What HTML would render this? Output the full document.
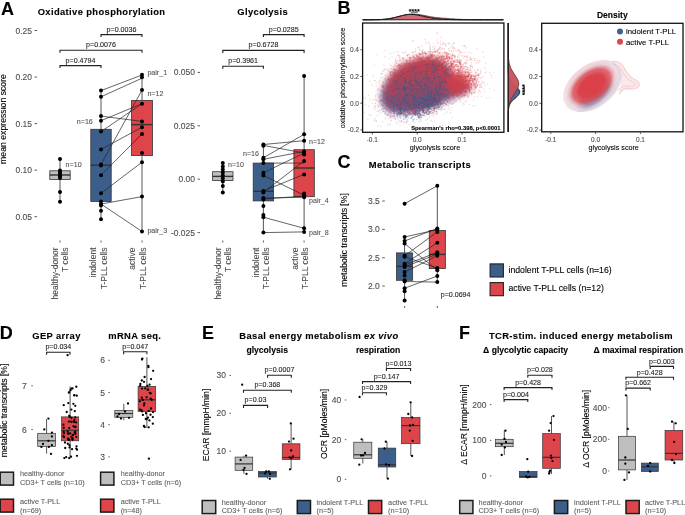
<!DOCTYPE html><html><head><meta charset="utf-8"><style>html,body{margin:0;padding:0;background:#fff;}svg{display:block;will-change:transform;} text{stroke:currentColor;stroke-width:0.1px;}</style></head><body>
<svg width="685" height="515" viewBox="0 0 685 515" font-family='"Liberation Sans", sans-serif'>
<rect width="685" height="515" fill="#fff"/>
<text x="1" y="14.7" font-size="18" font-weight="bold">A</text>
<text x="101.5" y="14.7" font-size="9.4" font-weight="bold" text-anchor="middle" letter-spacing="0.38">Oxidative phosphorylation</text>
<text x="5.9" y="119" font-size="8.7" text-anchor="middle" transform="rotate(-90 5.9 119)">mean expression score</text>
<line x1="34.5" y1="30.5" x2="37" y2="30.5" stroke="#333" stroke-width="0.8"/>
<text x="32" y="33.56" font-size="8.5" text-anchor="end" fill="#4D4D4D" color="#4D4D4D">0.25</text>
<line x1="34.5" y1="77.05" x2="37" y2="77.05" stroke="#333" stroke-width="0.8"/>
<text x="32" y="80.11" font-size="8.5" text-anchor="end" fill="#4D4D4D" color="#4D4D4D">0.20</text>
<line x1="34.5" y1="123.6" x2="37" y2="123.6" stroke="#333" stroke-width="0.8"/>
<text x="32" y="126.66" font-size="8.5" text-anchor="end" fill="#4D4D4D" color="#4D4D4D">0.15</text>
<line x1="34.5" y1="170.15" x2="37" y2="170.15" stroke="#333" stroke-width="0.8"/>
<text x="32" y="173.21" font-size="8.5" text-anchor="end" fill="#4D4D4D" color="#4D4D4D">0.10</text>
<line x1="34.5" y1="216.7" x2="37" y2="216.7" stroke="#333" stroke-width="0.8"/>
<text x="32" y="219.76" font-size="8.5" text-anchor="end" fill="#4D4D4D" color="#4D4D4D">0.05</text>
<line x1="60" y1="159" x2="60" y2="170.8" stroke="#555" stroke-width="1.0"/>
<line x1="60" y1="179.4" x2="60" y2="201.8" stroke="#555" stroke-width="1.0"/>
<rect x="49.8" y="170.8" width="20.4" height="8.6" fill="#BEBEBE" stroke="#333" stroke-width="0.8"/>
<line x1="49.8" y1="175" x2="70.2" y2="175" stroke="#333" stroke-width="1.4"/>
<line x1="101" y1="90.7" x2="101" y2="129.3" stroke="#555" stroke-width="1.0"/>
<line x1="101" y1="201.5" x2="101" y2="219.3" stroke="#555" stroke-width="1.0"/>
<rect x="90.8" y="129.3" width="20.4" height="72.2" fill="#3C5E8B" stroke="#333" stroke-width="0.8"/>
<line x1="90.8" y1="165.2" x2="111.2" y2="165.2" stroke="#333" stroke-width="1.4"/>
<line x1="142" y1="74.8" x2="142" y2="100.4" stroke="#555" stroke-width="1.0"/>
<line x1="142" y1="155.6" x2="142" y2="231.5" stroke="#555" stroke-width="1.0"/>
<rect x="131.6" y="100.4" width="20.8" height="55.2" fill="#DD454B" stroke="#333" stroke-width="0.8"/>
<line x1="131.6" y1="124.6" x2="152.4" y2="124.6" stroke="#333" stroke-width="1.4"/>
<line x1="101" y1="90.6" x2="142" y2="75" stroke="#222" stroke-width="0.7"/>
<line x1="101" y1="96.8" x2="142" y2="78.2" stroke="#222" stroke-width="0.7"/>
<line x1="101" y1="116.1" x2="142" y2="121.4" stroke="#222" stroke-width="0.7"/>
<line x1="101" y1="120.7" x2="142" y2="103.7" stroke="#222" stroke-width="0.7"/>
<line x1="101" y1="131.6" x2="142" y2="103.7" stroke="#222" stroke-width="0.7"/>
<line x1="101" y1="149.4" x2="142" y2="127.2" stroke="#222" stroke-width="0.7"/>
<line x1="101" y1="164.4" x2="142" y2="90.1" stroke="#222" stroke-width="0.7"/>
<line x1="101" y1="175.3" x2="142" y2="133.9" stroke="#222" stroke-width="0.7"/>
<line x1="101" y1="193.3" x2="142" y2="162.2" stroke="#222" stroke-width="0.7"/>
<line x1="101" y1="204" x2="142" y2="196.6" stroke="#222" stroke-width="0.7"/>
<line x1="101" y1="204" x2="142" y2="231.5" stroke="#222" stroke-width="0.7"/>
<circle cx="60" cy="159" r="2.0" fill="#000"/>
<circle cx="60" cy="170.5" r="2.0" fill="#000"/>
<circle cx="60" cy="172" r="2.0" fill="#000"/>
<circle cx="60" cy="173.5" r="2.0" fill="#000"/>
<circle cx="60" cy="175" r="2.0" fill="#000"/>
<circle cx="60" cy="176.5" r="2.0" fill="#000"/>
<circle cx="60" cy="178" r="2.0" fill="#000"/>
<circle cx="60" cy="192" r="2.0" fill="#000"/>
<circle cx="60" cy="201.8" r="2.0" fill="#000"/>
<circle cx="101" cy="90.6" r="2.0" fill="#000"/>
<circle cx="101" cy="96.8" r="2.0" fill="#000"/>
<circle cx="101" cy="116.1" r="2.0" fill="#000"/>
<circle cx="101" cy="120.7" r="2.0" fill="#000"/>
<circle cx="101" cy="131.6" r="2.0" fill="#000"/>
<circle cx="101" cy="149.4" r="2.0" fill="#000"/>
<circle cx="101" cy="164.4" r="2.0" fill="#000"/>
<circle cx="101" cy="165.5" r="2.0" fill="#000"/>
<circle cx="101" cy="175.3" r="2.0" fill="#000"/>
<circle cx="101" cy="193.3" r="2.0" fill="#000"/>
<circle cx="101" cy="201.5" r="2.0" fill="#000"/>
<circle cx="101" cy="204.1" r="2.0" fill="#000"/>
<circle cx="101" cy="205.5" r="2.0" fill="#000"/>
<circle cx="101" cy="210.7" r="2.0" fill="#000"/>
<circle cx="101" cy="219.3" r="2.0" fill="#000"/>
<circle cx="142" cy="74.8" r="2.0" fill="#000"/>
<circle cx="142" cy="77.3" r="2.0" fill="#000"/>
<circle cx="142" cy="90.1" r="2.0" fill="#000"/>
<circle cx="142" cy="103.7" r="2.0" fill="#000"/>
<circle cx="142" cy="121.4" r="2.0" fill="#000"/>
<circle cx="142" cy="127.2" r="2.0" fill="#000"/>
<circle cx="142" cy="133.9" r="2.0" fill="#000"/>
<circle cx="142" cy="153.1" r="2.0" fill="#000"/>
<circle cx="142" cy="162.2" r="2.0" fill="#000"/>
<circle cx="142" cy="196.6" r="2.0" fill="#000"/>
<circle cx="142" cy="231.5" r="2.0" fill="#000"/>
<path d="M60 68.1V65.6H101V68.1" fill="none" stroke="#222" stroke-width="1.1"/>
<text x="80.5" y="62.7" font-size="7.1" text-anchor="middle" fill="#222" color="#222">p=0.4794</text>
<path d="M60 52.7V50.2H142V52.7" fill="none" stroke="#222" stroke-width="1.1"/>
<text x="101" y="46.8" font-size="7.1" text-anchor="middle" fill="#222" color="#222">p=0.0076</text>
<path d="M101 37.1V34.6H142V37.1" fill="none" stroke="#222" stroke-width="1.1"/>
<text x="121.5" y="31.6" font-size="7.1" text-anchor="middle" fill="#222" color="#222">p=0.0036</text>
<text x="65.6" y="166.5" font-size="7.1" fill="#555" color="#555">n=10</text>
<text x="76.8" y="123.7" font-size="7.1" fill="#555" color="#555">n=16</text>
<text x="147.4" y="95.5" font-size="7.1" fill="#555" color="#555">n=12</text>
<text x="147.4" y="75.2" font-size="7.1" fill="#555" color="#555">pair_1</text>
<text x="147.4" y="232.8" font-size="7.1" fill="#555" color="#555">pair_3</text>
<line x1="60" y1="240.5" x2="60" y2="242.5" stroke="#333" stroke-width="0.8"/>
<line x1="101" y1="240.5" x2="101" y2="242.5" stroke="#333" stroke-width="0.8"/>
<line x1="142" y1="240.5" x2="142" y2="242.5" stroke="#333" stroke-width="0.8"/>
<text x="57.9" y="247.5" font-size="8.5" text-anchor="end" fill="#4D4D4D" color="#4D4D4D" transform="rotate(-90 57.9 247.5)">healthy-donor</text>
<text x="68.3" y="247.5" font-size="8.5" text-anchor="end" fill="#4D4D4D" color="#4D4D4D" transform="rotate(-90 68.3 247.5)">T cells</text>
<text x="96.3" y="247.5" font-size="8.5" text-anchor="end" fill="#4D4D4D" color="#4D4D4D" transform="rotate(-90 96.3 247.5)">indolent</text>
<text x="106.7" y="247.5" font-size="8.5" text-anchor="end" fill="#4D4D4D" color="#4D4D4D" transform="rotate(-90 106.7 247.5)">T-PLL cells</text>
<text x="135.4" y="247.5" font-size="8.5" text-anchor="end" fill="#4D4D4D" color="#4D4D4D" transform="rotate(-90 135.4 247.5)">active</text>
<text x="145.8" y="247.5" font-size="8.5" text-anchor="end" fill="#4D4D4D" color="#4D4D4D" transform="rotate(-90 145.8 247.5)">T-PLL cells</text>
<text x="262.7" y="14.7" font-size="9.4" font-weight="bold" text-anchor="middle" letter-spacing="0.38">Glycolysis</text>
<line x1="197.5" y1="72.4" x2="200" y2="72.4" stroke="#333" stroke-width="0.8"/>
<text x="195" y="75.46" font-size="8.5" text-anchor="end" fill="#4D4D4D" color="#4D4D4D">0.050</text>
<line x1="197.5" y1="125.8" x2="200" y2="125.8" stroke="#333" stroke-width="0.8"/>
<text x="195" y="128.86" font-size="8.5" text-anchor="end" fill="#4D4D4D" color="#4D4D4D">0.025</text>
<line x1="197.5" y1="179.2" x2="200" y2="179.2" stroke="#333" stroke-width="0.8"/>
<text x="195" y="182.26" font-size="8.5" text-anchor="end" fill="#4D4D4D" color="#4D4D4D">0.00</text>
<line x1="197.5" y1="232.6" x2="200" y2="232.6" stroke="#333" stroke-width="0.8"/>
<text x="195" y="235.66" font-size="8.5" text-anchor="end" fill="#4D4D4D" color="#4D4D4D">-0.025</text>
<line x1="222.8" y1="163.1" x2="222.8" y2="171.7" stroke="#555" stroke-width="1.0"/>
<line x1="222.8" y1="180.6" x2="222.8" y2="192.6" stroke="#555" stroke-width="1.0"/>
<rect x="212.6" y="171.7" width="20.4" height="8.9" fill="#BEBEBE" stroke="#333" stroke-width="0.8"/>
<line x1="212.6" y1="176.4" x2="233" y2="176.4" stroke="#333" stroke-width="1.4"/>
<line x1="263.4" y1="144.5" x2="263.4" y2="163.1" stroke="#555" stroke-width="1.0"/>
<line x1="263.4" y1="200.9" x2="263.4" y2="232.6" stroke="#555" stroke-width="1.0"/>
<rect x="253.2" y="163.1" width="20.4" height="37.8" fill="#3C5E8B" stroke="#333" stroke-width="0.8"/>
<line x1="253.2" y1="191.3" x2="273.6" y2="191.3" stroke="#333" stroke-width="1.4"/>
<line x1="304.1" y1="76" x2="304.1" y2="149.7" stroke="#555" stroke-width="1.0"/>
<line x1="304.1" y1="196.7" x2="304.1" y2="231.9" stroke="#555" stroke-width="1.0"/>
<rect x="293.9" y="149.7" width="20.4" height="47" fill="#DD454B" stroke="#333" stroke-width="0.8"/>
<line x1="293.9" y1="168" x2="314.3" y2="168" stroke="#333" stroke-width="1.4"/>
<line x1="263.4" y1="144.5" x2="304.1" y2="140.7" stroke="#222" stroke-width="0.7"/>
<line x1="263.4" y1="145.4" x2="304.1" y2="153" stroke="#222" stroke-width="0.7"/>
<line x1="263.4" y1="157.8" x2="304.1" y2="134.3" stroke="#222" stroke-width="0.7"/>
<line x1="263.4" y1="159.3" x2="304.1" y2="151.4" stroke="#222" stroke-width="0.7"/>
<line x1="263.4" y1="163.1" x2="304.1" y2="163.1" stroke="#222" stroke-width="0.7"/>
<line x1="263.4" y1="172.7" x2="304.1" y2="153.1" stroke="#222" stroke-width="0.7"/>
<line x1="263.4" y1="175.5" x2="304.1" y2="195.2" stroke="#222" stroke-width="0.7"/>
<line x1="263.4" y1="190.9" x2="304.1" y2="174.4" stroke="#222" stroke-width="0.7"/>
<line x1="263.4" y1="192.4" x2="304.1" y2="161" stroke="#222" stroke-width="0.7"/>
<line x1="263.4" y1="198" x2="304.1" y2="197.3" stroke="#222" stroke-width="0.7"/>
<line x1="263.4" y1="199" x2="304.1" y2="196" stroke="#222" stroke-width="0.7"/>
<line x1="263.4" y1="217.2" x2="304.1" y2="228.3" stroke="#222" stroke-width="0.7"/>
<line x1="263.4" y1="232.6" x2="304.1" y2="231.9" stroke="#222" stroke-width="0.7"/>
<circle cx="222.8" cy="163.1" r="2.0" fill="#000"/>
<circle cx="222.8" cy="166.4" r="2.0" fill="#000"/>
<circle cx="222.8" cy="169.5" r="2.0" fill="#000"/>
<circle cx="222.8" cy="172.5" r="2.0" fill="#000"/>
<circle cx="222.8" cy="175.5" r="2.0" fill="#000"/>
<circle cx="222.8" cy="178.5" r="2.0" fill="#000"/>
<circle cx="222.8" cy="181.5" r="2.0" fill="#000"/>
<circle cx="222.8" cy="186" r="2.0" fill="#000"/>
<circle cx="222.8" cy="192.6" r="2.0" fill="#000"/>
<circle cx="263.4" cy="144.5" r="2.0" fill="#000"/>
<circle cx="263.4" cy="145.8" r="2.0" fill="#000"/>
<circle cx="263.4" cy="157.8" r="2.0" fill="#000"/>
<circle cx="263.4" cy="159.3" r="2.0" fill="#000"/>
<circle cx="263.4" cy="163.1" r="2.0" fill="#000"/>
<circle cx="263.4" cy="172.7" r="2.0" fill="#000"/>
<circle cx="263.4" cy="175.5" r="2.0" fill="#000"/>
<circle cx="263.4" cy="190.9" r="2.0" fill="#000"/>
<circle cx="263.4" cy="192.4" r="2.0" fill="#000"/>
<circle cx="263.4" cy="198" r="2.0" fill="#000"/>
<circle cx="263.4" cy="199.5" r="2.0" fill="#000"/>
<circle cx="263.4" cy="205.9" r="2.0" fill="#000"/>
<circle cx="263.4" cy="215" r="2.0" fill="#000"/>
<circle cx="263.4" cy="217.2" r="2.0" fill="#000"/>
<circle cx="263.4" cy="232.6" r="2.0" fill="#000"/>
<circle cx="304.1" cy="76" r="2.0" fill="#000"/>
<circle cx="304.1" cy="134.3" r="2.0" fill="#000"/>
<circle cx="304.1" cy="140.7" r="2.0" fill="#000"/>
<circle cx="304.1" cy="151.4" r="2.0" fill="#000"/>
<circle cx="304.1" cy="153.1" r="2.0" fill="#000"/>
<circle cx="304.1" cy="154.6" r="2.0" fill="#000"/>
<circle cx="304.1" cy="161" r="2.0" fill="#000"/>
<circle cx="304.1" cy="174.4" r="2.0" fill="#000"/>
<circle cx="304.1" cy="193.5" r="2.0" fill="#000"/>
<circle cx="304.1" cy="195.2" r="2.0" fill="#000"/>
<circle cx="304.1" cy="197.3" r="2.0" fill="#000"/>
<circle cx="304.1" cy="228.3" r="2.0" fill="#000"/>
<circle cx="304.1" cy="231.9" r="2.0" fill="#000"/>
<path d="M222.8 68.8V66.3H263.4V68.8" fill="none" stroke="#222" stroke-width="1.1"/>
<text x="243.1" y="62.9" font-size="7.1" text-anchor="middle" fill="#222" color="#222">p=0.3961</text>
<path d="M222.8 52.9V50.4H304.1V52.9" fill="none" stroke="#222" stroke-width="1.1"/>
<text x="263.45" y="46.9" font-size="7.1" text-anchor="middle" fill="#222" color="#222">p=0.6728</text>
<path d="M263.4 37.1V34.6H304.1V37.1" fill="none" stroke="#222" stroke-width="1.1"/>
<text x="283.75" y="31.8" font-size="7.1" text-anchor="middle" fill="#222" color="#222">p=0.0285</text>
<text x="228" y="166.8" font-size="7.1" fill="#555" color="#555">n=10</text>
<text x="243" y="156.2" font-size="7.1" fill="#555" color="#555">n=16</text>
<text x="309" y="143.7" font-size="7.1" fill="#555" color="#555">n=12</text>
<text x="309" y="202.6" font-size="7.1" fill="#555" color="#555">pair_4</text>
<text x="309" y="234.7" font-size="7.1" fill="#555" color="#555">pair_8</text>
<line x1="222.8" y1="240.5" x2="222.8" y2="242.5" stroke="#333" stroke-width="0.8"/>
<line x1="263.4" y1="240.5" x2="263.4" y2="242.5" stroke="#333" stroke-width="0.8"/>
<line x1="304.1" y1="240.5" x2="304.1" y2="242.5" stroke="#333" stroke-width="0.8"/>
<text x="220.7" y="247.5" font-size="8.5" text-anchor="end" fill="#4D4D4D" color="#4D4D4D" transform="rotate(-90 220.7 247.5)">healthy-donor</text>
<text x="231.1" y="247.5" font-size="8.5" text-anchor="end" fill="#4D4D4D" color="#4D4D4D" transform="rotate(-90 231.1 247.5)">T cells</text>
<text x="258.7" y="247.5" font-size="8.5" text-anchor="end" fill="#4D4D4D" color="#4D4D4D" transform="rotate(-90 258.7 247.5)">indolent</text>
<text x="269.1" y="247.5" font-size="8.5" text-anchor="end" fill="#4D4D4D" color="#4D4D4D" transform="rotate(-90 269.1 247.5)">T-PLL cells</text>
<text x="297.5" y="247.5" font-size="8.5" text-anchor="end" fill="#4D4D4D" color="#4D4D4D" transform="rotate(-90 297.5 247.5)">active</text>
<text x="307.9" y="247.5" font-size="8.5" text-anchor="end" fill="#4D4D4D" color="#4D4D4D" transform="rotate(-90 307.9 247.5)">T-PLL cells</text>
<text x="337.5" y="14.3" font-size="18" font-weight="bold">B</text>
<defs><filter id="cb" x="-30%" y="-30%" width="160%" height="160%"><feGaussianBlur stdDeviation="3.2"/></filter><filter id="cb2" x="-50%" y="-50%" width="200%" height="200%"><feGaussianBlur stdDeviation="4"/></filter></defs>
<defs><linearGradient id="cgr" x1="0" y1="0" x2="0" y2="1"><stop offset="0" stop-color="#B8404F"/><stop offset="0.4" stop-color="#9E4460"/><stop offset="0.75" stop-color="#62558A"/><stop offset="1" stop-color="#6E5A8A"/></linearGradient></defs>
<g filter="url(#cb)" transform="translate(422 86) scale(0.93) translate(-422 -86)">
<path d="M378 96 C380 84 387 74 394 68 C401 62 409 58 417 57 C425 55 433 54 440 57 C446 60 450 66 455 72 C460 77 466 80 471 84 C474 88 470 94 463 96 C456 99 450 101 444 104 C436 108 428 110 418 112 C408 114 398 116 389 114 C381 111 377 104 378 96Z" fill="url(#cgr)"/>
</g>
<g filter="url(#cb2)">
<ellipse cx="458" cy="84" rx="11" ry="7" fill="#D8464F" fill-opacity="0.55"/>
<ellipse cx="424" cy="98" rx="11" ry="6" transform="rotate(-20 424 98)" fill="#4D6A9E" fill-opacity="0.55"/>
</g>
<path d="M428 109.3h0m-6.3-26.7h0m-13.6 13.4h0m35.4-5.2h0m-38.4 8.1h0m38.1 10.8h0m-27.3-10.2h0m35.5-14.7h0m-22.7 18.3h0m-29.2 2.7h0m22.4-9.5h0m-3.6 15.3h0m-28.1 11.5h0m54-23.7h0m6.3-26.8h0m-46.1 32.4h0m12.7-21.6h0m-12.7 18.9h0m9.1-18.3h0m12.7 12h0m-33.4 12h0m21.5-12.7h0m-22.1-11.5h0m29.8 8.2h0m14.9 18.2h0m-35.6-10.4h0m7.4-2.8h0m25.4-3.4h0m-20.6 21.2h0m12.7-25.8h0m-29.5 3.4h0m-5.5 6.8h0m28.4-0.5h0m-8.2-2.8h0m-7.9 7.9h0m22.3-25.9h0m-43.1 3.7h0m55.5-2.1h0m-32.8 2.7h0m29.6-15.7h0m-28.8 36.1h0m6.8-18.1h0m-12.2 29.2h0m12.3 5.6h0m-2.1-10.7h0m0.9-4.2h0m34.2-9.3h0m-8.2 0.9h0m-11.1 3.9h0m-4.1-25.2h0m-20.9 22.1h0m35.8-2.9h0m-21.2 6.3h0m2.7-14.1h0m0.2 7h0m-6.1 8h0m5.4-0.5h0m-7.6-16.8h0m-10.3 27.2h0m31.7 1.3h0m-11.7-41h0m32.8 8.2h0m-63.1 10.2h0m32.6 0.2h0m3.7-2.7h0m-5.9-1.5h0m19.5 8.8h0m-9.2-9.3h0m-13.2-7.9h0m-18 23.1h0m-13.7-8.5h0m26.6 6h0m-2.1-21.1h0m-16.7 24.2h0m39.9-22.3h0m-9.1 12.8h0m-17.6 2.1h0m9.2 10.6h0m-15.7 9.7h0m7.1-26.8h0m2.4-4.5h0m-13 5.5h0m-4 16.7h0m8.6-3.1h0m28.6 9.7h0m-12.4-9.1h0m-12.7-4.8h0m1.3-0.2h0m-22-4.2h0m12.9 30.2h0m40.5-43.5h0m6.4 6.8h0m-43.9-1.2h0m26.9 14.4h0m6.8 4.1h0m-44.8 6h0m31.3-1.6h0m-17.4-5.7h0m4.2-11.5h0m-3.8 14.5h0m-7.7 16.2h0m-2.9-47h0m-15 50.9h0m32.5-7.8h0m29.7-39.4h0m-0.5 10.1h0m-33.2 13.9h0m31.8-5.5h0m-28.8-10.6h0m-5.8-8.1h0m-0.2-0.4h0m-12 8h0m30.7 18.6h0m-28.8-9.9h0m21.1-2.9h0m-25.9 22.7h0m18.7-7.3h0m45.9-23.6h0m-77.3-0.4h0m-1.3 23.9h0m38.5-12.7h0m41.6 5.3h0m-55.1-6.9h0m15.4-4.1h0m-6.5 17.7h0m12.3-9.2h0m6.8-17.2h0m-35.9 8.9h0m19.8 25.7h0m0.1-25.9h0m0.7 31.6h0m13.5-27.1h0m18.9-6h0m-37.2 3.2h0m-2.1 13.7h0m-24.1-13h0m27 8.8h0m-10.7 18.1h0m11.4-36.8h0m20.4 0.8h0m-5 14.8h0m-48.5 24.6h0m41.8-20h0m-34.4-4.4h0m31.1-31.1h0m-4 36.7h0m27.6-24h0m-27.8 10.6h0m11.6-19.2h0m1.7 21h0m-53 24.5h0m62.5-26.5h0m-21 28.4h0m-13.4-27.4h0m15.4 0.7h0m-18.8 10.6h0m18-7.7h0m13.8-3.2h0m-6.3-2.1h0m-32.8 16.3h0m3.2-7.8h0m10.3-1.6h0m10.7-3.7h0m12.2-5.7h0m-21.2-5.3h0m10.7 29.8h0m2.3-7.1h0m9.1 3.7h0m-11.6-6.5h0m-7.7-7.5h0m19.4 9.7h0m-2.6 13.2h0m1.3-27h0m-19.6 2.3h0m12.7-1h0m-22.3 9.4h0m39-2.9h0m-6.3-5.9h0m1.2 7.7h0m-40.4 10.7h0m36.7-31.1h0m13.4 0.4h0m-9.2 21.1h0m-34.3 13.7h0m34.3-19.2h0m-4.3 4.3h0m-31.1 12.4h0m-4.6-7.7h0m31.4-29.1h0m-3.7 12.9h0m6.3 12.5h0m-27.7-3.1h0m44.9 13.4h0m-21-23.6h0m-13.3 24.8h0m13.7-20.3h0m-23.7-7.4h0m26.9 29.8h0m5.2-10.2h0m-27.8 0.9h0m-2.5 8.3h0m9.2-2h0m3 2.2h0m26.4-34h0m-35.9 31h0m22.2-8.5h0m7.4-7.1h0m-40.7 5.6h0m9.3-6.7h0m58.4-19.7h0m-63.3 26.6h0m47.2-19.6h0m-59.9 15h0m4.2 19.5h0m-17.1-8.1h0m30.1-11.3h0m30.3-1.8h0m-6.5 9.2h0m-4.1-5.9h0m13.5 5.6h0m-32.1 0h0m19-6.1h0m27.9-7.7h0m-14.9-5.8h0m-17.5 25.5h0m-1.1-21.9h0m3.4 4.9h0m-52.7 7.6h0m68.7 1.6h0m-0.1 3.8h0m-30.2-16.1h0m4.2 35h0m36.4-54h0" stroke="#4A6394" stroke-opacity="0.2" stroke-width="1.3" stroke-linecap="square" fill="none"/>
<path d="M406.7 106.7h0m48.6-48.8h0m-20.2 34.7h0m-8.7-22.7h0m7.7 11.8h0m16.7-7.6h0m-67.8 25.6h0m51.3-32.9h0m-8.1 19.2h0m-11.4 7.4h0m-37.6 22.2h0m39.8-29.5h0m17.3-8.5h0m-1.9-17.8h0m-3.3 21.2h0m-13 24.7h0m-28.5-5.2h0m54.2-29.3h0m-35.1 2.9h0m45.3 15.2h0m-33.8 26.6h0m65.6-58.7h0m-48.5 29.4h0m22.4-29.4h0m-10.2 12.9h0m15 9.7h0m-32.3-16.3h0m-15.6 27.8h0m-7.7 10.8h0m5-13.7h0m36.3-3.3h0m-27-7.9h0m5.8-4.9h0m-42.3 40.9h0m57.3-38h0m6.8-12.5h0m-45.9 23.2h0m40.3-23.5h0m-64.6 39h0m57.4 3.9h0m23.1-28.3h0m-26.2-14.4h0m9.5-18.7h0m-5.4 50.9h0m-8.5-6.3h0m-13.6-33.7h0m5.3 44.4h0m-0.1-24.3h0m21.6-10.8h0m-5.5 38.6h0m48.9-34.8h0m-80 15.3h0m53.4 2.6h0m-33.3-46.1h0m0.6 49.3h0m8.6-0.8h0m-53.7-10.8h0m43.3 16.3h0m-3.7-4.4h0m-10.4-10.2h0m21.8 8.4h0m-8.3-12.7h0m9.6 1.6h0m10.8 10.7h0m28.9-5.1h0m-56 1.2h0m8.6 16.6h0m-52-0.3h0m50.9-32.9h0m-7.5 43.7h0m24.2-25.1h0m-40.3 17.5h0m1.6-20.5h0m35.9-9h0m-52.9-16.7h0m39.2 42.9h0m-11.8-11.2h0m5.8-14.5h0m-15.2 6.1h0m50.2 8.5h0m-40.8-1h0m10.1 27.6h0m37.9-36.4h0m-36.3-12.2h0m16.3 30.2h0m9.4-31h0m-67 30.5h0m46.7-8.5h0m2.6 16.1h0m-30-51.3h0m-1.4 45.4h0m50-6.5h0m-37.6 0.6h0m11.2-17.4h0m24 0.3h0m-30.4-1.9h0m9 16.7h0m23.4-22.5h0m-60.2-13.3h0m36.1 24h0m-15.7-6.2h0m31.3 2.3h0m-36.5 17.1h0m35.8-17.3h0m9.8-7.3h0m-32-0.9h0m-28.6 26.1h0m0.9-16.5h0m-6.6 3.5h0m66.1 4.9h0m-33.3 5.8h0m26.5-13h0m21.3 5.3h0m-18-17.8h0m-30.6 22.5h0m-17.1 20.6h0m37.1-19.8h0m1.6-35.1h0m-45 0.7h0m19.3 44.8h0m-44-2h0m69.3-52.4h0m-26.7 28.4h0m-0.6 19.9h0m-18.5-34.5h0m5.9 23.5h0m68.1-19.9h0m-11.1 16h0m-62.7-4.3h0m44.9 13h0m-24.6 7.6h0m-22.9 19.6h0m42.7-29h0m12.9 12.5h0m-7.3-34.6h0m48.2 10.7h0m-84 33.3h0m-31.5-3.9h0m56-6.6h0m-19.9 8.2h0m37.9-22.7h0m-32-15.5h0m-5 25.1h0m31.5-9h0m-36.5-21.8h0m27.2 4.7h0m-17.6 11.1h0m49.9 16.6h0m-2.1-29.4h0m-14.4-2.6h0m-56.9 28.7h0m36.9-20.1h0m-18.2 11.9h0m20.4 13.5h0m27.4-3.7h0m-45.3-10.6h0m37.3 3.7h0m-14.6 32.3h0m15.5-36.2h0m-13.3 28.4h0m-13.5-52h0m-28.7 27.1h0m26.5 16.4h0m22.2-22.7h0m-13.7-10.7h0m9.7-33.1h0m-24.5 54h0m65-17.1h0m-60.2 12.8h0m38.4 3h0m-23.4 12.6h0m-3.8-34.5h0m-32.5 21.8h0m35.8-14.4h0m14.4-3.7h0m-64.1 4.6h0m30.6-16.1h0m24.9 40.3h0m-54.9 0.2h0m53-26.9h0m-34.1-1.5h0m16.8 37.7h0m-15.4 6.4h0m-5.4-6.4h0m44.5-41.9h0m-48 41.7h0m70.9-27.9h0m-18.2 20.9h0m15.4 5.5h0m-45.6-8.6h0m1.7 19.3h0m40.1-34.2h0m-34.2 17.1h0m-15.6 10.8h0m-0.2-40.4h0m9.9 1.8h0m14.8 41.2h0m-6.6-41.4h0m-33.1 9.5h0m-13.4 47.5h0m39.1-63.6h0m-8.3 23h0m2.7 1.4h0m22.5-29.6h0m-14.4 21.5h0m11.6-11.1h0m6.1 16h0m-33.7 17.9h0m33.3-30.4h0m-20.1-12.2h0m33.2 41.4h0m2.5-43.1h0m-9.5 10.9h0m-13 31.8h0m-7.7-14.4h0m-4 16.4h0m-37.5-19.9h0m27.6 27.8h0m-9.5-14.1h0m42.5-27.9h0m-42.4 7.9h0m22.3 10.4h0m2.4 19.2h0m-28.8-23.2h0m48.1-20h0m-24 16.7h0m-39.7-5.1h0m58.2 8.5h0m6.6-25.5h0m-10.5 27.3h0m-7.7 2.6h0m2.5-21.5h0m-19 28.1h0m-5.6-11.2h0m16.1 9.5h0m-29.8 0.9h0m56.5 3.2h0m-29.4-19.9h0m-18.9 30.7h0m21.5-38.4h0m-1.8 8.3h0m-25.1 5.8h0m30.5 37.8h0m5.4-41.1h0m-9 2.9h0m11.4 34.3h0m-12.8-29.2h0m-27.2 12.9h0m-6.2-12.3h0m1.8-28.9h0m19.8 5.6h0m15.7 21.4h0m38.2-33.4h0m-53.6 25.2h0m22.4 16.9h0m-19.9 11.1h0m12.9-35.4h0m-29.7 30.9h0m33.4 3h0m-14.3-9.5h0m16-18.9h0m10.7-38h0m-29.2 49.1h0m43.2-13.7h0m-21.4 4.8h0m9.3-13.1h0m-42 8.1h0m11.4 23.8h0m6.9-6.7h0m-9.9-10.6h0m31.6 7.9h0m-44.7-7.8h0m38.2 30.4h0m11.1-50.1h0m-15.1-8h0m-29.7 48.8h0m75-23.6h0m-58.1 13.7h0m-50.3-15h0m63.3 16.4h0m-11.3-44h0m1.9 44.6h0m29-38.7h0m-20.2-4.5h0m-50.1 54.9h0m38.7-6.8h0m2.3-29.2h0m-2.4 4.2h0m8.5 16.2h0m-41-12.9h0m11.6 20.4h0m13.9 5.4h0m9.3-8.8h0m-48.5-7.6h0m40.1 4.8h0m18.1-27.3h0m-8.3 32.3h0m-49.9 8.8h0m28.6 6.3h0m2.7-10.5h0m47.2-36.5h0m-45.5 21.4h0m16.5-14.1h0m-0.8-7.1h0m2.1 18.4h0m1.3-19.8h0m-22.5-0.7h0m-4.6 20.9h0m55-11.6h0m-26.2 17.7h0m6.5-41h0m-20.4 36.9h0m1.1 9.7h0m-14.8-41.4h0m15.8 33h0m53.1-29.3h0m-30.7 14.8h0m-18.5 32.6h0m-13.4-7.2h0m-7.9-0.5h0m18.9 19.5h0m54-23.7h0m-31.1-25h0m-2.9 13.4h0m31.7-11h0m-48.4 37.2h0m-11.7-12.3h0m26.2 32.3h0m-24.5-65.2h0m20.8-14.8h0m-16.6 41.1h0m-4 10.2h0m7.1 11.2h0m-33.5 13.4h0m48.9-34h0m-54 17.6h0m57.5-17.7h0m9.6 9.6h0m-45.7-41.7h0m22.9 41.4h0m0.8-31.1h0m-3.1-8.8h0m-2.1 39.4h0m30-4h0m-27-8.2h0m2-0.4h0m-22.7 38h0m-5.2-44.1h0m23.6 8.2h0m33.4-21.2h0m-17.8 46h0m-11.2-40.8h0m-27.3 24.1h0m26.1-42.9h0m35.5 15.9h0m-61.2 40.4h0m83.8-16.9h0m-46.2 15.9h0m-23.3-12.5h0m15.9 0.4h0m-3.8-2.1h0m-44.3 2.1h0m52.9-2.7h0m-18.9 3.9h0m36.2-23.5h0m36.5 19.6h0m-10.6-3.1h0m-12.6-26.7h0m-6.3 30h0m7.1-6.6h0m-3.8-5.1h0m1.9 6.1h0m-18.5 9.2h0m31-10.5h0m-37.6 10.6h0m20.1 2h0m-19.3 0.5h0m22.6-7.8h0m11.7-7.4h0m-5.2 19.2h0m-23.2-21.9h0m35-3.3h0m-8.9 7.7h0m0.7-0.6h0m0.5 20.2h0m-9.3-26h0m-16.3 17.6h0m15.3-7.1h0m18.5 7.5h0m-21-7.2h0m-2.1-4.1h0m12.2-8.5h0m-19.4-5.5h0m3 39.2h0m25.1-4.3h0m-12.3-22.3h0m3.6-5.2h0m7.3-0.3h0m-13.3-3.6h0m-14.8 26.1h0m-2-23.1h0m13.8 14.1h0m3.8-16.5h0m-15.9 17.2h0m12.5-19.8h0m-18.6 21.4h0m21.6-21.3h0m-13 9.5h0m6.3 1.9h0m12.6 2.6h0m-9.8-11.2h0m-14.8 8.5h0m51.3-11.5h0m-40.9 11.9h0m-4.8 7.3h0m8.9-5.9h0m23.3-11.7h0m-5.7-15.6h0m-27.6 38.2h0m21.6-25.1h0m-11 13.1h0m-9.4 4.9h0m10.8 8h0m2.1-11.9h0m15.8-4.9h0m-36.8 16.3h0m10.3-16.9h0m1.1-7.3h0m11.2 18.4h0m-10.1-4h0m6.3-4.1h0m-18.4-10.8h0m29.6 18.6h0m-3-1.9h0m4.8 3.6h0m-13.1 6.7h0m10.1-16.8h0m-7.9-1.7h0m7.9-6.2h0m-2.1-4.9h0m-4.9-4.2h0m-11.2 22h0m28.2-12.7h0m8.1 22.8h0m-43.9-0.3h0m13.4-6.4h0m35.3-13.4h0m-27.4 12.4h0m15.9-5.6h0" stroke="#D9434E" stroke-opacity="0.2" stroke-width="1.3" stroke-linecap="square" fill="none"/>
<path d="M400.4 89.9h0m0.4 9.5h0m16.8-11.1h0m14-6h0m-1.1 8.1h0m-38.3 15.2h0m30.6-16.6h0m-7.9-11.6h0m4.7 11.7h0m-22.5 14.7h0m-4-2.3h0m-2.7-5.3h0m9.8 16.2h0m16.7-26.9h0m20.5 3.2h0m-15.8 2h0m-4.5 2.5h0m11.7 5.2h0m-15.4 27.6h0m17.5-49.7h0m-7.9 10.9h0m-26.7-12.8h0m5.7 20.5h0m18.6 3.6h0m-11.8-5.4h0m11 9.1h0m-14.7-26h0m37.1 22.7h0m-30.2 1.6h0m-20.7 0.8h0m18.1-33.2h0m35 31h0m-0.8 1.3h0m-41.6-10.8h0m30.3 7.4h0m-31 4.8h0m30.4-1.6h0m-38.9-12.8h0m22.4 34.9h0m0.8-25.8h0m-8.9 0.4h0m41.9 11.1h0m-40.8-17.9h0m21.3 18h0m3.3-19.5h0m-29.5 16.6h0m36.5-20.5h0m-29.9 5h0m-32.5 21.5h0m31-13.7h0m16.8-23.6h0m22.6 28.2h0m-24-21.4h0m-11.9 27.3h0m21.7-9.3h0m0.9-2.7h0m-0.2-9.1h0m9.4 14.3h0m-37.4-7.8h0m21.4-22.5h0m-52.2 28.6h0m39.2-4.3h0m-7.1-2.3h0m29.3-0.7h0m-7 7.4h0m-13-1.2h0m-0.8 3.5h0m7.5-0.9h0m-17.6-9.5h0m-11.4 6.4h0m16.9-18.9h0m-9.7 7.5h0m6.2 12.1h0m-13.5 12.6h0m9.8-6.1h0m31.5-32.1h0m-14.9 14.8h0m-35.3 15.2h0m20.4 1.1h0m34.5 4.1h0m-46.4-2.6h0m8.9 1.5h0m16.3 8.8h0m-25.7-22.7h0m12.9 14.3h0m-17.3-21.2h0m-0.4 26.6h0m26.3-0.7h0m-27.4-12.1h0m6.6 16.5h0m9.7-21.1h0m5.8-11.5h0m-20.6 31.2h0m32.8-38.3h0m-20.2 25.5h0m-2-11.9h0m8.8 17.2h0m17.7-11.6h0m-23.8-7h0m-16.7 1.5h0m33.9 0h0m4.1-1.5h0m-0.8 16.1h0m-31.6-16h0m43.6 1.8h0m-45.1 18h0m32-13.5h0m8.6 7h0m-39.1 10.6h0m36.4-20h0m-2.9 9.6h0m-16.5 15.1h0m6.5-18.5h0m19.5-24.4h0m-6.5 15h0m4.4-11.5h0m-51.8 34.8h0m6.7-6.6h0m55.8-32.6h0m-17.7 33.3h0m-14.9-3.7h0m22.5-13.1h0m-46.8 19h0m63.9-9.1h0m-49.4 10.7h0m17.4-6.8h0m-34.5 2.1h0m1.1-7.6h0m51.2-8.2h0m-21.8-5.6h0m-15.7 2.5h0m-11.3 10.7h0m28.6 10.6h0m-8.4-21.8h0m29.9-1.3h0m-7.2 12.1h0m-35.4-22.8h0m24 40.5h0m34.4-11.8h0m-30 1.6h0m0.4 3.8h0m-24.1 5.1h0m10.2-11.4h0m-2.9-3.6h0m-6-0.8h0m-7.6 12.8h0m-0.9-1.1h0m7.9-8.7h0m17.1-16h0m-23.6 31.1h0m32.8-17h0m-0.1-34.6h0m2.4 40.3h0m6.6-15.3h0m-15.1-5h0m-3.9 20.8h0m-21.9-13.7h0m39.6 9.4h0m-37.4 0.2h0m39.7-6.8h0m-33.3 20.9h0m7.2-20.6h0m-5-0.3h0m-22.5 5.6h0m36-14.5h0m-28-0.8h0m-2.2 19.4h0m11.9-3.6h0m-2.5-13.8h0m49.2-4.7h0m-72 36.3h0m53.3-4.2h0m-39.4-15.4h0m26.6-1.1h0m-10.6-10.3h0m3 5.4h0m53.3-16.2h0m-33.6 18.4h0m-15.8-8.3h0m-30.5 18.6h0m8.2-2.7h0m28.4-29.2h0m-33.8 20.2h0m37-13.1h0m16 24.4h0m-36.8-29.9h0m16.7 22.1h0m15.4 8.9h0m4.9-14.7h0m-41.2-2.3h0m6.7 18.9h0m2.5 6h0m-4.2-24.2h0m7.8-5.7h0m7.9-11.2h0m-20.9 23.6h0m7 12.7h0m38.7 0.6h0m-36.7-13.6h0m-0.9 9.2h0m-5.7-4.1h0m17.8-17h0m6.5 25.7h0m4.6-16.4h0m26.3-18.2h0m-52.6 8.3h0m32.7 12.5h0m-11.2-3.7h0m-23.8 19.9h0m18.4-14.2h0m16.3-7.3h0m10.4 22.7h0m-34-15.7h0m-11.6 5.7h0m-9.9-12.2h0m62.1-0.6h0m-38.2 16.6h0m13.5-18.5h0m-9.2-18.1h0m10 30h0m-11.1-0.1h0m-5.4-15.4h0m-11.6 21.5h0m-4.5-11.7h0m21.7 6.2h0m11.2-10.1h0m-31.6 5.8h0m57.4 10.5h0m-37.6-11h0m4.1 3.5h0m0.3 21.3h0m-20.8-29.3h0m-19-2.2h0" stroke="#4A6394" stroke-opacity="0.2" stroke-width="1.3" stroke-linecap="square" fill="none"/>
<path d="M399.7 114.7h0m30.6-18.3h0m-3-22.5h0m-10 29h0m8.9-23.7h0m-37.4-8.1h0m34.4 26.7h0m-5.4-6.7h0m22.7-6.2h0m-35-32.2h0m30.7 31h0m-22.6-0.8h0m-33.6 15h0m54.2 2.8h0m16.3-16.4h0m-8.4-18h0m-33.2 22.3h0m20.9-14.7h0m56.2-10.3h0m-56.4 22.7h0m49.9-25.8h0m-48.3 30.4h0m-27.6-11.1h0m-2.7 25h0m-23.6-14.4h0m54.2 17.7h0m8.7-5.7h0m-54.4 7.5h0m47.8-66.3h0m-52.7 41.5h0m17.3-29.9h0m-4.5 24.2h0m14-6.4h0m29.4-12.7h0m-26.7 19.6h0m46.5 15.3h0m-61.8 2h0m42.2 15.4h0m-24.1-31.2h0m31.4-20h0m5.2-17.7h0m-12.3 40.1h0m-9.1-20.4h0m15.5 20.1h0m-64 18.1h0m52.2-39.8h0m-31 14.6h0m8.4-19.1h0m10.6 16.5h0m15.7-10.1h0m-21.9 40h0m-34.6-6.2h0m40.9-1.9h0m30.5-27.3h0m-54.3 40.9h0m5-33h0m48-9h0m-30.2-1.3h0m37.6 13.1h0m-45.1-3.6h0m22.3 4.7h0m-16.8-6h0m38.6 2.8h0m-39.2-14.6h0m6 27.5h0m-32.1-5.4h0m33.3-15.4h0m-9.8 4.4h0m29.3-17.3h0m-26.4 30.7h0m41.4-18.6h0m-37.4 49.2h0m9-68.1h0m13.1 40.8h0m-10.8-40.6h0m-11 56.1h0m13.7-19.4h0m26.1-4.3h0m5.5 6h0m-6.7-25h0m-79.7 33.1h0m54.6-11.4h0m-56 27h0m51.2-52.8h0m-31.3 27.8h0m50.5 3.6h0m-17.3-12.5h0m-13.8 7.6h0m15.3 20.2h0m-2.3-24.3h0m25.2 1.9h0m-38-0.2h0m19.8 4.4h0m2.8-35h0m-47.5 14h0m36.1 35.1h0m13.1-52.9h0m-23.2 34.4h0m-9.9-7.4h0m53.9-7.7h0m-39.2-6.2h0m-12.1 38.1h0m-28.1 3.3h0m46.7-47.4h0m3.9 22h0m-19.8 21.6h0m26.1-18.4h0m-65.2 28.4h0m44.6-11.6h0m45.7-40.8h0m-28.7 4h0m-48.5 18.2h0m55.7 2.9h0m-53.7-0.1h0m26.3 15.8h0m19.5-29.5h0m-3 6.2h0m-4.2-1h0m18 14h0m-41.3 12.7h0m7.4-4h0m30.9-19.1h0m15.4-19.4h0m-46.3 54.5h0m18.4-25.6h0m-24.3-21.2h0m-20.9 33.8h0m42.8-54.9h0m-29.2 61.8h0m13.2-15.4h0m-31.4 19.6h0m20.1-23h0m-19 10h0m21.8-1h0m-5-21.2h0m16.5 10.1h0m45.7-3.7h0m-40.2 3h0m31.3 5.6h0m-61.3-3.4h0m68.3-9.7h0m-21.9 1.2h0m-10-11.1h0m27.7-2.2h0m25.3 4.8h0m-62.4 13.9h0m13.9-3.7h0m-28-4.5h0m-7 16.9h0m4.8-15.2h0m27.8-7.7h0m29.4-0.4h0m-9.8 11.2h0m-2.8-4.4h0m-62.9 28.4h0m36.3-31.3h0m6.5-0.8h0m3 2.2h0m14.5 6.7h0m-28 8.7h0m7.8 10.3h0m-13.3 2h0m23-19.8h0m-43.4 35.9h0m34.3-32.8h0m21.2-23.7h0m-0.2 18.5h0m-42.5 38h0m16.6-39.5h0m-18.3 8.7h0m-7.3 26.3h0m22.4-20.6h0m8.6-29.3h0m3.9 13.6h0m-15.5 18.8h0m37.3 0.1h0m-11.3-26.4h0m7.7 4.4h0m-3 16.4h0m16.4-13.7h0m-48.2-0.4h0m-33 4.5h0m51.7-3.7h0m11.2-33h0m-37.7 7.7h0m30.5 29.7h0m-29.5-5.3h0m4.2-11.8h0m7.6 37.3h0m50.1-4.5h0m-20.9-37.4h0m24.5 2.4h0m-29.8 15h0m-18.1 18.3h0m1.2-1.1h0m5.2-12.7h0m0.3-3.7h0m-27.8 11.6h0m66-37.7h0m-50.5 33.1h0m1.3 15.4h0m36.9-17h0m-52.1 2.2h0m10.7 21.7h0m-39.4-26.7h0m36.8 15.4h0m0.3 4.2h0m20.2-36.8h0m20.8-20h0m-10.8 82h0m-34.5-34.5h0m51-30.3h0m-0.6 7.7h0m-40.6 8.9h0m10.4 22.9h0m35-41.9h0m-33.4 39h0m-28.7 9.8h0m47.2-12h0m1.6-2.8h0m-9.9-21.6h0m0.4 26.2h0m-3.1-54.7h0m-10.8 47.9h0m49.2-18.1h0m-41.5 2.9h0m17.7 43.4h0m-10.7-27.7h0m-19.9 1.5h0m23.8-14.5h0m-69.1 8.9h0m28.3-1h0m16 2.6h0m-25.6 5.2h0m32.3 4.6h0m4.4-24.3h0m-9.1 36.6h0m-4.6-9.1h0m-22.9-12.2h0m39.3-2.4h0m-1.4 22.2h0m-9.8-5.3h0m20.1-35.7h0m-20.9 29.2h0m-11.8 1.3h0m-10.7-16.7h0m46.8 23.2h0m11-25.8h0m-28.6-14.2h0m26 15.1h0m-17.3-18.8h0m-17.2 12.9h0m-34.9 22.2h0m74.9-12.4h0m-61.9 26.8h0m50.2-37.8h0m1.4 28.5h0m-10.2-25.8h0m-21.6 43h0m-1.9-43.2h0m-1 13.4h0m28.2-19.7h0m-18.6 24.2h0m-8.8-37.4h0m0.3 41.4h0m41.9-23h0m-25.5-12.6h0m9.7 16.8h0m-6.7 35.6h0m18.9-54.6h0m-16.6-10.1h0m-21.5 77.9h0m-0.3-41.7h0m49.7 6.5h0m-12.6-28.3h0m-43.3 0.1h0m13.9 34.1h0m-6.3-32.2h0m-8.4 9.7h0m14.2-9h0m-5.5 5.5h0m-30.2 19.9h0m5.4 9.3h0m-10.5-0.9h0m81 4.5h0m-55.8-12.9h0m23-8.1h0m-4-2.9h0m-0.8-10.1h0m-13.2 10.1h0m24.5 7.9h0m19.8-31.9h0m-13.6 13.2h0m-44.3 28.8h0m5.2 3h0m-7.1-12.7h0m21.4-5h0m-18.3 6h0m28.8-15.3h0m18-0.5h0m-0.9 1.9h0m-56.6 9.5h0m22.1 25.2h0m-8.3-27.7h0m73-3.2h0m-21.9 22.7h0m-42.1-35.5h0m13.4-23.7h0m56.7 8.6h0m-48.9 22.8h0m6.2-2.2h0m-34.2 3.3h0m70.9 4.5h0m-92.3-29.5h0m34.5 38.8h0m-7.9-5.9h0m50.3-5.8h0m-21.1 27.3h0m-37.2-16.8h0m10.8-0.3h0m30.7-28.6h0m-24.9 10.8h0m7 6.7h0m-5.1 20.5h0m17.7-3.1h0m28.8-24.3h0m-52.1-1.8h0m74.8 6.7h0m-66.5 14h0m0.3-0.4h0m0.5-9.1h0m2.5-4.6h0m-34.5 0.7h0m53.7 22.3h0m-62.1-19.3h0m4.7 12.2h0m51-16.4h0m-6.6 7.9h0m-6.1 42.1h0m1.2-24.3h0m23.9-11.1h0m4.9 0.9h0m-54.2 9.5h0m-1.7-27.8h0m-2.9 13.6h0m1-8.8h0m27.3 23.9h0m4.8-34.2h0m-42.1 38h0m7-13.1h0m54.6 11.5h0m-47.8-30.9h0m16.5 26h0m-7.9-25.2h0m14.3 6.2h0m53.3-1h0m-29.5-7.1h0m-62 23.7h0m46.5-39.3h0m44.8 6.6h0m-43.6 10.3h0m-25.4 19.4h0m15.4-0.4h0m-14.8 4.5h0m21.2-40.2h0m6.6 29.5h0m15.3-14.2h0m6.4 15.2h0m5.5 4.2h0m-18.3 1.1h0m4.5-2h0m-15.8-8.9h0m21.1-3.1h0m7.6 7.9h0m-22.9-0.5h0m30.3 6.7h0m-6.8-13.3h0m18.8 7.4h0m-23.6 7.5h0m5.8 0.2h0m13.6-0.2h0m-0.2-19.8h0m-0.9 17.9h0m-11.6-4h0m-2.8-7.2h0m-5.1 9.9h0m6.2-8.2h0m-18.9-6.4h0m2.3 3h0m-1.4 0.5h0m-5.2 5h0m9.9 11.3h0m17.8-7.2h0m-14.9 2.9h0m16.6-13.9h0m-4.8 7.6h0m-13.4-10.8h0m24.8 17.7h0m-30.2-7.6h0m21.4-12.3h0m-9.2 3.5h0m-7.3 18h0m15.6-13.7h0m9.3-2.9h0m-20.1 7.8h0m-16.2 10.8h0m18.1-6.7h0m4.8-8.5h0m-5.2 8.4h0m5.9-8.1h0m-9.5 5.5h0m16.6 7.7h0m-5.8-3.7h0m0.5-2h0m15.7 2h0m-16.7 1.6h0m-9 6.7h0m6.7-22.9h0m17 22.3h0m-19.4-2.6h0m-10.7 3.5h0m-3.2 4.4h0m23.5-26h0m-3.1 13.3h0m6.9-12.8h0m-14.6 9.2h0m10.4-15.4h0m-6.4 14.6h0m-3 10.9h0m-4.2-11h0m12.3 2.8h0m-1.8-2.1h0m21.4 12.2h0m-35-15h0m0.4 6.8h0m-14.4-8h0m10.6 19.9h0m-14.1-14.4h0m41.6 5.7h0m-24.7-4.2h0m-6.4-14.6h0m8.7 21.9h0m3.3-13.9h0m13.2 8h0m-15.4-4.4h0m11.6 3.9h0m10.5-4.2h0m-16.2-5.4h0" stroke="#D9434E" stroke-opacity="0.2" stroke-width="1.3" stroke-linecap="square" fill="none"/>
<path d="M420.8 115.5h0m10.5-21.7h0m-16.7 6.4h0m15.1-4.2h0m3 14.7h0m-30.1-0.4h0m13.7-21.5h0m-27.7 4.3h0m58.7-13.9h0m-15.5 13.9h0m-46.2 3.7h0m33 5.6h0m-7.5 0.2h0m-8.1-19.1h0m26.5 1.5h0m14 14.8h0m-30.2 6.8h0m42.2-37.3h0m-70.2 30.5h0m46.6-16.9h0m-32 15h0m38-3.4h0m-61.6 26.2h0m57-25.6h0m-34.8 2.6h0m-4.9 15.9h0m25.2-37.6h0m8 34.5h0m-24.7-4.8h0m19.7-11.9h0m-18.1 21.8h0m27-23.5h0m-15.5-7.8h0m-19 15h0m18.3 15.5h0m-16.1-6h0m-13-5.2h0m11.1-22.8h0m-1.2 30.3h0m12.7-3.8h0m-8 18.5h0m10.5-35.6h0m18.6 0.7h0m-7.6 19.3h0m-30.5-2.5h0m40.3 12.8h0m3.8-26.1h0m1.4-1.2h0m-29.1 9.6h0m13.6 3.5h0m26.3-26.7h0m-33.9-1.8h0m-14.2 13.3h0m7.3 22.8h0m2.4-22.6h0m-5.9-7.2h0m-12.1 27.1h0m24.3-11.2h0m-6.5-14.9h0m-0.1 5.7h0m23 0.6h0m-32.4 21.2h0m35-25.6h0m-15.5-9.5h0m5.1 30.4h0m-30.8 0.3h0m40.7-21.2h0m-42.6 22.1h0m7-4.2h0m48.6-9.7h0m-15.2-2.2h0m-13.3 10.9h0m-27.3 13.3h0m0.6-25.9h0m28.9-15.5h0m7.3 23h0m-19.9-9.3h0m11.7 23.5h0m-1.6-13.7h0m-6-3.8h0m19-4.5h0m-16.1-10.4h0m24.8 13.3h0m-7.7 6.4h0m-16.7 0h0m0.4 1.9h0m6.5 10.2h0m1.9-13h0m5.3-4.9h0m5.4 1.2h0m-14.1-2.1h0m1.9 10.7h0m5.5-7h0m-4.9 5.8h0m-34.4 15.3h0m9.2-22h0m31.6 20.8h0m-4.4-30h0m-13-3.8h0m-5.5 2.9h0m-5.9-4.4h0m29.3 11.7h0m-26.1-1.1h0m19.2-19.8h0m-15.6 12.5h0m3.9 18.1h0m-26.7 5.1h0m23.7 1.6h0m18-8.4h0m-23.4-9.4h0m26.5-2.5h0m0.9 4.3h0m-12.8-4.4h0m-11.5 4.2h0m7.7 11.2h0m-1.5-16.1h0m9.2 6.5h0m-5-6.1h0m22.1 12h0m-1 5.2h0m-40.3-18.3h0m1.4 7h0m21.2 9.5h0m4.1 0.2h0m6.6-1.8h0m-24.7 3.5h0m2-17.5h0m-21.6-6h0m34.3 9.7h0m-19.9 5h0m24.5 3.3h0m-34-0.5h0m-1.1 9.6h0m38.8-15.3h0m-1.8-10.9h0m-24.7 22.7h0m12.7-2.6h0m10.2 4.3h0m0.6-24.5h0m-3.3-0.2h0m-20.7 5.9h0m18.2 19.4h0m-25.3 3.2h0m16.6-26.2h0m-10.7 24.1h0m25.6-33.3h0m17.9 21h0m-24.9-13.5h0m-29.1 40.6h0m24.4-37.4h0m-20.7-7.9h0m13.9 25.9h0m17.1-14h0m-49.8 14.7h0m84.2-24h0m-42.3 20.9h0m-5.1-20.4h0m26.3 1.2h0m-34 24.2h0m42.7 4h0m-42.7-37.5h0m9.2 12.7h0m14.3 9h0m0.1-3.3h0m-44.9 13.4h0m32.1 7.3h0m-28.9-32.6h0m36.6 11h0m-2 29.1h0m-20.8-0.3h0m8.7-12.1h0m-6.9 2.8h0m-4-16.8h0m-2.2-3.3h0m-15 8.8h0m48.6-16.2h0m-27.7 19.4h0m-13.9 1.9h0m39.3 5.2h0m-61.6-6.2h0m43.7-3.2h0m-44.8 11.2h0m18.4-11.7h0m57.6-6.7h0m-12 16.1h0m8.3-10.7h0m11 2.4h0m-23.7-11.2h0m-19.8 0.1h0m41.7-1.4h0m-34.5-0.4h0m-43.1 30.2h0m68.9-18.9h0m7.2 3h0m-19.6-17h0m8.7-6.7h0m-5.8 21.2h0m-29.2-7.9h0m32.6-0.8h0m-12.6 0.7h0m-10.6 6h0m-16.2 11.3h0m-2.8-12h0m44.1-8.3h0m-13.5-2.9h0m-3.8 10.3h0m25.6 6.6h0m-20.1 11.6h0m34.3-36h0m-34.7 8.8h0m1.6 13.1h0m-28.2 13.1h0m-12.8-18.6h0m24.7 9.3h0m15.6 0.4h0m10.8 0.1h0m-66.8-7.1h0m34.3-14.4h0m7.4 2.3h0m28 9.5h0m-11.9 0.4h0m-22.3-1.7h0m22.2-2.6h0m-15.7 3.7h0m2.2-9.4h0m-14.4 13.6h0m9.5-6.8h0m28.5-2.4h0m-18.6-13.6h0m-15.6 21.7h0m47.4-7.4h0m-24.9 26.2h0m13.6-35.1h0" stroke="#4A6394" stroke-opacity="0.2" stroke-width="1.3" stroke-linecap="square" fill="none"/>
<path d="M378.5 82h0m64.1 4.7h0m28.5-33.5h0m-87.3 12.2h0m52.3 8h0m-1.1-8.8h0m23.2-15h0m-30.4 27.9h0m-8.1 33h0m8.7-23.2h0m-29.2-21.8h0m32.1 18.5h0m0 13.6h0m37-25.6h0m17 0.7h0m-60 0.1h0m13-5.5h0m-41.1-15.9h0m34.3 19h0m-61.7 10.7h0m65.4 3.9h0m-13.7-9h0m10.1-3h0m-13 3.4h0m24.2 4.2h0m-8.3 16.1h0m-3.3-33.3h0m-43.5 61.5h0m50.4-60h0m-6.5 30.3h0m0.3 3.6h0m8-17.4h0m-53.6 32.5h0m55.1-25.6h0m-21.5-30.4h0m-46.9 17.6h0m40.2-13.1h0m7.4 11.6h0m29.3-17.6h0m2.4 13.4h0m-26.4-28.2h0m50.2 41.6h0m-57.1-0.6h0m-9.1 2.4h0m-21.3 14.7h0m49.4-16.9h0m-17.5 11.1h0m-29.6-9.2h0m49.2-24.5h0m-30.5 51h0m4.9-19.4h0m14 0.7h0m-51.2-37.8h0m54.4 55.2h0m-24.2-36.3h0m-21.6 10.5h0m19.9 18.6h0m41.9-22.6h0m-8.1-31.5h0m-13 49h0m33.6-27.5h0m-62.6 17.9h0m-7.9-1.2h0m33.1-1.5h0m-3.1 10.1h0m-27.2-10.5h0m38.7-13.4h0m-20.2 24.9h0m27.3-35.1h0m-29 28.4h0m-14.3 9h0m36.1-35.2h0m3.1 13.5h0m-17.4 0.8h0m19 15.6h0m-61.7-28h0m39.5 21.1h0m-28.8 12h0m31.2-25.8h0m18.7 15.7h0m-13.7 26.9h0m33.3-32.7h0m-64.4 29.6h0m13-34.4h0m35.7 0.8h0m-3.9 20.6h0m29.7-53.6h0m-20.1 47.3h0m-27.1-13.2h0m-1.2-8.8h0m40.3 29.5h0m-11.1-9h0m-16.1-18.1h0m12.5-5.8h0m-13.3 18.8h0m4.7 6.7h0m-11.9-27.7h0m-7.4 29.5h0m15.1-19h0m22.6-0.8h0m-69.1 25.7h0m22.7-17.6h0m23.7-40.6h0m-24.2 30.8h0m11.4 18.7h0m-12.3-3h0m-14.6-2h0m38.2-24.9h0m-31.7 27.4h0m-7.6-5h0m10.7-10.9h0m5-20.8h0m-5.5 60.7h0m48.7-32.9h0m-12.1 8h0m-2.1-33.9h0m-30.9 17.1h0m13.7-22.9h0m28.6 26.7h0m-38.5 11.1h0m51.2-24.5h0m6.6 12.1h0m-69.2 5.3h0m0.8 10.7h0m31.1-19.7h0m-28.4 32.2h0m12.7 21.1h0m-14.1-39.9h0m27.5 6h0m7.4-34.2h0m11.8 0.4h0m10.1 5.3h0m-56.3 35.7h0m35 6.4h0m-17-44.2h0m2.6-3.5h0m-13.4 4h0m38.1 27.1h0m24.2-39h0m-45.6 17.7h0m34.1 6h0m-50.2 9h0m14.1 37.1h0m9.3-26.9h0m-3.8-15.1h0m28.8 2.5h0m10.4-32.3h0m-67.2 51.6h0m41.5 1.6h0m33-30h0m-60.2 6.7h0m-17 10.1h0m23.2 17.3h0m7.3-29.7h0m27.9 5.8h0m-17 7.5h0m-15.4 12.3h0m-23.5-41.4h0m47.1 34.2h0m-44.1-9.6h0m13.5-41.1h0m0.1 62.6h0m26.3-36h0m-48.8 31.5h0m54.4-38h0m3.7 30.6h0m-58.2 23.9h0m17.4-18h0m-17.1-22.3h0m38-8.2h0m2.3 30.8h0m-24.1 5.7h0m16.6 5.9h0m9.6-13.2h0m-38.7-2.4h0m62-23.9h0m-75.9 32.2h0m21-7h0m-31.6 19.2h0m74.4-34.7h0m-58.2 31.2h0m52.6-60h0m-18.3 13.8h0m20.4-23.8h0m-24.1 40.1h0m27.9-24.6h0m-26.6 21.7h0m-8.1 12.3h0m12.7-7.4h0m11 10.4h0m-31.1-22.9h0m32.7 5.1h0m10 23.7h0m-42.5-21.4h0m30.3 6.2h0m12.3-25.1h0m-6.2 43.9h0m-48.4 9.3h0m30.7-32.8h0m-11.5-12.6h0m31.4 25.3h0m-43.6-25.9h0m40.7 6.7h0m3.6 11.4h0m22.6-17.4h0m-30.9 16.5h0m-54.5 13.2h0m34.6-56.2h0m12 51.6h0m-39.6-0.7h0m6.8 9.8h0m21.1-8.5h0m18.4-33.8h0m-37.8 52.7h0m24.1-7h0m7.1-40.6h0m15.8 29.3h0m-45.6-14.7h0m19.8 18.8h0m-10.5-0.3h0m37-48.9h0m0.1 16.3h0m-32.7 17.8h0m28.5-12.5h0m1.3 8.3h0m-44.7-7.8h0m22.8 7.2h0m21.1 12.1h0m3.1-2.7h0m-13.5-10.1h0m9.7-10.2h0m-30.3 41.4h0m-21.9 10.3h0m57-22.7h0m-19.9-17.8h0m5.6-11.2h0m23.4 2.3h0m-22.9 20.8h0m-44.4-0.8h0m24.3 11.4h0m26.6-30.8h0m42 15.4h0m-43.3 8h0m-59.6 15.4h0m56.5-15.4h0m-16 15.2h0m-4.8-46.5h0m31.3-3.1h0m8.8 34.3h0m-20-14.2h0m-23.8-19.2h0m26.3 27.1h0m-11.4 5.3h0m38.1-16.4h0m-41.3 3.3h0m22.8-29.1h0m-11.9 51.8h0m32.4-14h0m-67-21.2h0m95.6 22.1h0m-35.8-3.5h0m4.7-4.7h0m-15.4-7.8h0m-12.1 41.7h0m-40.8-41.7h0m29.2-6.9h0m-4.7 31.7h0m-17.2 3.6h0m19-14.7h0m27.9-5.4h0m-0.2-15h0m6.1 46.8h0m-19.1-52.9h0m50.4 21.5h0m-76.3 18.5h0m-21.9-5.4h0m36.9-30.4h0m-5.9 37.4h0m23.4-11.6h0m-20 3.9h0m-5.4-5.7h0m-28.5-0.1h0m10.6-14.3h0m-15 29.4h0m44.3-27.7h0m14 22.9h0m51.6-25.6h0m-60.5 8.1h0m-23.7 16.6h0m52-11.8h0m19.5-36.8h0m-70.1 62.2h0m64.6-46.6h0m-45.7 20.3h0m-25 27.3h0m22.1-33.1h0m5.8-25.8h0m15.1 36.1h0m-49-1.8h0m3.4 13.6h0m35.9-51.3h0m20.2 42.6h0m22.2-19.7h0m-45.6-2.7h0m3 11.3h0m10.6 9.3h0m-7.7-1.3h0m-2.5 32.1h0m5.8-47.1h0m-20.5 9.9h0m17.6 21.1h0m-22.5-46.6h0m42.5 17.6h0m0.4-5.4h0m-55.5 11.3h0m-19.8 5.3h0m39.5 1.3h0m-10.7-21.6h0m9.2 4h0m9.9-2.4h0m-1.4 8.9h0m34.9-8.8h0m-89.3 51.8h0m67.7-56.4h0m-12.7 27.7h0m-20.5 8.2h0m-0.3-5.6h0m3.9-30.4h0m42.6 7.9h0m-4.3-12.9h0m-14-18.7h0m-11.5 76.1h0m2.8-19.6h0m8.9-62.7h0m-37 33.7h0m57.4 13.7h0m8.1-29.1h0m-42.6 29.2h0m-2-1.1h0m27.1 14.9h0m-34.3 2h0m39.1-32.8h0m-78.2 16.1h0m23.7-25.1h0m65.5 33.2h0m-48.3 20.8h0m-15.4-22.6h0m29-21.4h0m6.5-4h0m-24.6 12.2h0m-11.2-16.8h0m5.8 6.4h0m43 18.7h0m16.8 3.3h0m-22-25.4h0m23.1 18.6h0m-40.5-13.5h0m-56.2 33.8h0m47.6-15.1h0m13.1 14.2h0m-4.5-34.6h0m-28.1 56.7h0m22.8-46h0m23.9 1.8h0m-3.3 4h0m19.1 21.7h0m-5.7-11.5h0m12.2 4.4h0m-15-15.7h0m7.9 19.6h0m-25.5-24.5h0m29.8 10.9h0m8.4-6.1h0m-16.4 14.3h0m31.7-8.8h0m-13.2 13.1h0m-14.5 2.2h0m-1.8-21.3h0m4.8 7.3h0m0.5-4.4h0m-8-3.6h0m5.2 11.8h0m6 6.9h0m-18.5-10h0m5.7-7.7h0m-3 2.2h0m24.6 8.8h0m-23.9 9.1h0m7-25.6h0m7.7 4h0m-5.3 12.7h0m11.4-21.8h0m-7.4 7.8h0m9.9 10.6h0m-21.6-0.4h0m8.8 4.6h0m-0.4-7.8h0m-5.3-5.3h0m10.9-9.9h0m-9.3 7.8h0m18.9 9.2h0m-36.5-0.3h0m9.4-9.7h0m6.9 11.9h0m11.1-1.8h0m1.8 0.2h0m2.8-9.8h0m-12.8 17.2h0m2.4-9.2h0m-11.4 10.2h0m44.1-2.4h0m-31.4-18h0m-7.5 13.5h0m15.6-1.3h0m-4.4-15.2h0m-0.5 31.4h0m-1.1-33.6h0m-3.8 20.9h0m2.2-9h0m-11.8 1.4h0m-0.1-15.1h0m10.7 5.6h0m9.6 15.2h0m-22.8-26.2h0m13.4 36h0m12.8-5.4h0m-15.7-13.9h0m-14.6 12.1h0m20-6.9h0m-2.8-12.1h0m8.1 15.8h0m-26.7 5.5h0m4.5-3.6h0m14.9-2h0m-4.7 1.1h0m14.1 19h0m-8-10.8h0m-23-20.7h0m37.3 0.7h0m-7.9 18h0m-14-4.6h0m-2.8-4.5h0m-18.9-11.9h0m38.3 27.5h0m-17.9-16.6h0m9-7.1h0m-2.6 1.8h0m-14.3 0.3h0" stroke="#D9434E" stroke-opacity="0.2" stroke-width="1.3" stroke-linecap="square" fill="none"/>
<path d="M406.3 101.4h0m-2.4 9.1h0m20.2-13.2h0m-32.9 13.7h0m6.5-22.4h0m40.5 16.5h0m-41.6-1.7h0m26.3-2.6h0m0.8 5.9h0m-1.4-12.8h0m-21.7 11.1h0m11.2-2.2h0m10.5 6.9h0m-15.3-4.4h0m25.8-25.3h0m-13 13.4h0m-17.7 1.1h0m-6 8.4h0m44.4-8.6h0m-22.5 16.8h0m24.4-15.8h0m-27.3-21.7h0m-23.7 21.7h0m35.2 0.7h0m13-1.4h0m-45.2-1.3h0m50.9 2.7h0m-41.7-10.8h0m22.3 1.8h0m-16.1 14.2h0m-0.3 4.7h0m15.7-12h0m-6.4 23.4h0m29.8-39.7h0m-30.5 9.5h0m-19.1 0.7h0m-8.1 18.4h0m53.9-10.9h0m-12.5-10h0m4 26.3h0m-41.5-12.4h0m4-2.4h0m33.8-25.5h0m-29.1 44.5h0m31.2-35.3h0m-26 17h0m4.8-9h0m5.2 16h0m19.8 4.9h0m-39.9-16.4h0m37.6-13h0m-8.2 24h0m-15.1 9h0m29.4-20h0m-37.8 17.5h0m28.3-26h0m-9.9 9.2h0m1.8-11.7h0m-26.8 9.7h0m49.8-10.3h0m-6.2 15h0m-3.6 7.2h0m-20.3 12.2h0m10.5-17.6h0m10.7-25.5h0m-51.3 38.1h0m42-12.3h0m-16.7 4.1h0m20.1-19.9h0m-24.3 15.8h0m13.2-15.8h0m-17.2 21.9h0m35.8-12.4h0m-37.1 12.5h0m39.8-2.3h0m-18.1-3.9h0m10.5-14.9h0m-27.6 16.2h0m-8.7-4.7h0m35.3 9.6h0m-15.6-7.1h0m-5.6 0.5h0m9.4 2.7h0m-3.8 3.3h0m-1.6-0.9h0m-15.7 17.4h0m0.7-20h0m51.6-8.7h0m-46.5 7.9h0m4.7-9.9h0m3.6-8.6h0m-10.7 18.9h0m2.2-15.8h0m13.2-8.7h0m30.6 11.6h0m-35.1 6.9h0m1.8 2.8h0m-4-4h0m15-6.9h0m-5-8.6h0m-14.4 22.8h0m40.1 3h0m-33.6-12.9h0m-11.1 15.5h0m-6.7-17.7h0m40.2 2.7h0m15.6 4.5h0m-47.3 15h0m23.5-8.2h0m-23.1 10.7h0m-2.7-37.2h0m19.2 18.3h0m-9.5-3.2h0m-0.5-2h0m-14.1 9.7h0m7.1 2.9h0m12.8-8.4h0m-19.2 11.8h0m19.5 6.2h0m-0.6-24.1h0m9.7 16.5h0m-27.9-4h0m5.7 6.4h0m9-5.7h0m5.2-11.9h0m-29.6-2.5h0m36.4 18.6h0m-22.2-16.2h0m38.6 4.6h0m-37.8 16.6h0m15.6-13.8h0m18.4-3.8h0m-2.4-1.2h0m-13.3 8h0m-7.6-10.3h0m-17.9 12.2h0m-3.2 18.8h0m16-16.5h0m12.1-4.7h0m15.6 2.6h0m-29.4-13.4h0m7.3 19.8h0m13-28.2h0m-19.5 27.9h0m12.8 3.4h0m25.3-12h0m-29.9-10.8h0m14.4-9.4h0m9.6 14.6h0m-15.6-9.8h0m8.6 5.3h0m-14 19.3h0m3.6-31.9h0m4 37.9h0m7.9-12.1h0m-35-18h0m26.2 4.4h0m-5.6 25h0m-11.7-19.3h0m-21.5 13.6h0m36.1-23h0m-7.6 15.3h0m-9.1-10.7h0m13.7 0.8h0m-21 3.5h0m16.4 1.1h0m33.1-9.7h0m-31.4 5.7h0m-18.2-5.9h0m-3.8 22.1h0m-0.1 1.5h0m-7.8 8h0m18.7-24.3h0m7.3 0.7h0m-12.4 8.4h0m14.9-2.9h0m27.8 2h0m-31.7 7.3h0m-7.8-7.5h0m14.3 5.6h0m16.4-19h0m7.5-4.5h0m-33.6-8h0m14.6 39.3h0m-21.9-2.8h0m-11.1-18.2h0m26.5 13.8h0m-7.6-5.9h0m10.3-24.1h0m-10.1 12.8h0m-0.7 13.2h0m-10.4-12.8h0m8.3 6.7h0m42.7-14.4h0m-13.5 18.1h0m-15-11.3h0m-27.7 20.2h0m38-2.3h0m-30.3-6.7h0m5.8-2.4h0m25-18.1h0m0.2 10.1h0m-35.3 15.1h0m30.5-4.2h0m-32.7 5.8h0m17.4-11.6h0m-1.3-1.4h0m-20.5-0.7h0m8.4-1.5h0m0.2 17.1h0m-4.4-1.8h0m5.4-19.3h0m16.2 8h0m16.1 8.3h0m-28.3-5.7h0m34.8 0.3h0m-9.6-14.1h0m5.1 11.4h0m-12 7h0m-15.4-10.6h0m19.6 4h0m-22.5 27.4h0m-10.8-28.1h0m31.8-1.3h0m-6.4-4.8h0m-33.9 15.1h0m25.7-17.9h0m3.9 34.5h0m-15.8-11.5h0m7.2-13.8h0m8.4-2.9h0m-0.9-1h0m26.4 0.8h0m-59.6 12h0m34.4 10.2h0m-20.4-7.7h0m0.3-5h0m0.7-17.5h0m12.8 7.8h0m-9.9-2.8h0m9.3 21.8h0m21.8-32.9h0m-23.2 29.9h0m-9.4-0.4h0m21.2-31.4h0m4 29.1h0m-7.8-8.8h0m17.8 2.9h0m-43.4-1.1h0m14.4 7.4h0m14.4 0h0m-19.6-7.8h0m-2.4 18.9h0m23.1-0.8h0m30.1-26.1h0m-21.7-11.4h0m-16.6 12.6h0m21.3-5.8h0m9.7 8.3h0m5.9 3.8h0m-14.2-14.2h0m-10.5 17.8h0m-22.7 21.6h0m25.2-46.5h0m-8.7 25.1h0m-37.7-0.7h0m47-13h0m-12.6 18.3h0m-0.7-24.7h0m5.2 25.8h0m-8.8-4.1h0m23.8-23.8h0m-34.7 28h0m26.9-24.3h0m-11.1 3h0m-19.5 22.7h0m31.5-13.2h0m8.3 1.2h0m-27.1-11.5h0m36.9 9.1h0m-37.1 12.5h0m18-12.9h0m-5.4-10.9h0m-10.7 7.1h0m-9.5 8.9h0m31.8-6.8h0m0.9 11.9h0m-28.1-5.6h0m22.3-2.4h0m13.6 4.7h0m11.3-6.7h0m-57.6-4.1h0m18.7 5.3h0m16-3.3h0m-7 4.4h0m21-16h0m-12.8 13.2h0m-32.8 7.9h0m4.7-4.4h0m9.8-8.9h0m16.6-11.5h0m-10.3 20h0m-23.1 10.6h0m22-20.3h0m12.4 27h0m-1.9-7.4h0m-19.8-6.2h0m14.9-13.7h0m-32.3 34.9h0m22.5-15.8h0m-18.7 4.6h0m-14.5-9.1h0m23.4-13.5h0m8.4 3h0m-13.4 3.9h0m4.4 4.9h0m-7 0.1h0m12.3-23h0m10.6 25h0m15.3-6.9h0m-18.3-2.4h0m2 19.6h0m15.5-10.7h0m-18.8-7.5h0m-10 26.2h0m38.4-40.9h0m0.2 17.9h0m-11.9-9.2h0m-15 13.7h0m-20.5 3.2h0m-0.6-0.1h0m35.7 3.1h0m-23.5-15.5h0m15.1 24.1h0" stroke="#4A6394" stroke-opacity="0.3" stroke-width="1.3" stroke-linecap="square" fill="none"/>
<path d="M419.3 67h0m46.1 2.7h0m-34.2 18.6h0m-2.1-5.9h0m30.4-12.7h0m-1.9-0.2h0m-75.9 31.3h0m57.9-47.2h0m7.7 4.2h0m-7.2 10.8h0m-31.6 37.9h0m16.7-5.2h0m-13.2-48.7h0m36.1 28.3h0m-33.8 7.5h0m-0.6 8.8h0m-5.2 2.3h0m-11.1 16.6h0m47-29.1h0m-25.3-14.7h0m9.2-2.2h0m-11.4 17.2h0m31.3-12.1h0m-28 13.3h0m40.1-11.6h0m-26.8 20.1h0m-7.6-14.9h0m-40.2 30.7h0m68.5-11.8h0m-31.8-39.4h0m-1.5 6.6h0m14.3 34.3h0m-37.4-4.2h0m22.5-20.7h0m25.8-11.9h0m-18.5 7.2h0m-11.4 2.1h0m-25.4 5.5h0m11.3 27h0m35.9-23.9h0m-7.5-9.8h0m-9.5 20.9h0m26.9-13.1h0m-29.3 2.5h0m6.6-12h0m7.7 25.6h0m4.8 9h0m-7.5-9h0m-15.9-19.3h0m21.5-2.2h0m-49.5 30.1h0m13.2-11.4h0m24.6-9.7h0m-2.2-16.1h0m14.2 1.4h0m-14 12.1h0m-7.7 7h0m25.4 1.4h0m-42.3 1h0m35.8-31.2h0m-36.8 53.2h0m48.3-60.4h0m-19.4 33h0m-7 1.5h0m41.8-35.4h0m-43.6 41.4h0m-32.1-8.9h0m14.5 10.4h0m33.1-15.6h0m16.2 25.4h0m-10.7-35.4h0m16.4 0.4h0m-39.4 28.5h0m-17.8-11.8h0m67.2-7.3h0m-74.8 22.9h0m51.2-21.6h0m0.5 19.9h0m-10.1 0.2h0m-8-41.8h0m-3.2 8.8h0m17.9 18.7h0m-20.2 15.9h0m-8.6-0.8h0m45.6-34.6h0m1.6-5.1h0m-38.7 17.4h0m5.9-27.1h0m8.5 50.2h0m10.7-17.9h0m3.6-13.2h0m-20.4 0.4h0m-38.9 37.4h0m32.9 4.2h0m8.3-38.2h0m-14.5 7.7h0m33.7 11.5h0m-46.8-3.5h0m20.1 3.2h0m-16.5-11.6h0m4.6 0.9h0m29.1 1.8h0m16.2 9.7h0m-30.3 8.9h0m7.4-52.6h0m-13.9 15.4h0m-14.9 42.6h0m-1.8-25.8h0m50.4-8.6h0m-2.7-13.4h0m-13.2 49.2h0m-17.3-21.6h0m12.1-15.9h0m31 9.4h0m-27.9-8.7h0m10.9-0.4h0m-2.7 16.6h0m12.1-7.9h0m-41 0.2h0m12.6 10.2h0m6.7-10.9h0m-43.5 9.1h0m17 2.8h0m39-15.5h0m-51.5 29.7h0m44.4-18.9h0m-6.1 5.8h0m25.4-28.2h0m-24.8 20.4h0m22.9-39.5h0m-32.6 31.9h0m29.3-18.1h0m-30.2 12.4h0m19-5.6h0m-39.5 49.3h0m7.6-13h0m5.9 15.1h0m3.1-18.6h0m-23.6-8.6h0m17.2-22.8h0m30.2-15h0m-24.4 24.1h0m27.3 16.6h0m11.1-19.6h0m-11.5-6.8h0m6.9 11.8h0m4.8-25.1h0m-14.1-1h0m-38.5 39h0m65-33.1h0m-65.1 35.7h0m48.7-24.7h0m-19.7-4.2h0m-49.3 37.1h0m57.5-39.2h0m-5.2-13.5h0m32.4 36.7h0m-57.5-34.1h0m49.4 37.3h0m2.4-22.5h0m-40.1 1.5h0m-4.7 20.6h0m10 5.6h0m17.2-30.5h0m4.3 1.7h0m-49 18.8h0m24.3-26h0m39 8.9h0m-61.8 5.5h0m34 23.4h0m3-5.3h0m-30.8-3.2h0m24.9 3.6h0m-3.1-25h0m-0.4 33.5h0m-9.5-10.1h0m36-24.4h0m-3.2 1.4h0m-31 13.2h0m13.2 10.9h0m19.8-38.1h0m-46.9 60h0m-9.1-14.5h0m14.9-7.4h0m6.2-21.7h0m3.4 3.4h0m8.6-1.1h0m-16.9 22h0m3.4-6h0m-2.4-17.1h0m-21.1 19.4h0m60.1-21.9h0m-48.3 26h0m-19.1-14.7h0m33.5 12.9h0m-12.3-0.9h0m-21.5-24.5h0m67.8 34h0m2.3-20.2h0m-18.2-21.2h0m-8.3 17.9h0m40.3 3.2h0m-27.3-8.6h0m-40.7 38.8h0m25.2-26.4h0m32.9-14.9h0m-75.1 22.2h0m58.9-17.9h0m-40.6 17.2h0m20.6-39.9h0m-2.9 17.8h0m1.3 2.5h0m19.2 1h0m-47.5 17.6h0m47.2-0.7h0m-1.1-14.1h0m3.8 0.4h0m-1.8 6h0m-31.8-1.1h0m-18.7-17.2h0m44.7-1.7h0m-40.7 22.9h0m14.2 11h0m15.3-16h0m-15.6-8.7h0m0.1 23.3h0m-18.1-16.1h0m45.2-6.9h0m7.8-5.2h0m-11 14.8h0m-0.9-6.1h0m-5.6 2h0m4.9 26.8h0m-27.1-25.7h0m17.4-7.6h0m-34.8 33.5h0m24.4-31.4h0m9.5-6.1h0m19.1 38.1h0m-38.4-26.1h0m39.5 0.9h0m11.7-16.1h0m-43.5 28.2h0m36.7-25h0m-20.7 5.9h0m-36.6 40.4h0m-1.9-19.8h0m40.9-12.4h0m-1.1 12.4h0m-9.7-17.1h0m-9.6 11.4h0m36.9-18.4h0m10.7 5.3h0m-61.5-4.1h0m-4.2 31.3h0m13.6 5.3h0m25.7-42.7h0m14.2 9.5h0m-43.7-1.6h0m29.3 18.4h0m-8.5 10.3h0m-4.9-20.5h0m16.1-10h0m24.1-2.8h0m-11.5 12.2h0m-33-0.8h0m31.4-1.8h0m-24.9 23.4h0m29.5-29.4h0m-7.4 5.1h0m-48.8 7h0m58.8-24.4h0m-60.5 31h0m65.9-0.7h0m-1.4-18.2h0m-17.2 5.4h0m-10.7 3.2h0m-2.1 15.9h0m24.3-23.7h0m-0.1-4.8h0m-21.9-10.3h0m32.4 4.2h0m-49 48.3h0m50.1-60.1h0m-35.2 37.8h0m47.1-29.4h0m-58.1 26.2h0m-1.1-27.2h0m8.8 26.3h0m1.4 13.2h0m-1.4-6h0m7.3-11.5h0m-6.1 6.8h0m5.7 5h0m-15-9.8h0m8 22.3h0m-20.1-46.1h0m38 18.3h0m-49.5 10.4h0m41.2-33h0m-7.9 31.2h0m-23.8 12h0m13.5-30h0m5 13.9h0m-0.4 2.5h0m2.1-14.7h0m34.8-23.4h0m-34.8 54.5h0m24.3-20.5h0m5.1 5.4h0m6.3-3.2h0m-36.7 2.4h0m-22.4 3.6h0m38.4-11.3h0m26.1 9.1h0m-54.9 26.3h0m22.6-22.4h0m31.8-1.9h0m-14.5-34.5h0m-19.2 28.5h0m9.9-6.4h0m6.2-14.6h0m-56.9 48.1h0m-3.8-7.4h0m51-13.9h0m-5.9-6.7h0m11.7 7.5h0m7.2-25.7h0m-6.4 39.4h0m-23.3-25.7h0m13.3-8.7h0m-5.1 27h0m-11.8-24.1h0m19.2 23.4h0m-9.1-21.2h0m17.4 30.5h0m-43.3-43.1h0m60.4 15.1h0m-1.7-13.8h0m-35.1 4.7h0m-5.7 7.4h0m25.4 5.3h0m-3.5 1.8h0m-24.5-2.2h0m-2.7 14.4h0m-1.6-7.9h0m42.7-20.9h0m-50.9 48.9h0m9.2-57.8h0m17.8 36h0m9-19.2h0m3.7 16.2h0m29.5-8.4h0m-75.4 18.6h0m41.4-17.1h0m13.8 13.8h0m-55.5 8.6h0m45.1-5.4h0m-28.4-19.7h0m27.2-26.7h0m23.9 18.7h0m-39.7-10.4h0m15.2 4h0m-13.6 15.4h0m19.9-6.8h0m1.1 36.1h0m-19.3-30.3h0m48.9-19.9h0m-19.5 34.3h0m-34.9-36.4h0m2.7 13.1h0m42.4 16.7h0m-10.2-12.1h0m-36.5 2.3h0m20-8.8h0m-27.8-3.6h0m20.7 15.5h0m-5 0.8h0m17.5 23.7h0m-30.2-36h0m35.7 18.7h0m-33.5 13.8h0m12.9-5.7h0m-12.9-18.1h0m-16.2 29.4h0m28.8-44h0m18.3 15.6h0m-19.3 5.3h0m-12.6-5.8h0m35.8 18.7h0m-15.7-13.1h0m37.6-12h0m-76 23.1h0m42-20.7h0m-19.2 29h0m16.4-7.2h0m-6.6-38.4h0m17.8-7.5h0m-35.6 31.1h0m27.1 13.1h0m-9.1-17.1h0m42.7-5.8h0m-69 26.7h0m47.7-43.3h0m-15.3 43.1h0m-11.2-28h0m-4.7 27.8h0m-9.5-18.7h0m5.5-21.6h0m9.3 15h0m43.7 2.3h0m-6.4-22.4h0m-65.4 51.8h0m10.1-9.2h0m-7.2 1.9h0m13.2 17.3h0m60.2-39.9h0m-23.6-20h0m-12.5 52.1h0m11.4-1.4h0m-9.6-16.6h0m27 1h0m2.2-25.6h0m-51.3 38.8h0m-17.4-17.1h0m9-11.3h0m26.1 15.9h0m-15.8 21.4h0m28.8-34.6h0m10.2-9.5h0m-20 25.8h0m-19.1-21.7h0m-8.6 30.5h0m30.2-21.4h0m-31 14.4h0m14.8-27.8h0m35.5 27.2h0m13-33.2h0m-26.2 37h0m8.7-31.3h0m-33.3 0h0m-30.1 14h0m20-4.1h0m32.7 31.7h0m-14.6-48.8h0m-19.1 25.8h0m4.7-12.5h0m-7.1 6.1h0m-10.2 4.8h0m22.6 5.1h0m31.9-22.2h0m-56.4 11.4h0m-10.7 24.3h0m49.6-3.3h0m30.1-28.6h0m-30.9 14.9h0m-21.5-9.5h0m21.2-18.2h0m-15.7 45.8h0m-6.5-21.2h0m23.9 3.2h0m14.9-10.9h0m-48.3 1.7h0m37.2-6.9h0m-40 27.4h0m39.4-29.3h0m-14.5 51.4h0m-11.4-53.2h0m-1.8 28h0m45.7-25.8h0m-49.7 12.8h0m-7 29.7h0m10.5-53.5h0m42.3-0.8h0m-6.5 8.2h0m-10.6 40.1h0m-22.9 4.2h0m41.5-47.3h0m-3.6 1.7h0m27.1-2.5h0m-44 31.1h0m-5 5.3h0m25.5-38.1h0m-17.7 2.2h0m-8.9 45.5h0m1.8-30.6h0m-11.7 21.1h0m39.1-24.2h0m-24.1 17.9h0m-20-2.7h0m0.4 10.8h0m36-35.4h0m-49.4 29.5h0m62.3-31.9h0m-8.8 31.5h0m-15.1-10.6h0m2.8-19h0m-44.8 16.3h0m51.5 12.7h0m-27.2 10.5h0m-4.6-13.3h0m-29.9 14.3h0m68.2-23.3h0m-60.4 9.7h0m27.5-27.1h0m-14.3 42.6h0m17.4-11.5h0m5.9-32.1h0m9.3-0.3h0m-16.4 9.8h0m25.3-7.5h0m-48.6 29.3h0m-10.3-3h0m68.1-2.3h0m-27.2 0.2h0m-7.1 0.3h0m-5.4-9.7h0m-2.2-0.6h0m12.6-14.4h0m-20.2 55.1h0m29.9-14.1h0m-7.6-5h0m40.5-21.3h0m-35.9-2.4h0m16.6 26.2h0m-31.4-42.1h0m34.5 15.9h0m2.6 1.7h0m-29.7 19.1h0m-0.3-21.4h0m-5.6-3.4h0m4.2 21.5h0m-15.5-11.2h0m40.1 14h0m-41-8.1h0m13.9-22h0m10.7 27.3h0m-22.5 7.4h0m26.8-11.5h0m18.3-44.7h0m-70.1 27.2h0m26.8 35.5h0m49.9-42.1h0m15.8 11.8h0m-71.7-9.7h0m14.9 18.3h0m33.1-13.2h0m-28.7-11.3h0m19.9 20.4h0m-27.5 29.9h0m24.2-37.4h0m-2.2-11.2h0m-16.7 26h0m2.8-14.3h0m0.5-6.3h0m-12.9 12.3h0m-5 17.2h0m-10 3.1h0m17.7 1.3h0m-3-0.3h0m43.8-25h0m-4-10.9h0m-37.4 49.6h0m20.6-34.6h0m-16.5 8.7h0m-21.3 21.9h0m41.9-41.9h0m-27.3 16.5h0m19.3-3h0m-3.5-7.1h0m-16.3 28.8h0m30.4-10.1h0m-29 10.2h0m-22.5-17.4h0m25.9-10.3h0m0.1 12.1h0m37.7-0.8h0m-37.8 22.3h0m16-40.8h0m-16.5 14.9h0m39.3 10.7h0m-13.2-12.9h0m-24.2-3.1h0m-3.7 2.5h0m13.6-12.2h0m2 5.7h0m-2.1-5.5h0m22.4 9.9h0m-6.7 2.6h0m0.7 6.4h0m-9.8-11.1h0m-5.8 0.4h0m29.8 6.9h0m-38.5-21.2h0m-17.6 25.6h0m41.2-1.6h0m-3.6 10h0m-45-23.8h0m38.2 11.3h0m-27.4 1.3h0m67.2-4.5h0m8.2-9.2h0m-17.5 4.8h0m-16.6 13.9h0m19-5.7h0m-20.6-1.4h0m-3.2 9.8h0m4.8-3h0m12.5-1h0m16.1 2.7h0m4-10.1h0m-17 3.9h0m-0.9-1.6h0m16-2.9h0m-2.7 11.3h0m-30.3-10.2h0m-2.3 3.3h0m13.3-2.6h0m3.1 11.8h0m17.6-20.4h0m-14.4 16.1h0m-4 5.2h0m6.2-20.5h0m6.5-9.5h0m0.8 15.3h0m-18.1-5.2h0m4.3 11.4h0m14.7-1.2h0m-4.8 5.4h0m6.7-15.5h0m9.4 0.9h0m-9.5 6.2h0m-6.3 2h0m-19.5 9.8h0m12.9 1.1h0m-0.5-19.4h0m-16.2 9.1h0m31.3-5h0m-9.8-2.1h0m-2.9 13.2h0m2.9-20.7h0m-5.4 24.7h0m4.8-4.5h0m0.3 2.1h0m2.3-23.8h0m2.6 8.9h0m-27.9 4.9h0m18.4-6h0m-14 7.3h0m10.4 1.7h0m8.3 4.5h0m6.2 3.9h0m-17.2-5.1h0m4.2-14.5h0m23.1 11.7h0m-36.1 5.7h0m32.1-22h0m-19.5 20.1h0m-21.1-3h0m41.5-13.5h0m-12.4 6.4h0m-2.8-2.2h0m16.4 9.1h0m-15.7-1.4h0m-2.1-16.9h0m3.8 17.3h0m-6.6 8.9h0m0.9-13.5h0m-9.5 0h0m17.2 2h0m-5.7-14.1h0m3.5 8.4h0m-2.2 2.1h0m-9.9 18.5h0m1-21.1h0m8.1 7.7h0m-11.2-1.1h0m-1.3 6.6h0m19.9-5.5h0m8.3-10.4h0m-20.7 11.7h0m23.5-8.5h0m-25.3 8.3h0m16.9-7.4h0m-22.9-10h0m20.4 12.7h0m7.4-2.5h0m-27.6 2.8h0m-2.9-4.6h0m19.1 6.9h0m11.4-9.7h0m-28.9 4h0m16.3 3h0m-1.5 4.9h0m-2.2-19.5h0m-2.7 10.8h0m-10.9 12.8h0m27.4-6h0m-10.8-15.8h0m-5.7 15.1h0" stroke="#D9434E" stroke-opacity="0.3" stroke-width="1.3" stroke-linecap="square" fill="none"/>
<path d="M406.7 115.6h0m11.1-31.2h0m-32.5 21.9h0m23.7-22.2h0m2.5 34.1h0m-15.2-21.1h0m28.3-16.6h0m-11.1 15.5h0m17.1 4.4h0m-18.1 1h0m-15.5-1.8h0m3.2 8.1h0m1.2-1.1h0m2.2 12.8h0m6.1-31.2h0m-9.6 6.9h0m29.3-10.3h0m-24.2 16.2h0m1.9-1.5h0m19.6-4.4h0m-2.1-5.2h0m0.4-5.2h0m-10.7 21.6h0m-22.6-3.4h0m16.4 3.4h0m4.8-0.3h0m13.6-9.5h0m-12.4-16.9h0m5.3 25.8h0m-5.5-20.2h0m10.3 15.6h0m-27.9 4.5h0m20.9-16.4h0m-2.4 4.4h0m-2 2h0m18.7-1.3h0m-16.6-11.7h0m-3.9 15.8h0m41.1-8.6h0m-63.2 0.5h0m37.5 16.9h0m-16.3-0.1h0m26.5-5.1h0m-19.1 11.8h0m-19.1-7.6h0m29.3 1.7h0m-6.8-23.3h0m-17.4 3.1h0m19.8 13.4h0m-15.1-4.5h0m29.2 3.9h0m-29.2-8.8h0m4.8 6.2h0m3.9 7.4h0m-5 3.3h0m-23-8.9h0m28.8 3h0m-19.6-16.7h0m19.7 10.1h0m19.8 3.8h0m-19.8-5.1h0m-2.7 8.8h0m13-15.6h0m4.7 12.7h0m15-5.7h0m-28.5 7.9h0m17.7-5.9h0m-9 8.5h0m-8.8 0.4h0m11.3-3h0m-21.8-10.8h0m10.9 3.4h0m0 16.8h0m25-26.1h0m-26.7 0.8h0m7.1 8.2h0m-10.7 10.2h0m22-5.1h0m-1.3-29.2h0m-25.8 15.3h0m22.6 19h0m-30.3 6.3h0m-7.4-4h0m2.4-1.7h0m15.5-17.2h0m-9.1 20.7h0m6-2.7h0m-9.5-14.7h0m32.1-10.3h0m-13.3 8.6h0m1.5-7.9h0m-3.9 20.6h0m8.2-9.8h0m-5.1-21.3h0m10.4 21.9h0m-10.8-0.7h0m-0.9 0.5h0m22.7 6.8h0m-6.2-0.2h0m-15.2-16.6h0m-5 12.5h0m7.5 3.4h0m-1.5-7.9h0m-13.2-5.7h0m-1.9 26.3h0m19.3-34.3h0m9.8 12.4h0m-16.6 5.9h0m20.9-22.5h0m-20.1 12h0m12.8 20.3h0m9.3-23.7h0m-28 27.8h0m-17.7 1.5h0m45.8-27.3h0m-21.1 34.3h0m-6.3-30.7h0m18.4 21.1h0m-15.3-15.4h0m9.7 6.5h0m-13.9-13.3h0m5 28.3h0m0.4-37.1h0m-14.7 24.4h0m6.5 1.1h0m3.4 0.9h0m14.3 9.8h0m-6.7-2.9h0m-4-7.6h0m-10.6-7.2h0m-4.4 5.2h0m13.2-21.4h0m-11.9 7.5h0m-15 14.4h0m53.4 2.8h0m-33.4-6.7h0m29.1-1.3h0m-32.9 8.5h0m16.4-5.3h0m6.6 1.8h0m-8.5 2.6h0m-11.5-2.4h0m19.3-4.5h0m0.4 2.8h0m7.5-9.5h0m-35.1 10.3h0m29.1-16.3h0m-18.9 15.1h0m16.6-5h0m-5.8 8h0m-26.7-9.2h0m9.4 4.1h0m19 1.7h0m-22.7 7.4h0m-11.8 8.7h0m63.6-28.2h0m-36.1 13.7h0m1.3-16.8h0m-9 0.3h0m12.5 26.2h0m5.7-16.9h0m-11.6-7.3h0m-2.2-1.1h0m-22.7 20.7h0m18.2-14h0m-8.9 21.5h0m17-19.6h0m-24.4 3.6h0m16.4 0.4h0m-21.1-1.2h0m37.3-5.6h0m-10.7-0.4h0m2.7 5.3h0m-6.5-9.4h0m11.8 32.7h0m-30.3-9.3h0m19.2 0.9h0m33.9-20h0m-14.7-5.5h0m-35.3 18.8h0m24.2-28.4h0m2.6 16.8h0m-6.8 10.6h0m-10.4-18.8h0m14.5 10.6h0m-8.7 9.6h0m-25.2-5h0m30.3-13.2h0m4.2 27.4h0m-12.5-26h0m13.4 1h0m-39 21.1h0m29.2-3.1h0m-8.3-13.9h0m9.3-4.7h0m0.2 19.9h0m3.1-0.6h0m20.9-13.2h0m-23.5 19.9h0m30.8-31.4h0m-34.2 13.6h0m21.9 18.1h0m11-30h0m-16.5 18.3h0m-12.3-2.6h0m18.2-10.3h0m-1.7 28.8h0m-44.3-7.5h0m27.9-9.2h0m6.6 5.9h0m-2.4-9.3h0m-16.8-9.7h0m28.6 4.4h0m-33.3 7.3h0m5.2-1.3h0m41.6-4.2h0m-19.7-6h0m-24.2 17.3h0m53.4-27h0m-16.4 21.7h0m-31.6-6.8h0m31.5-12.1h0m-7.2-0.6h0m-5.4 21.7h0m9.9-9.7h0m18.8-7.4h0m-35.6 6.5h0m17.5-3.8h0m1.9 24.3h0m-19.2-19.8h0m6.1-1.6h0m-4.5 5.1h0m19.2-11.5h0m2-10.8h0m-11.7 27.3h0m-23.7-9.8h0m-5.3 9.2h0m1.3-3.5h0m18.9 6.1h0m34.7-19.3h0m-3.3 12.9h0m-28.7-6h0m10.5-8.3h0m-18.8 15.1h0m-5.1-18.3h0m29.5 19.7h0m-41.3 13.4h0m38-13.7h0m15.4-12h0m-11.9 17.3h0m10.5-20.6h0m-25.2-1.5h0m-10.4 26.3h0m20.9-25.1h0m-28.3 29.3h0m16.2-4.8h0m-9.8-22.2h0m-4.9 9h0m10.3-5h0m9.9 5.5h0m25.1-8.4h0m-31.6 0.9h0m15.4 21.2h0m11-15.7h0m-17.6-2.3h0m-13.7-1.6h0m25.2 18.9h0m-47.8-23.9h0m25.5-10h0m-10.7 21h0m17.9-6.3h0m-3.2 14.5h0m23.5-16.6h0m-12.9 5.1h0m-37.8 12h0m34.5-4h0m-31.1-18.5h0m10.6 12h0m20.3 8.1h0m-40.8-14.3h0m53.2 16.4h0m-8.7-15.2h0m1.4-3h0m7.4 0h0m-19.1 17h0m16.4-7.5h0m-9.7 0.1h0m-4.9-5.5h0m1.5-9.2h0m16.4 12.3h0m-25.5 18.9h0m-7.9-20.1h0m26.9 4.9h0m-3.7 2.4h0m-27.7-2.5h0m37-21.3h0m-8.6 12.2h0m-12.1 12.3h0m-5.6-4.6h0m11.2-6h0m10.1-8.7h0m-8.2-9.7h0m3.9 36.1h0m-14.7-11.2h0m4.8-6.9h0m-16.9 7.3h0m-6.9-6.8h0m38.1-1.1h0m13 1.9h0m-45.4-2.6h0m23.6-4.6h0m-16 3.4h0m-9.3-1h0m25.2 6.9h0m3.7 10.5h0m-18.7 0.6h0m-16.1-7.1h0m27.9 11.3h0m14.3-0.5h0m-4.1-16.6h0m-7.5 7.8h0m19.2-21.1h0m-39.8 8h0m0.5 13h0m7.4-5.4h0m-6.9 11.3h0m3.6 2.5h0m29.2-21.6h0m-45.4 12.4h0m12.6-11.2h0m22.6 2h0m7.9 5h0m-27.8 8.5h0" stroke="#4A6394" stroke-opacity="0.3" stroke-width="1.3" stroke-linecap="square" fill="none"/>
<path d="M396.8 101h0m3.5-9.3h0m-15.9 11.1h0m-1.2-7.6h0m28.4-3.7h0m11.8-30.3h0m-17.6 18.8h0m26.3-27.4h0m14.4 28.2h0m-38 3.9h0m-9.2-12.6h0m16.7 1.3h0m28 6.2h0m24.6-5.8h0m-42.8 29.4h0m14.8-58.9h0m-25.8 54.3h0m43.2-12.6h0m-51 16.8h0m67.7-25.1h0m-14.2-11.2h0m-73.9 33.4h0m59.6-41.6h0m-55.7 14.9h0m19.2 5.7h0m12.4 9.8h0m-21.7-15.9h0m44.8 21h0m-16.8-21.4h0m39.3 3.7h0m-33 7.7h0m-13.7-6h0m9.1 13.1h0m11.1 12.1h0m-17.3-5.7h0m-9.5 0.9h0m0.9-46.7h0m49.5 26h0m-63.3 18h0m43.9-36.5h0m-6.2 39.2h0m26.6-31.7h0m-61.9 33h0m-12.3-27.8h0m10.5 20.3h0m29.4-7.3h0m14.1-39.2h0m-42.5 55h0m24.7-12.8h0m-31 3.1h0m43 0.6h0m-43.1-25.1h0m34 9.3h0m-3.6 17.9h0m-3.7 17.1h0m1-19.4h0m26.1-25.2h0m-49 8.5h0m-11.9 13.2h0m58.6-2.5h0m-49.1-18.4h0m-1.2 19.4h0m44.3 6h0m-32.3 0.6h0m32.8-38.4h0m9.2 4h0m-49.4 40.4h0m8-31.7h0m22.2 20.1h0m-15.3-11.2h0m-0.3-4.9h0m37.1 20.7h0m-22.9 1.2h0m-46.3-5.4h0m18.5-22.5h0m13.3 23h0m1.4-2.6h0m33.7-6h0m-22.5-16.9h0m-3.4 24.5h0m-15.4-15.9h0m15.2 7.8h0m-0.8 1.1h0m3.4 31.5h0m30.5-56.8h0m-24.4 29.5h0m-1.3-0.5h0m-37.9 5.7h0m69.2-26.4h0m4.7 18.8h0m-30.6 11.4h0m7.9-12.6h0m-42.3 16.5h0m42.8-40.8h0m7.3 27.7h0m-10.6 7.5h0m-21.4 18.6h0m-5.8-10.4h0m8.6-21.3h0m27.4-20.6h0m-50.2 23.9h0m2.7-6.2h0m19.8 6.9h0m1.8-28.5h0m19.4 22.1h0m14.4 7.8h0m-68.8-15.4h0m39.7 18.4h0m42.8-26.3h0m-24.5 19.9h0m6.4-29.6h0m-2.6 4.6h0m-42.6 24h0m-22.1 22h0m34.3 3.2h0m42-30.7h0m-60.7 6.1h0m23.8-1.5h0m-13.5-2.1h0m6.6-7.3h0m35.4-8.9h0m-55.5 47.7h0m15.8-27.2h0m-26.1 7.8h0m19-28.5h0m57.4 23.6h0m-45.1 2.4h0m15.1-36.1h0m-24.5 26.7h0m-2.9 22.6h0m32.5-32.4h0m-22.8 35.4h0m51.9-42.7h0m-27.7 10.4h0m-22.5-11.6h0m13.6 28.5h0m5.8 8.6h0m7.4-11.7h0m-23.8-12.3h0m15.7-23.7h0m-6.6 22.5h0m-32.5 20.3h0m53.9-41.7h0m-20 32h0m7-0.4h0m-36.1 4.3h0m9.8-26.6h0m8.5 49.6h0m26-49.8h0m-49.2 10.7h0m37.6 14.9h0m7.7-27.6h0m-4.5 15h0m-27.1 36.8h0m7.1-17.3h0m17.9-8.7h0m7.2-9.7h0m4.6 3.5h0m-61.1 14.4h0m47-36.8h0m-43.3 59.5h0m41.2-42.4h0m7.4 17.2h0m-1.9 9.1h0m-37.4-37.4h0m17.5 19.7h0m32.2-30.7h0m-13.5 29.8h0m-63.8 18h0m47.3-2.9h0m4-9.7h0m11.2 6.8h0m-5-25.4h0m-24.8 20.8h0m25.5-6.5h0m5.2-29.6h0m3.3 43.8h0m-51.8 23.7h0m46.7-29.5h0m-40.1-1.2h0m19.6 6.2h0m-5.6-2.4h0m-18.6 26.6h0m39.4-46.6h0m-1.3 0.2h0m-11.9 14.1h0m6.3 4.6h0m13.2-28.1h0m-19 29.6h0m12.2 11.4h0m1.3-3.4h0m-35.3 9.5h0m-5.5-25.4h0m-3.9-2.4h0m55-23.5h0m-35.7 31.5h0m37.8-44.2h0m-2.4 17.8h0m5.1 26.6h0m-28.2 6.9h0m-9.9-8.6h0m21.5-21.6h0m-27.8 15.6h0m55 0.1h0m-45 23h0m22.6-35.5h0m-16.1 2.3h0m3.1-1.1h0m29.8-15.5h0m16.9 36h0m-45.6-4h0m-21.2-14.6h0m45.2 4.1h0m-25.2 7.9h0m-25.3-5.7h0m58.6-0.7h0m-69.9 31.1h0m21.3-32.2h0m-4.6-0.1h0m17.7 16.9h0m-28.4-6.3h0m24.6-17.2h0m42.1 25.5h0m-42 0.6h0m9.6-14.6h0m0.3-9.5h0m20.4 4.2h0m20.6 9h0m-68.1 1.5h0m28.5-27.2h0m-33.3 25.6h0m31.5-8h0m15.2 30.6h0m-31.6-25.2h0m24.1-25.8h0m-30.8 2h0m53.5 3.1h0m-58.3 41.7h0m20.9-18.3h0m22.3-0.8h0m4.5-14.6h0m-29.1 33.9h0m-3.8 7.1h0m26.2-51.2h0m-37.3 31.4h0m31.3-14.2h0m-15.2 14.7h0m28-11.6h0m23.7-21.9h0m-35.1 3.7h0m-28.8 48.9h0m56-32.3h0m-22.2-11.8h0m-21.3 42.1h0m-8.5-12.9h0m18.6-39.2h0m-16.1 45.6h0m10.2-31.6h0m15.1 19.4h0m1-5.4h0m-6.6 17.4h0m-19.2-26.6h0m49.1-18.7h0m-33.2 56.5h0m5.2-20h0m32.7-25h0m-68.8 22.5h0m27.9-7.9h0m11.2 4.4h0m-23.8 8.3h0m26.3-8.9h0m-27.7-9h0m13.3-3.1h0m-18.9-9h0m7.8 19.4h0m17.5-0.7h0m33.2-36.9h0m-37.4 19.2h0m-0.2-2.4h0m-18.7 9.6h0m30.5 20h0m6.4-28.5h0m-19 6.3h0m-1 25h0m-17.4-9h0m-7.6-6.5h0m22.2 15.3h0m28.9-6.1h0m-46.9 7h0m-19.1-9.2h0m24.3-13.8h0m-1.3 2.9h0m56.9-13.3h0m-20.9-4.9h0m-41.7 28.7h0m17-15.6h0m14.8-22.5h0m14.9 21.9h0m-24.1 0.7h0m-24.8 7.4h0m7 27.5h0m12.2-32.9h0m16.5 17.9h0m-28.7 16.2h0m7.9-37.5h0m20.7-4.9h0m-20.4-3h0m7-9.1h0m-20.7 40.7h0m11.5-24.3h0m13.9 5.9h0m-14.1 14.3h0m44.2-30.1h0m-34.7 14.1h0m24 2.4h0m-24-25.7h0m12.3 1.2h0m-8 40.7h0m-19.7-24.7h0m9.5 10.6h0m-10.5-9.3h0m-17.5 19.1h0m60.9 3.3h0m6.1 10.4h0m-40.7 9.9h0m30.1-27.5h0m6 3.5h0m-13.1 5.8h0m10.4-10.6h0m-13.6-7.2h0m21.1-1.3h0m-29.7 38.1h0m-14.1-21.1h0m8.3 1.7h0m-2.2-16.1h0m22.2-1.1h0m-9.8 16.1h0m-32.1-8.9h0m44.8-15h0m-14.7 32.5h0m24.1-8h0m-46 4.7h0m11.5-21.3h0m-4.1 15.7h0m16.4-37.3h0m1.7 29.3h0m-1.2-12.2h0m4.3 9.8h0m-2.6 29.5h0m-4.9-11.8h0m-20.7-10.1h0m-12.2 7.1h0m52-26.5h0m13.9-8.9h0m-12.1 6.9h0m-49.5 39.1h0m52.2-31.8h0m0.6-15.8h0m-44.7 31.6h0m15.4-15.1h0m-25.5 19.6h0m1.7-34.2h0m26.5 42.5h0m1.7-30.1h0m3.5 20.3h0m-8.3-30h0m-44.3 43.5h0m42.3-21.8h0m23.3-27.3h0m16 14.5h0m-43.5 6.9h0m-2.9-21.4h0m5.7 44.8h0m29.9-22.9h0m5.4-17.2h0m-63.9 37.8h0m29.8-31.8h0m-2.5 2.4h0m-10.2-2.2h0m36.5 9.3h0m-1.1-21h0m-11.1 18.4h0m-5.7 18.6h0m-7.5-33.6h0m-11.8 59.2h0m53.1-40.2h0m-23.1-1.9h0m-5.6 31h0m-36 8.8h0m56.7-38.3h0m-1.1-31.9h0m-4.6 43.3h0m-10.1-17.3h0m-15.8 10h0m-4.7 4.7h0m16.8-17.6h0m31.7 14.3h0m-9.4 4.2h0m-11.7-8.2h0m8.4 24h0m-21.1-23.1h0m-28.1 1h0m19.9-30.7h0m19.7 23.8h0m-21.1 16h0m-31-8h0m14.5-4.9h0m-2 1.7h0m35.5-14.6h0m-13 14.9h0m-28.4 27.7h0m69.7-15.9h0m-27.1-20.2h0m-36.7 18.2h0m40.2-20.8h0m-4.5-3.1h0m2.5 11.6h0m-36.2 2.1h0m28.2 23.1h0m-2.7-16.5h0m-41 4.2h0m16.2-12.1h0m23.4 22.1h0m2-23.9h0m-14.3 7.9h0m20.4-25.3h0m-48.4 41h0m23.1 6.2h0m34.1-54.8h0m-17.3 18.7h0m30.7 10.4h0m-22.1-6.5h0m11.9 11.9h0m-22 1.2h0m20-14.8h0m-17.7 5.4h0m-28 40.1h0m23.9-49.7h0m-10.7 43.8h0m6-49.1h0m-20.5 8.6h0m22.7 29.4h0m14-4.7h0m18.3-17.5h0m-8.1 8.7h0m2.2-39.2h0m-7.9 41.3h0m-45.7-13.8h0m24.2 11.4h0m14.2-3.8h0m4.1 17h0m31.3-32.5h0m-9.8 7.7h0m-75.7 7.7h0m38.1-4.6h0m15.8-12.7h0m-26.8 4.5h0m36.6 12h0m-7.6 12.9h0m-18.1-19.3h0m8.5 4h0m-14.7-8.9h0m12.1-0.9h0m16.4 23h0m1.5-7.3h0m-35.4 7.3h0m46.5-4.3h0m20-26.5h0m-43.9 33.6h0m-14.5-28.2h0m-17.6-8h0m35.8 26.5h0m-6.9-1.2h0m-20.2 27.5h0m27.2-41.7h0m-13.1 19.4h0m37-13.6h0m-29.1 5.4h0m16.7-28h0m-19.6 29.4h0m-32.4-9.9h0m39.2-3h0m-18.7-7.8h0m30.7 14.1h0m-22.4 8.7h0m14-11h0m-35.9 3.9h0m4.8-3.9h0m-3.8 20.3h0m39.3-31h0m-15.8 7.8h0m23.5 14.6h0m-3.3-14.4h0m11.8 0.8h0m-56 26.7h0m14.8-5.6h0m17.2-30h0m4.1 2.2h0m1.3 0.1h0m-44.4-3.2h0m23.5 16.4h0m-3.5-25.3h0m-14.8 20.3h0m52.9 0.6h0m0.6-5.6h0m-15.1-0.1h0m-29.7 41.3h0m15.8-24.3h0m26.3-23.3h0m-16.2 13.6h0m-22.2 27h0m8.2-44.1h0m20.9 35.4h0m-16.5-17h0m-3.7 0.2h0m9.5 0.5h0m-7 13.5h0m-7.4 8.7h0m-3.4-12.1h0m16.9 4.1h0m-8.4-3.4h0m-28.3-10.8h0m53.8-24h0m-22.7 48.3h0m1.7-8.2h0m6.1-16.9h0m-4.9 25h0m-33.1-7.1h0m9.5-13.6h0m22.4 15.7h0m-10.8-24.6h0m13.9 24.7h0m-17-10h0m19.9 6.3h0m15-51h0m-45.9 38h0m49.2 10h0m-27.2-39.8h0m7.7 21.1h0m-8.5 16.3h0m-19.9-14h0m30.9-28.2h0m-5.7 50.3h0m45.8-14.9h0m-86.4 13.6h0m3.9-21.8h0m52.2-21.9h0m-13.9 47.8h0m-23.5-6.9h0m49.2-1.6h0m-55.9-18.8h0m7-4h0m-32 34.8h0m15.1-21.1h0m31.6 20.7h0m16.4-12.1h0m-7.9 7h0m-12.9-20.8h0m14.8 20.4h0m-17.5 11.2h0m4.3-37.4h0m21-15.7h0m-33.1 26.5h0m15.5-4.3h0m-2.9 10.2h0m-3.8-8h0m0.9 31.3h0m50.9-53.2h0m-19.5 15.1h0m-26.2 18.8h0m-37.6 6.8h0m54.7 1.3h0m-6.4-21.4h0m-7.7 10.3h0m9.9-4.4h0m-40 1.7h0m0 11.6h0m-18.5 2.3h0m63.4-21.1h0m8.5 18.9h0m-39.9-7.4h0m28.9-6.3h0m-10.5 8.9h0m-31.3 13.5h0m27.4-39.3h0m-34.8 25.1h0m38.6-34.8h0m-7.5 32.9h0m-5.8-32.6h0m25.6 31.3h0m-45.1-6.6h0m36.8-11.5h0m-15.6 9.6h0m-7.2 19.1h0m27.3-32h0m26.2-8.2h0m-67.5 29.3h0m55-13.8h0m-15 14.2h0m14.6 7.2h0m21.6-16.3h0m-15.2 0.8h0m19.3-1.7h0m-2.6 5.2h0m-12.8 0.3h0m-1 2.6h0m-5.1-8.7h0m0.8 7.2h0m11.2-0.4h0m8.4-6.6h0m-19.3 18.8h0m20.7-19.4h0m-14 0.7h0m-14.7-1.9h0m11.7-5h0m13.7 12.9h0m3.2-14.9h0m-15 2.3h0m22.4 10.2h0m-31.4 2.7h0m-4 0h0m22.8-10.9h0m-5.3 2.1h0m-13.5-6h0m-4.9 24.8h0m10.2-10h0m2.7-1h0m4.1-14.2h0m3.5 16.5h0m7.9-10.1h0m-10.7 11.9h0m-23.2-3.6h0m7.3-7h0m11.8 12.6h0m5.8 2.4h0m-8.1-14.4h0m-4.8-10.2h0m17.2 4.6h0m-13-0.2h0m-8.6 9.5h0m3.6 7.1h0m9 4.3h0m7.4 1.7h0m-16.4-13.6h0m2.9-7.6h0m7.2 12.1h0m-3.9-1.8h0m-7.5 8.1h0m16.1-3.9h0m-19.4 1.9h0m10.9-13.8h0m4.5 12.2h0m8.2-9.9h0m-11.7 7.2h0m2.9-7.3h0m1.4 1.9h0m-4.1 0.7h0m-10.1-11.4h0m-7.9 7.7h0m28.3 3.6h0m-15-0.2h0m5.5-5.5h0m4.9 9.5h0m9.7 7.9h0m-7 0.5h0m-5.1-7.7h0m-8.7-8.5h0m11.3 6.1h0m-9.3 3.6h0m11.3-10.5h0m-22.2 8.8h0m17.4-3.7h0m-13.8-5.2h0m7.4 4.5h0m-5.4 1.6h0m15.9 4h0m-18-2.7h0m1.3 8.9h0m16.9-17.4h0m12 2.3h0m-29.9-4.9h0m16.8 12.6h0m10.3 2.3h0m-20.4 5.4h0m9.3-9.5h0m-2.6 4.5h0m15.5-12.9h0m-10.3 10h0m-11.8 1.3h0m0.4-4.7h0m3.9 7.2h0m-11.8-11.1h0m16.6-7h0m9.5 16.1h0m-7.4-9.4h0m7.2 3.3h0m-21.2 5.2h0m12.3 9.6h0m3.7-9.5h0m-12.6 2.8h0" stroke="#D9434E" stroke-opacity="0.3" stroke-width="1.3" stroke-linecap="square" fill="none"/>
<path d="M442.4 76.1h0m-20.8 15.5h0m-9.8 2.3h0m-1.7 12.4h0m3.5 0h0m6.9-9.8h0m20.1-23.6h0m-57.4 32.4h0m30.2-3.3h0m-30.8 7.4h0m43-11.1h0m10.9 2.7h0m-9.9 4h0m7.4-24.8h0m5.6 20.7h0m-23.9-20.3h0m14.1 22.3h0m1.4 0.6h0m8.1-19.1h0m-41.5 4.5h0m35 0.7h0m1.3 8h0m-7.2 1.4h0m-30.2-6.6h0m15.8 7.3h0m30-13.4h0m-47.3 16.9h0m35.6-9.7h0m-19.7 4.9h0m13.9 1.3h0m-23.3 1.3h0m7.1 7.4h0m7.1-16.4h0m3-5.9h0m15.5 13.3h0m-8 1.8h0m5-4.1h0m-38.6 14.2h0m17.7-3.6h0m-15.3-0.4h0m41.3-26.5h0m9.1 1.7h0m-37.3 11.4h0m7.3 15.6h0m12.7-19.3h0m-24.6 31.9h0m18.7-25.4h0m6.6 9.8h0m-23.3 1.1h0m13.9 3.1h0m10.4-29h0m1.1 29.6h0m-20.6-5.3h0m19.7-9.6h0m-16.8 17.1h0m-0.4-21.1h0m27.3 10.4h0m-2.1-11.7h0m-16.1 13.5h0m9.3-6.8h0m-31.1 0.3h0m-6.2 20.2h0m22.6-17.6h0m11.9-20.1h0m3.4 32.6h0m-48.2-5.2h0m15.6-26.6h0m32.4 7.7h0m-18.4 22.7h0m13.8-8.2h0m4.3-4.6h0m-6.4-12.8h0m-27.6 21.1h0m19.3-11.7h0m-15.7 12.6h0m31.6-14.4h0m-16 9.1h0m26.7 2.7h0m-35.8 4h0m-6.2-33.2h0m-17 17.7h0m45.2 10.7h0m-0.4-22h0m-30.9 12.3h0m16.9-1.5h0m-6.4 7.6h0m11.4 4.2h0m-3.6-5h0m-27.4-6.9h0m57 11.1h0m-54.7 1.6h0m30.2-0.2h0m11.7-14.7h0m-35.6-8h0m25.7 10.3h0m16.6-20.4h0m-48.5 30.2h0m31.9-9.7h0m-7.1 13.3h0m-9.6 8h0m-1.8-35.2h0m30.5 21h0m-44.8-4.7h0m47-2.5h0m-4.8-8.9h0m-42.6 3.3h0m17.4 7.6h0m11.9 21.7h0m1.6-18.5h0m18.8-7.9h0m-21.2 26.4h0m10.7-44.5h0m-30.8 31.7h0m1.9-0.3h0m5.7-0.2h0m4.9 14.2h0m2.4-15.9h0m7.8 1.1h0m-12.4-3.2h0m18.5 7.1h0m-16.4-13h0m10.6 1h0m-23.9 0.3h0m12.6 7.2h0m31.5-21.7h0m-29.2 20.3h0m-19.2-0.6h0m17.1-7.6h0m-18.9 22.4h0m29.9-7.3h0m21.1-4.8h0m-50.8-9.8h0m32.6 20.1h0m-15.2-12.2h0m-10.6 4.9h0m9.3-15.8h0m23.9 4.2h0m-18.2-4.3h0m34.1 6.9h0m-10.9-2.4h0m-32.9-6.5h0m48.3 6.3h0m-41.3-5.3h0m21-0.9h0m-21.2 11.5h0m-6.3-12.5h0m22 4.9h0m-25.9 4.6h0m19.2 14.2h0m17.7-19.4h0m-37.3 9.3h0m27.7 6h0m5.9-21.6h0m19.3-2.6h0m-56.8 14.7h0m27.8-2.1h0m-5.8-12.6h0m18.6 10.9h0m-24.2 5.5h0m-5.3-3.7h0m-8.6-6h0m24.4-4.8h0m-4.1 1.1h0m-21.1 3.6h0m-4.4 26h0m33.2-29.5h0m-10.4 5.9h0m2.6-10.5h0m-4.1 8.1h0m14.9 17.5h0m-1.5 0.9h0m9.1-18.1h0m-31 14.2h0m-4.1-0.9h0m29.7-15.1h0m-3.8 9h0m-16.8-8.5h0m5 6.6h0m-15.7 14.3h0m13.6-1.5h0m2.8-23h0m6.4 21.6h0m-35.8-0.1h0m38.4-13.1h0m-23.7 1h0m-11.4 7.4h0m11 4.7h0m19.2-0.5h0m-33.7-7.6h0m33-6.3h0m-17.8-9h0m16.2 9.1h0m18 21.8h0m-11.7-18.7h0m-6.3 8.1h0m7.8-5.1h0m-11 12.8h0m-14.1-1.7h0m52.4-22.8h0m-39.3-3.9h0m-0.5 6.4h0m-7.7 28.3h0m12.7-24.4h0m-1.1 17.8h0m5.4-9h0m-6.3 4.9h0m-11.9-17.5h0m18.7 1h0m13.1 8.8h0m-53.2 12.5h0m39.2-1.2h0m-2.9-20.4h0m25.6-5.5h0m-36.4 29.4h0m5.7-18.6h0m25.6 7.2h0m-31.3 3.5h0m15.9-19.2h0m9.2 5.6h0m-25.4 2.6h0m27-16.5h0m-35.3 34.3h0m6-30.3h0m27.4 14.7h0m4.8-23.7h0m-24.5 36h0m6-9.5h0m-0.1-13.3h0m-5.4 21.2h0m-3.2-9.1h0m24.7 12.8h0m-27.7-13.9h0m-4-11.7h0m-1.7 11.3h0m28.5 3.8h0m-11.9 4.8h0m-15.3-0.9h0m33-19.3h0m7.3 5.5h0m-8.3-13.1h0m-17.3 24.3h0m-14.9-11.2h0m-2.9 8.2h0m27.6 5.2h0m-26-1.1h0m-5.2 5.6h0m23.2-23.5h0m-5.2 2.8h0m1.1 5.2h0m-6.2 13.4h0m28.7 0.3h0m0.5-16.3h0m-1.7 8h0m-17.8 2.6h0m-20-12.4h0m28.9 16.8h0m-17.7-15.4h0m5.9 18.3h0m23-10.7h0m-20.3-15.8h0m20.1 7.6h0m-32.1-4h0m28.3 13.4h0m-20.2-1.5h0m-22-0.6h0m8.5 1.6h0m26.9 5.4h0m6.6-19.2h0m-36.7 6.2h0m2 5.5h0m16.4 2.4h0m-3.5 19.6h0m-5.9-19.6h0m-17.4 14.1h0m18.7-15h0m3.2-7.7h0m9.8-2.5h0m-7.6 13.7h0m13.3-6.5h0m-2.6 11.1h0m3.8 5.9h0m-19.8-24.2h0m18.4 26.3h0m-33.6-30.9h0m36.5 15.7h0m12.8 3.5h0m-46.8 4.4h0m28.7-29.5h0m-19.8 28.7h0m4.7-6.8h0m24.6-6h0m-18.9 0.5h0m-4.2 21h0m-20.4-5.3h0m21.5 11.3h0m8.4-39.3h0m-36.5 21.2h0m18.9 11.5h0m-4.9-16.4h0m-17.2 11.3h0m37.3-22.4h0m-6.3 4.3h0m13.6 10.2h0m-11.1-9h0m-23 7.3h0m28.7-0.6h0m-10.3-7h0m13.7 0.1h0m-17.8 2.7h0m-12.6 20.9h0m44.7-24.7h0m-10.4-7.3h0m-16 10.3h0m10.8 14.9h0m3-29.5h0m-0.8 7.9h0m9.5 3.5h0m-19.6-8.3h0m18.7 21.5h0m-45.5 7.3h0m18.8 9.6h0m-10.5-22.3h0m39.7-10.8h0m-39.2 21.2h0m18.6-15.3h0m3.8 11.9h0m1 2.1h0m9.2-34.1h0m-3.1 28.1h0m-20-10.6h0m29.9-18.9h0m1 13.2h0m-21.8 15.2h0" stroke="#4A6394" stroke-opacity="0.3" stroke-width="1.3" stroke-linecap="square" fill="none"/>
<path d="M409.4 97.9h0m38.1-22h0m-8.2-5h0m23.7-6.6h0m-42.8 26.9h0m8-11.4h0m10.1-11.2h0m0.1 17.2h0m-18.5 19.2h0m34.9-28.7h0m-33 7.6h0m2.6-22.7h0m31 22.1h0m-57.7-11.5h0m40.1-12h0m-17.4 17.2h0m1.9 9h0m14.9 13.2h0m15.4-12.5h0m-45.9 1.7h0m20.7-7.5h0m-28.2 13.8h0m43-9.6h0m1.1-42.5h0m-12.2 37.7h0m4.7-24.1h0m-2.8-4.3h0m17.1 51.2h0m-39.3-42.6h0m14.7 30.8h0m11.6-17.6h0m-27.6-2.2h0m-7.8 9.3h0m6.4-7.5h0m30.4 19.4h0m-14.9-0.7h0m19.9-11.7h0m-21.6 1.8h0m-20.8-0.9h0m17.4 7.1h0m-0.1 5.8h0m30.6-19.3h0m-55.3-5.8h0m48.4 23.1h0m-22.1-2.6h0m39.9-20.1h0m-11.7-4.3h0m-40.9 41h0m46.1-23.1h0m11.5 3h0m-26.6-19.8h0m-34.9 22.2h0m17.2-7.9h0m-28 28.8h0m27.4-31.1h0m7.7 9.4h0m-1.4-15.3h0m8 7.2h0m-17.1 7.7h0m-2.5-5.5h0m-7.6-14.4h0m9 12.5h0m20.3 8.3h0m5.4-2.1h0m7-9.4h0m-21.6-4.3h0m28.7 4.9h0m-64.5 22.1h0m15.9-4.1h0m40.4-33.3h0m-29.4-14.5h0m28.4 21.6h0m-35.4 32h0m62.8-24.3h0m-61.6 3.8h0m-4.6 20.5h0m16.4-16.2h0m3.7 17.9h0m-2.2-16.9h0m45.2-9.5h0m-27.9-8.2h0m-40.8 6.3h0m22.9 15.5h0m2.9-0.4h0m-22.8 12.5h0m5.4-25.8h0m-29.2-2.5h0m36.2 9.3h0m5.8 19.7h0m14.3-13.4h0m-24.2-2.9h0m2.3 28.5h0m19.1-52.1h0m13.9 8.4h0m-23.6 4.3h0m-34.9-2.7h0m12.8 17.3h0m31.7 4.5h0m-13.5-14.1h0m-7.1 5.4h0m29.2-5.6h0m-29.5 1.2h0m-8 9.3h0m36.8-34.6h0m-40.3 2h0m18.5 41.3h0m11.9-46.7h0m7.6 22.1h0m-0.8 5.7h0m12.3 4.8h0m-57 7.5h0m41.2-30.8h0m-26.7 28.8h0m21.1-18h0m20.6 5.6h0m-22.4-7.5h0m0.6 12.8h0m-26 11.9h0m27.3-11.6h0m-30.9-2.9h0m28.7 11.8h0m-11.3-17.7h0m6.2 9.4h0m16.2 2.4h0m-29.6 0.8h0m6.1-4.5h0m32.1-11.5h0m-44.7 17.8h0m14.5 5.6h0m11.8 8.4h0m3.2-13.6h0m0.6-27.2h0m9 18.9h0m17.2 9.9h0m-21.5-23.5h0m5.5 13.5h0m-27.3 20.1h0m3-52.1h0m10.9 4.4h0m-10.3 33.4h0m17.4-19.8h0m-50.5 40.8h0m40.3-17.3h0m5.1-15.7h0m0.4-15.9h0m-0.2 24.4h0m-33.6-8.6h0m25.3-6.4h0m5.9-1.5h0m13.4-8.2h0m-47.5 20.9h0m-0.7-18.9h0m39.2 31.3h0m-2.6-20.8h0m-6.8 7h0m-0.6-13h0m5.7 17.3h0m-15.7 11.8h0m30.2-20.2h0m-43.3 16h0m38.6 0.9h0m-18-23.9h0m1.7 26.7h0m-22.6-27.5h0m12.5-2.5h0m33.1 16.6h0m-17.8 13.2h0m-10.2-25.1h0m24.1 21.7h0m-14.1-21.3h0m-5.3 8.9h0m7.8 2.5h0m-44 33.9h0m21.4-51.5h0m-16.4 37.8h0m55.5-8.7h0m15-18.5h0m-19.5 18.1h0m-27.8-12.6h0m33.7 15h0m-24.6-12.3h0m-10.2 12.3h0m16.2-14.5h0m11.1-9h0m-32.6 9.6h0m21.8-15.9h0m4.8 6.5h0m-31 34.7h0m-0.7-21.8h0m24.8-11.1h0m-9.6 9h0m44.2-17.8h0m-56.5 3.9h0m38.7 1.8h0m-8 4.5h0m-4.8-0.4h0m-32.7 38h0m8.1-16.2h0m22.4 0.6h0m-14.4-21.6h0m10.2-2.7h0m-11.5 18.8h0m22.5-12.4h0m-9.4 2.8h0m40.7-6.4h0m-38.4 27.2h0m-6.9-30h0m4.6 15.5h0m12.1-19.5h0m-1.4 7.8h0m-31.2-7.4h0m13.4 17.3h0m21.4-4.1h0m7.9-2.4h0m2.5-8h0m-27.5-18.2h0m-20.9 22.4h0m28 0.9h0m9.3 3.5h0m-4.5-3.4h0m-13.8 9.4h0m20.2 3.9h0m-26.1-26.9h0m35.9-11.6h0m-63.3 42.6h0m6.4-0.1h0m-1.1-9.4h0m35-10.2h0m-14.6 23.5h0m-7.2-8.5h0m7 5.2h0m17.5-10.9h0m-9.4 3h0m7.3 19.9h0m33.2-11.8h0m2.1-8.1h0m-44.1-7.3h0m-11-21.4h0m25.1 13.4h0m17.1 7h0m-35.2 7h0m-22.3 14.9h0m36.9-44.6h0m-10.3 31.6h0m45.8 1h0m-59.5 14.5h0m29-35.1h0m-9.1 3.9h0m1.6-3.2h0m13.6 10.9h0m-15.5 28.2h0m11.3-12h0m6.4-13.5h0m8.8-13.4h0m-50.3 18.8h0m-9.2 21.4h0m39.9-23.2h0m-16.7-1.7h0m1.6-2.3h0m16.3 2.5h0m-14.4 4.3h0m-16-15.9h0m-1.9 7.7h0m32.1-6.2h0m-6.2 14.2h0m-35.1 3.7h0m1.5-28.8h0m19.9 26.3h0m2-11.7h0m14.5 7.1h0m-14.3 2.2h0m36-11.9h0m-35.5-21.8h0m46.1 19.7h0m13.2-10h0m-55 39.8h0m10.5-22.4h0m-24.6 17.1h0m30.3-25.7h0m-6.3 32.8h0m1.8-14.3h0m-10.1-18.4h0m8.6-2.7h0m11.3 40.5h0m8-32.7h0m-42.4 20.6h0m1.7-29.9h0m17.7 46.3h0m3.8-42.1h0m-6.1 21.1h0m-12.4-2.5h0m-4.4 23.9h0m-9-9.2h0m38.3-35.3h0m-5.7 21.2h0m1.6-18.4h0m-38.9-11.2h0m-12.5 32.3h0m21.8 3.7h0m3.2-21.1h0m-14.6 1.6h0m29.8 11h0m-10.4-20.4h0m-6.5 39.8h0m58.9-44.8h0m-79 6.3h0m42.5 3.2h0m4.5 14.7h0m-27.1 13.6h0m55.4-32.8h0m-15.6 34.4h0m-29.4-25.1h0m1.1-5.2h0m-1.5 32.8h0m47.7-32.2h0m-23.4-7.9h0m-63.8 23.6h0m51.7-12.2h0m-5.3 15.8h0m-14.1 13.5h0m57.2-18.9h0m-28.6-15h0m17.6 6.7h0m-37.1 1.5h0m-11.6-3.2h0m-5.1-3.3h0m14.1 22h0m22 7.9h0m14.5-26.2h0m-53.1 0.7h0m13.5-9h0m4.4 15.7h0m17.6-12h0m-13.9 3.4h0m-25.5 2.8h0m29.8 2.3h0m1.9-6.6h0m-11.4-0.3h0m9.7 11.7h0m-23-19.6h0m1.9 26.7h0m22.2-18.2h0m-9.9 8.9h0m33.4-4.1h0m-40.3-0.9h0m40.5-14.8h0m-26.1 15.1h0m11.3-2.4h0m6 11.4h0m-19.3-0.8h0m19.3-20h0m-12.3-19.6h0m-29.7 62.5h0m8.7-23.9h0m59.4-9.6h0m-22.7-8.2h0m-10.1-8.9h0m-30.5 36.8h0m23.4-18.2h0m-14.9-7.9h0m52.5-6.4h0m-51.8 3.1h0m-1 31.3h0m1.4-26.9h0m6.9-14h0m-34.1 49.2h0m0.3-29.2h0m18.8 13.8h0m-6.7 5h0m45.8-15h0m-13.8-23.5h0m-21.4 50.3h0m18.1-24.2h0m22.7-32.3h0m-31.3 15.8h0m-20.8 6.8h0m22.3 18.2h0m49.5-17.6h0m-53.8-3h0m40.2 11.7h0m-1.2-2.2h0m-28.9 1.4h0m2.1 13.1h0m-0.2-29.4h0m29 6.9h0m19.1-12.5h0m-74 29.8h0m50 6.1h0m9.9-19.3h0m-16.1 13h0m8.9-26h0m-29.5 25h0m16-13.9h0m-11.5 0.8h0m9.7 2.4h0m-45.3 8.8h0m24.1-9.4h0m-7.9 8.5h0m23.3-22.8h0m-10.8 23.2h0m-5.6 1.5h0m-14.7 1.5h0m18.7-4.9h0m-17.4 14.2h0m37.1-35.4h0m-20.4 20.7h0m-3.2-12.4h0m-13.6 29.5h0m48.8-22.7h0m-26.8 24.3h0m-25.7-25.4h0m33.2-14.4h0m24.6-0.8h0m5 25h0m2.7-9.3h0m-36.3-13.9h0m12.3-0.7h0m-45.5 33.4h0m11.4 6.7h0m-12.2-6.5h0m-6.4 10.2h0m9-42.3h0m-5.5 32.2h0m33.7 8.2h0m-14.8-10.3h0m3.6-11.4h0m-6 15.5h0m36.7-15.1h0m-28.9 14.6h0m31.4-32.6h0m-25.3 43.3h0m-27.5-11.1h0m50.4-24.7h0m-24.8 28.2h0m-3.3-31.8h0m26.2 23.9h0m-5.5-25h0m-52.5 17.2h0m47.8-1.5h0m-30.9 7h0m35.1-16.8h0m-14.3-12.2h0m21.6 15.9h0m-15.5 6.2h0m-36.2 5.6h0m30-10.5h0m-13.8 0.2h0m26.7-12h0m-23.5-10.8h0m46.5 14.9h0m-14.4-10.6h0m8.6 25.2h0m-0.3-31.1h0m-21.3 12.2h0m-17.6 22.4h0m5.4-17.8h0m32.8-10.2h0m-31.1 5.2h0m5.3 31.9h0m-3.6-16h0m10.3 28.4h0m12.4-56.3h0m-34.6 13.6h0m10.4 28h0m19.2-26.9h0m33.4 8.5h0m-71.7 5.4h0m34.4-10.8h0m-10.8 27.1h0m4.7-4.9h0m-11.4 3.6h0m27.9-15.9h0m-30.4-12h0m46.6-5.1h0m-47.4 34.7h0m31.9-50.3h0m-41.9 33h0m49-4h0m13.1 0.6h0m-53.5 29.3h0m26.1-39h0m-20.2-24.3h0m29.3 43.7h0m-12.4-21h0m-31.1 1.1h0m45.1 23.4h0m-23.9-17.9h0m13.1-22.8h0m-16.8 18.8h0m-8.4-16.6h0m26.8 22.1h0m-25 24.9h0m-27.4-16.4h0m21.5-10.5h0m-22 32.3h0m8.4-15.4h0m25.2 14.3h0m-14.8 0.6h0m12.2-8.2h0m-19.6-7.9h0m37.2-28.3h0m5.3 26.4h0m-40.4-16.4h0m2.1 22.1h0m2.9 12h0m39.6-46.7h0m-15.9 52.8h0m22.4-21h0m-60.3-27h0m29.3 3.5h0m45 20.1h0m-69.3 0.4h0m29.3 6.7h0m-25.4-16.2h0m15.5-21.9h0m-12.2-1.6h0m3.5 8.6h0m11.8-2.8h0m15.2 11.1h0m-26.5 7.1h0m-6.3 10.1h0m10.5-16.5h0m10.2 7.2h0m10.3-16.2h0m-19.5 34.8h0m15.8-16.6h0m-27.9-5.2h0m-8.3 26.3h0m38.2-17.1h0m11.8-18.7h0m-52.2 28h0m10.1-13.4h0m55-6.2h0m-44.9 38h0m17.8-28.2h0m-17.1-0.3h0m17.9-30.6h0m7.7 26.1h0m-14.7 0.1h0m38.9-24.7h0m-52.6 25.8h0m39.4-15.1h0m-19.5-12.4h0m2.6 47.6h0m-19.8 8.8h0m0.8-21.2h0m46.9-18.3h0m-38.4 2.6h0m-10.2-14h0m-2.9 25.3h0m23.3-20.1h0m15.6 17.1h0m-2.5-23.3h0m-15.1 46.8h0m0.6-18.9h0m0.2-30.3h0m-34.9 26.7h0m56.8-3.3h0m-27.7 11.2h0m12.7-27.4h0m-4 4h0m10.1 36.5h0m-23.6-20.7h0m-27.3 26.6h0m29.9-24.7h0m3.1-33.9h0m-3.1 14.7h0m0.6 9.4h0m12.8-15.1h0m-16 43.4h0m23.5-49.1h0m6.6 18.7h0m5-13.6h0m-49.1 24.4h0m40.6-21h0m-7 0.6h0m-22.9-10h0m0.7 12.1h0m1.1 31.9h0m40-45.8h0m-25.5 26.9h0m-28 21.1h0m18.2-17.5h0m1.1 18.1h0m-44.4 3.9h0m37.8-23.2h0m-6.8-29.4h0m18.3 12.9h0m-45 36.6h0m46.8-19.8h0m25.5-1.7h0m8.2-23.7h0m-28.5 2.8h0m-56.1 41.8h0m55.9-9.7h0m16-24.7h0m-13.9 1.2h0m-0.3-20.9h0m-27 49.5h0m3.6-23.5h0m34.9 5.9h0m-3.9 5h0m12.7 0h0m20.9 3h0m-25.4-16.5h0m13.9 19.4h0m-11.5-5.3h0m5.5-9.7h0m14.6 0.5h0m-23.9 5.9h0m14.4-8.7h0m-4.1 5.3h0m3.9-4.2h0m-24 3.5h0m22.9-0.8h0m-1.8 6.8h0m-2.1-6.3h0m-12.4 3.4h0m-7 6h0m-7 1.9h0m24.3 3.1h0m6.8 5.1h0m3.2-11h0m-2.8-7.6h0m-15.5 13.7h0m4.2 0.5h0m3.5-8.2h0m0.7-8h0m22 6.6h0m-7.1-2.7h0m-20 12.1h0m4.3-9.5h0m-5.2 0.1h0m-3.6-0.9h0m8.3-0.4h0m8.8-0.6h0m-8.9-11.2h0m8.1 13.5h0m-4.7 0.2h0m-1.9-5h0m3.3 11.3h0m6.5-17.1h0m-10.8 14.6h0m9.8-20.1h0m-8.3 7.9h0m6.1 11.3h0m-11.5-9.9h0m0.7 5.7h0m-12.4-11.4h0m20.2 11.8h0m5.4-5.8h0m-11.3-7.4h0m3 11.2h0m-14.5 2h0m7.9 1.7h0m-6.1 8.5h0m10.3-8.3h0m8.3 0.8h0m-6.3 2.9h0m2.8-1.9h0m-14.4 6.7h0m18.4-11.1h0m-4.8 4.5h0m-20.8-8h0m26.4 3h0m-11.1 5.5h0m-13.9 7.4h0m7.8-5.2h0m18.6-22.5h0m-28.8 19.8h0m20.4-2.6h0m12.7-3.7h0m-22.6 7.1h0m4.2 2.4h0m-5.3 5.1h0m9.2-11.4h0m5.3 1.7h0m-19.4-2.4h0m25.6-15.5h0m-10 5.9h0m-4.1 12.8h0m-2.8 1.4h0m9.6-10.1h0m-0.7-0.2h0m-11.3-7.1h0m4.5 11.9h0m13.8 8.6h0m-23.9 1.5h0m9.3-13.3h0m3-1.6h0m7.7-4.3h0m13.1 12.7h0m-13.8-0.3h0m7.4 4.9h0m-27.2-2.6h0m31.5-4.2h0m-17.5-15h0m-8 6.8h0m22.7-1.8h0m-27.4 14.4h0" stroke="#D9434E" stroke-opacity="0.3" stroke-width="1.3" stroke-linecap="square" fill="none"/>
<path d="M406.8 75.5h0m5.5 25.4h0m-3.4-18.1h0m28.1 14h0m-11.3-14.3h0m-9.7-3.4h0m-1 12h0m1.2-13.1h0m10.9-4.3h0m-7.6 13.1h0m16.3 4.7h0m5 1.2h0m7.5-23.7h0m-33.5 14.1h0m14.2 3.6h0m-6.6 12h0m21.2-4.6h0m-5.1 7.8h0m-33.6 3.1h0m29.5-22h0m-32.8 17.5h0m13.8 3.4h0m-8.3-18.2h0m16.2 22.9h0m-4.9-31.7h0m19 16.5h0m-36.1-7.8h0m31.3 1.1h0m-28.8 1h0m23.1 12.1h0m-2.3-0.6h0m-6.6-8.6h0m-1.7 12.3h0m17.7-18.9h0m-0.6 7.3h0m-7.7 6.1h0m-29.7-7.9h0m21.4 9h0m28.6-25.7h0m-28.5 20.9h0m-3.6-25.2h0m-3.4 33.7h0m13.9-11h0m23.5-17.3h0m-13.2 16h0m-20.6-7.1h0m20.3 11h0m-31.1-0.6h0m2.9 11h0m27-11.1h0m-35.9 6.4h0m31.7-4h0m-8.5 3.4h0m1.8-18.6h0m-5.7 22.8h0m3.4-20.6h0m-0.2 15.1h0m4.7-14.7h0m-6.9 21.4h0m-5.8 6.8h0m2-8.4h0m14.7-15.9h0m-8.2-3.4h0m0.1 1.8h0m1.7-10.2h0m2.2 24.5h0m10.1-17.5h0m-31.1 22.8h0m-11.2-4.1h0m21.3-19.6h0m26.1 5.3h0m-18.9-11.6h0m2.1 18.2h0m-10.4-11.1h0m21.1 10.3h0m-17.3 14.3h0m-7.6-8.4h0m-7-3.4h0m1.8-0.6h0m0.5-7h0m7.4 2.2h0m7.6 12.6h0m12.2 1.5h0m-4.1-17h0m11.8 12.6h0m-4.7-20.8h0m6.6 17.5h0m-12.5 7.4h0m-14.6 5.3h0m-0.3-6h0m15.6-13.5h0m2.3 8.8h0m-8.5 10.7h0m8-2.7h0m-2-26.4h0m-22.4 10.4h0m19.9 16.5h0m14.1-12.3h0m-19.9 4.4h0m11.2 2.5h0m-20.8-33.3h0m-7.6 21.5h0m-6.6 1h0m30 8.1h0m3.6 1.8h0m1-24.7h0m-23 24h0m24.3-15.1h0m-0.4 5.6h0m8.8-1.5h0m-28.3 8.6h0m-10.2-7.1h0m16.3-3.2h0m-8.5 14.3h0m-8.3 3.7h0m31.8-29.4h0m-14.2 30.3h0m-18.1 7.8h0m4.3-15.6h0m5.5-3.9h0m-8.5 0.9h0m4.4-1.8h0m5.6 3.3h0m-3.5-25.9h0m19.9-6.3h0m-8.8 39.8h0m4.1-6.6h0m-17.4-6.8h0m8.1-0.4h0m6.8-3.8h0m4 6.3h0m-24.2 1.4h0m25.5-6.8h0m-4.1 6.8h0m15.4-5.4h0m1-0.1h0m-24.4 16.4h0m-9.7 4.4h0m18.6-29h0m-23.9 17.4h0m24.8-0.4h0m-5.9 9.2h0m17.7-7h0m-3.4 0.8h0m-14.2-11.4h0m16.8 7.7h0m-19.5 0.1h0m7.9-6.8h0m-23.3 8.9h0m20.9-5.5h0m-7.2 8.2h0m20.9-23.1h0m-2.2-5.9h0m-18.9 8.6h0m-3.8 9.2h0m20.8 6.2h0m-25.6 3.2h0m11.4-32.8h0m5.9 24.2h0m4.1 15.2h0m-26.9-8h0m3.9-18.6h0m26.9 24.3h0m-8.6-12.7h0m-14.2 4.8h0m26.8-9.5h0m-10 19.7h0m1.4-1.5h0m5.7-21.9h0m-23.4 5.1h0m2.5 1.4h0m18.1 11.8h0m-26.2-6.3h0m29.2 3.8h0m-35.1-5.3h0m8.5-23.8h0m30.2 32.9h0m4.2-6.2h0m-20.7-17.8h0m4.9-4.1h0m-15.6 33.9h0m25-10h0m5.1-15.9h0m-22 9.9h0m21.2 9.6h0m-32.9 6.2h0m-3.8-23.9h0m26.6 20.3h0m12.5-21.4h0m-37.3 27.1h0m16.9-14.7h0m6.5 3.7h0m6.4-9h0m-25 12.1h0m17.2-40.9h0m-7.6 52.1h0m21.4-12.6h0m-9.9-1.2h0m2.2-3.6h0m-25.6-15.3h0m27.4-15.1h0m-16.6 34.6h0m0.4-5.2h0m21-17.3h0m-23.1-0.3h0m7.4 21.2h0m1.9-22.1h0m3.3 15h0m-25.5 12h0m24.7-21.1h0m-6.4 18.2h0m-14.9 2.4h0m16.6-39.6h0m-10.6 30.5h0m12.8 13.5h0m9.8-24.3h0m-20.7 22.7h0m1.4-23.5h0m7.4-2h0m-14.3 18.5h0m-2.9 6.8h0m34.9-19.3h0m-15.5-12.3h0m-12.9 30.1h0m18.1-4.8h0m1.3-1.3h0m-12.8-0.2h0m19.3-1.8h0m-18.7-8h0m6.9 0.9h0m-8.8 8.7h0m-11.5 1.2h0m29.9-1.8h0m-34 7.8h0m14-16.1h0m-14.9 3.2h0m36.7-9.7h0m-13.3 19.1h0m10.8-34.6h0m-13.7 11.5h0m5.6 25.3h0m-18.6-12h0m13.4-0.2h0m9.7 1.1h0m-23.5 1.8h0m10.8-27.8h0m-8.1 38h0m1.6-1.1h0m21.2-0.5h0m-7.2 0.4h0m-3.5-2.1h0m18.4-8.8h0m-23.1-6.6h0m6 24.5h0m-4.1-14.1h0m16.4 0.9h0m-15.6-10.2h0m-21.2-0.3h0m34.7-9.1h0m-8.6 26.6h0m7.2-34.6h0m-9.3 32.1h0m-9.8-34.3h0m18.8 30.9h0m-18.3 10.8h0m-16.7-1.8h0m27.2-12h0m3 6.4h0m10.6-4.1h0m-13-6.2h0m1.2-11.8h0m4.3 6.5h0m-10.2 6.5h0m-2.3 3.4h0m-17.3 5.1h0m22.2-32.8h0m-2.9 25h0m13.5-4h0m-14.2 2.2h0m7.1 7.4h0m-9.3-19.2h0m1.9 7.2h0m5.9-7.4h0m-19.8 31.6h0m13.6-12.4h0m5.9-7.5h0m-4-23.3h0m-4.6 19.3h0m-9.9-18.8h0m13.1 34.5h0m8 1.4h0m-17.2-14.3h0m12.6 11.9h0m12.9-30.8h0m-16.1 29.9h0m1.3 0h0m6.4 3.3h0m7.1-13h0m8.1-0.5h0m-16.8-3.8h0m-27.8 13.9h0m12.9-17.3h0m24.1 10.6h0m-22 10.3h0m19.4-4.9h0m-30.4-7.9h0m22 5.1h0m3.7-16.8h0m-5.8 25.8h0m-2.7-13.4h0m-22.6 10.1h0m13.6-6.7h0m7.6 6.8h0m6.6-4.4h0m-4.6 6h0m-3-9h0m8.7 5.5h0m-22.3-9.1h0m11.8-6h0m14.4-10.1h0m12.4 7.3h0m-19.4 19h0m-10.2 7.8h0m-10-0.8h0m22.8-9h0m6-2.2h0m-15.8-8.7h0m11-2.9h0m-11.3 11h0m0.6 0h0m26.9-7.4h0m-14 5.8h0m-14.7 11.7h0m13.2-12.7h0m-7.6-6h0m-10.5 18.7h0m8.2-7.3h0m-0.7-0.2h0m2.3-25.5h0m-1.3 24.5h0m-1.1 14h0m10.1-12.8h0m14.9-14.4h0m-25.2 17.5h0m5.5-6.5h0m22.4-2.6h0m-14.5 5.2h0m-5.8-13.6h0m-31.6 12h0m22.3-5.1h0m9.2-22.3h0m-14.1 36.6h0m15.6-4.4h0m-1.7-15.9h0m-4.4 4h0m-7 13h0m11-18.6h0m11.4-8.9h0m-33.9 16.1h0m31.6 3.9h0m-3.5-7.3h0m-9.9 19.1h0m16.8-29.7h0m-4 7.3h0m3 21.3h0m-33.4-30.1h0m31 16.7h0m6.5-19.5h0m-11.9 29.8h0m-8.1-12.8h0m1.2 2.5h0m-7.8-1.4h0m24.9-6.8h0m-4.7 8.2h0m-28.6-4.5h0" stroke="#3F5A8C" stroke-opacity="0.4" stroke-width="1.5" stroke-linecap="square" fill="none"/>
<path d="M431.7 61h0m-9.6-0.3h0m-9.2 28.5h0m-0.3-8.8h0m39.8 11.9h0m-16.2-12h0m-11.6-18.2h0m-5.6 30.4h0m7.6 4.8h0m-23.3 0.9h0m36.6-36.8h0m-29.1 39h0m41.7-27.8h0m-7.9 13h0m-27.1 3.5h0m-15.2-6.7h0m36.9 3.4h0m20.8-22.2h0m-9.5 5.4h0m-23.2 6.6h0m27.6 1.8h0m-58.1 0h0m51.9 20.5h0m-28.1-18.3h0m-1.4 4.7h0m13.2-15.3h0m-6.5 15.4h0m-1.2-10.7h0m34.3 18.7h0m-49.2-22.7h0m53.3 15.3h0m-43.3-30.2h0m10.2 19.5h0m-9.7-4.3h0m20.3 11.5h0m-29.2-13.6h0m10.7 0.1h0m-2.8 11.1h0m20 1.7h0m-5-7.4h0m-15.3 26.5h0m-30.5-7.2h0m34.8-15h0m6.2 8.5h0m26.4-2.8h0m-40.5 10.1h0m-17 4.2h0m58-27.9h0m-10.3 16.4h0m-21.5 14.5h0m27.4-24.4h0m-51 8h0m25-16.3h0m-14.3 24.8h0m-6.4-7.2h0m6.4-2.6h0m24-4.5h0m1.7-20h0m9.3-1.7h0m6.1 38h0m-24.8-12h0m25.6 8h0m14.1-5.8h0m-33.1 1.7h0m-28.4 13.9h0m-6.8-8.3h0m39.5-26.2h0m10.8 25.3h0m12.1-4.7h0m-53.2-2.8h0m19.6-27.9h0m8.4 22.3h0m-19.9-8.8h0m15 9.3h0m-21.4 10.9h0m-5.1-13.2h0m50.8 7.5h0m-46.5-4.5h0m-16 20.7h0m19.7-0.3h0m24.4-29.6h0m-43.7-0.7h0m56.8-3.7h0m-5.4 18.4h0m-17.1 6.1h0m-2.9 0h0m-7.3-4.2h0m5.5 23.5h0m-4.6 0.9h0m3.6-21h0m-16.9 2h0m42.3-0.8h0m-5.9-6.1h0m-34-18.2h0m5.1-4.3h0m34.3 12.9h0m-24.4-16.4h0m-3.1 28.7h0m3.1 12.7h0m-7.2-17.5h0m-11.1 22.3h0m28.5-35.4h0m16.5 8.8h0m-16.9-9.6h0m34.7 6.8h0m-40.1-17.7h0m2 6.6h0m-14.6 4.2h0m5.6 22.9h0m32.4 0h0m-21.7-20.2h0m-18.4 15h0m15.4 11.1h0m7.2-15.2h0m-21.1 27h0m33.6-32.3h0m1.3 13h0m-58.8-17.8h0m48.7-9.5h0m-11.8 30h0m-20.5-8.2h0m19.5 16.4h0m-10-21.4h0m29.5 4.4h0m-16.7 0.2h0m3.3-7.9h0m-21.3 6.2h0m-8.5 0.5h0m26.4-22.5h0m19.6 26.6h0m13.4-0.5h0m-50.8 4.3h0m17.5-12.7h0m3.6 2.2h0m-17.5-7.2h0m12 8.9h0m25.7-6.4h0m-62 18.9h0m25.6-19.6h0m-15 0.8h0m6.3-7.3h0m-14.8 21.2h0m56.2-6.7h0m-16.3 21.7h0m-27.5-26h0m17-3h0m-9.7 24.5h0m50.8-15.3h0m-43.4 1.6h0m23.9-14.2h0m-19.4 9.4h0m31.7 2h0m-17.8 3.8h0m-16.8 7.3h0m-26.7-17.7h0m28.9 31.2h0m13-34.1h0m-30 11.3h0m33.2 10.3h0m-33.9 1.9h0m-8.3-2.1h0m24.9-3.4h0m-21.9 7.9h0m40.5-6.5h0m-42 13.2h0m21.1-6.1h0m-31.2 7.6h0m12.3-44.3h0m32.5 17.6h0m22.9 12.2h0m-6.2-16.7h0m-36.2-5.1h0m44.7 12.3h0m-21.3 10.9h0m-8.8-36h0m42.5 18.6h0m-55.8 34.7h0m2.1-15.3h0m-0.9 2.3h0m-17.4-14.9h0m57.4-1.7h0m-18.4 1.2h0m-17.2-17.1h0m1.9 13h0m23-15.2h0m12.4 25.7h0m-33.7-2.2h0m43.3-9h0m-24.2-8.5h0m-22.5-10.9h0m14.6 32.3h0m-4.8-4.3h0m28.9-8.4h0m-63.7 22.2h0m24.1-39h0m4.5 8.6h0m-6.8 21h0m0.8-14.7h0m-7 21.2h0m18-21.8h0m-17.6 14.9h0m39.5-9.2h0m-3.9 4.3h0m-12.1 1.5h0m-1.2-24.9h0m10.7 26.3h0m-28.5 6.6h0m22.6-21.4h0m-20.2 2.1h0m-6.3 8.9h0m-19.5 8.9h0m0-16.7h0m64.2 8.2h0m-44 21.4h0m47.5-43.2h0m-42 20.7h0m5.5 10.8h0m44.6-9.1h0m-62.3-24.2h0m-7.5 15.3h0m57.6 5.3h0m-43.9 27.3h0m52.7-26.1h0m-76.3 3.2h0m31.4-7.2h0m1.3-10.6h0m-13.6 20.4h0m34.4-4.3h0m-5.8-23h0m-9 28.6h0m-3.1 5.1h0m17.3-36.8h0m9 17.6h0m-29.1-8.7h0m16.1 8.8h0m-26.6 13.4h0m-9.4-8.4h0m24.1-5.8h0m-5 8.5h0m-2 13.7h0m49.7-24.6h0m-43.1 21.7h0m-4.1-36.3h0m32.4 14.9h0m-23.2 28h0m-35.2-8h0m34 1.1h0m-0.8-16h0m25.8-8.5h0m-12.5-6.6h0m17.3 26.1h0m-31 2.9h0m-18.8-35.9h0m37.8 25.6h0m-33.5 9.3h0m11.5-7.8h0m2.8-13.9h0m-28.7 20.4h0m60.6-11.7h0m-1.4 5.7h0m-31.8-1.5h0m46.1-2.6h0m-41.9 16.3h0m26.7-14.2h0m-44.2-22.8h0m7 19h0m3.3 13h0m9.7-9.1h0m2.6 9.9h0m-16.6-3.3h0m-17.8-24.7h0m31.3 32.4h0m-11.2-20.1h0m27-0.2h0m-13.9 0h0m3.2-10.9h0m-40.1 4h0m6.1 13h0m20.9-23.5h0m10 18.5h0m-22.5 29.8h0m1.7 5.3h0m8.3-31.8h0m-25.9 3.9h0m34.9-6.2h0m-15.2 14.3h0m12.2-16.3h0m38.1-1.2h0m-16.7 2.9h0m-29.4 10.4h0m-4.4-24.3h0m-11.8 40.3h0m8.6-0.7h0m17.1-28.1h0m-17.3 20.7h0m-11.2 3.6h0m49.3-9.4h0m-2.7-7.6h0m-7.6-7h0m-16.9 15.4h0m28.8 0h0m-29.6 0.9h0m29.5-14.3h0m-33.6-4.5h0m28.8-6.7h0m-17.4 19.6h0m14.4-2.3h0m-28.2 6.5h0m48.9-3.7h0m-43.1 4.1h0m2.1 0.8h0m30.1-16.6h0m-30.8-8.3h0m28.4 12.5h0m17 7.1h0m-17.2-21.8h0m-0.9 23.9h0m-26.6 1.1h0m28.6-26.4h0m-43.6-5.7h0m32 4.1h0m-22.8 34.5h0m-0.1-35.6h0m13.5 9.8h0m-3.3 1.7h0m33.5 1.8h0m-48 18.1h0m31-20.1h0m-43.8 9.1h0m13.9-0.7h0m41.5 12.6h0m-36.1 7.8h0m25.5-18.8h0m-41-12h0m55.9 6h0m-30.3 6h0m9.2-2.5h0m-16.2-13h0m40.4 11.1h0m-47.8 6.5h0m-2.4-14.2h0m48 12.9h0m-51.3-4.6h0m23.1 7.5h0m-21.9 9.4h0m-9.3-16.6h0m7.4 9.9h0m-17 16.2h0m50-45.4h0m-36.5 13.3h0m41.1 12.8h0m-43 19.8h0m23.8-46h0m-14.4 28.8h0m-2.4 5.3h0m27.9-12h0m-14.3 25.2h0m-35.9-10.2h0m71.3-5.5h0m-32.6-20.6h0m49 15h0m-14.4 2.9h0m-6.8 3.7h0m-42.2 11.2h0m12.7-17.6h0m7.9 16.9h0m-28.7-24.1h0m30.8-1.6h0m-42.5 5.9h0m30.7 16.3h0m6.2-19.5h0m28.3-4.7h0m-32.4 3.7h0m-22.5-3.6h0m29.4-1.7h0m-36.2 20.3h0m4.4-11.1h0m35.7-7.7h0m-1.7 17.5h0m-38.7-16.1h0m9.3-6.7h0m20.7 17.3h0m30.9-4.3h0m-11-25.3h0m-40.1 25.8h0m-1.8-0.5h0m-4.3 28.2h0m6.8-5.2h0m-9.7-14.6h0m-2.7 2.2h0m49-12.5h0m-24 7.4h0m18-18.1h0m20.3 1h0m2.7-4.8h0m-27.6 7.6h0m-33.9 14.8h0m-4.1-13.9h0m24.9 19.7h0m-13.4-5.5h0m12.9 5h0m19.3-7.2h0m26.1-1.1h0m-20.6-1.3h0m17.9-18.7h0m-64 14.7h0m-14.5 12.1h0" stroke="#D0404C" stroke-opacity="0.4" stroke-width="1.5" stroke-linecap="square" fill="none"/>
<path d="M411.3 110.1h0m21.3-21.3h0m-11.4 4.8h0m23.9-6.4h0m-21.2 6.4h0m14.3-4.2h0m-35.6 23.3h0m13.5-11.4h0m10.9-21.5h0m-14.4 8.7h0m-11.3-7h0m-8 14.7h0m36.4-0.4h0m-4.1 1.5h0m19.7-27.5h0m-40 23.1h0m26.9-5.9h0m-7.5-3h0m-10.6 5.2h0m12.5 12.8h0m-7.8 15h0m14.6-44.5h0m-13.6 35.6h0m-12-9.5h0m15.4-5.9h0m4.4 8.1h0m-7.1-17.2h0m-4.9 6.2h0m-4.3-14.7h0m5.8 10.5h0m17.3 13.9h0m-18.8-16.8h0m-1.9 31h0m12.5-21.1h0m5.9-9.9h0m-19 15.5h0m26.2-10h0m-35.5 24.9h0m12.6-27.8h0m-14 5.1h0m26.2-12.7h0m4.2 18.6h0m1.8-10.3h0m-14.8 2.9h0m5.9 19h0m13.4-29.3h0m-23.8-11.1h0m1.8 34.8h0m6.6 1.7h0m14.3-0.4h0m-23.1-10.8h0m9-11.9h0m-8.9 15.8h0m13.3-3.2h0m3 4.8h0m-32.1-11.8h0m20.3 5.9h0m15.4 13.4h0m-5.9-19.4h0m-4.8 18.4h0m-9.3-19.7h0m0.6 9h0m-8.9-13h0m18.1 4.7h0m3 6.6h0m-18.6 6.5h0m10.1-9.8h0m11.1-3.4h0m3.3 13.7h0m-22.2 9.1h0m-15-18.1h0m35.2 3.2h0m-16.2 6.4h0m22.4-17.5h0m-24 25.3h0m-18.3-24.6h0m23 19.8h0m-11.6-5.3h0m7.2 3.7h0m-2.8 2.9h0m14-23h0m-1.7 13.3h0m6.7-8h0m-14.8 16.1h0m13.6-7.7h0m-2.5 3.5h0m-3-0.2h0m-15.3-8.1h0m0.8 14.8h0m30.6-17.8h0m-5.5-7.5h0m-45.9 22.2h0m22.7-11.8h0m10.3 6.8h0m-17.6-2.3h0m-2.5 10.7h0m34.7-1.8h0m-0.1-28.4h0m-9.6-5h0m-16.5 12.3h0m11.3 11h0m6.2-16h0m3.2 8.8h0m-21.1 7.3h0m7.5-3.7h0m-1.7 3.4h0m16.9-11.6h0m-12.4 13.5h0m-10.6-17h0m6.1 25.6h0m17.1-32.8h0m-20.8 13.8h0m-7.2 15.2h0m31.5-5.8h0m-2.2-33.8h0m-10.9 36.5h0m13.9-1.7h0m-13.8 13.3h0m-4-14.2h0m3.7 6.2h0m3.6-5.1h0m-14.4 2.5h0m-6.1-20.6h0m25.3 24.8h0m-22-11.8h0m11.1-21.4h0m5.9 34.8h0m5.9-8.7h0m-5.1-2.3h0m-8.2 14.9h0m-1.6-30.9h0m-12.3-2.1h0m10.6 2.5h0m-6-7.2h0m-5.9 25.8h0m22.5-4.1h0m14.7-1h0m3.7-9.2h0m-10.1 12h0m-25.7-4.4h0m-7.2 10.8h0m26.8-1.3h0m-5.7-7.5h0m21-2.1h0m-33.9 1.3h0m2.3 14.6h0m3.3-41h0m32.2 19.4h0m-52.6-0.2h0m33.9 12.9h0m-23.6 13.7h0m-9.2-5.7h0m29.2-6.5h0m-22.5-9.5h0m17.6-13.6h0m7.4 19.7h0m1.8 17.7h0m-3.4-22.3h0m-6-11.9h0m-10.4 37.3h0m9 1.8h0m-15.9-19.8h0m9.1-2.2h0m9.8-9.3h0m-0.5 12.9h0m6.7-18.8h0m-7.2 21.5h0m10.3-1.6h0m6.2-34.3h0m-23.8 46.8h0m26.9-47.3h0m-19.6 35h0m-3.4-10.6h0m28.9-15.8h0m-25.1 31.1h0m7.7-28.7h0m-14.3 25.5h0m6.3-30.3h0m17.3 4.1h0m-31 17.7h0m29.3-13.6h0m-9.6 16.4h0m0.7-14.1h0m-9.4 14.9h0m13.4-26.3h0m-6 11.2h0m-1.5 6.1h0m5.7 1.6h0m-1.4-23.7h0m-20.1 34.2h0m6.5-0.3h0m-0.6-0.8h0m24.1-11.3h0m-3.4 22.1h0m2.8-18.3h0m-35.7 10.1h0m5.2 10.8h0m7.1-16.6h0m12 17.7h0m-11.7-25h0m10-3.1h0m-10.4 9.5h0m-7.6-8.3h0m-6 0.8h0m-0.3 0.1h0m33.3 11h0m-8.5 3.9h0m7.2-34.7h0m-0.6 36.8h0m-9.6-14.1h0m-12.4-11.2h0m13.2 6.4h0m4.6 14.4h0m4.9 1.1h0m-8.5-9.5h0m-4 6.1h0m-7.8 2.3h0m35.2-23.4h0m-34 25.5h0m8.6 1.7h0m4.1-32.1h0m11.8 30.2h0m-1.2-20h0m-10.4 17.6h0m6.2 3.3h0m-26.7 12.6h0m23-22.7h0m-24.9-9.4h0m-1.9-7.4h0m27.8 32.8h0m-8.5-13.2h0m-7 3.4h0m-2.6 15.5h0m24.9-19.4h0m6-10.6h0m-22.6 9.4h0m10.3 9.2h0m-21 7.4h0m11.6-30.2h0m0.1-5.5h0m-7.3 22.4h0m4 7h0m-3.5-2.6h0m1.4-13h0m13.9 4.9h0m-2.9-4.7h0m1.2 3.4h0m2.1 2.6h0m-0.1-4.5h0m3.3-27.2h0m-11.5 6.9h0m0.4 36.8h0m23.8-23.5h0m-26.8-4.3h0m22.5-11.6h0m-7.1 26.1h0m-16.4 12.1h0m6.8 2.3h0m-6.3-8.2h0m7 7.2h0m-20.7 5.4h0m8.6-15.4h0m13.2 8.8h0m10.9-7.6h0m-20.6-11.9h0m-5.7 23.7h0m9.9-18.7h0m-5.6 11.3h0m21.1-0.6h0m-3.8 2.6h0m-31.2-22.9h0m16.5 19.1h0m14 0.3h0m-32.9-3.8h0m42 0.5h0m-25.3-3.5h0m3.6 11.1h0m11.5-10.7h0m-9.1 8.1h0m-7-16.9h0m14.5 20.1h0m-5-10h0m-9.5-10.7h0m7.9 3.3h0m12.9 2h0m-2.7 14.3h0m-30.1-26h0m39.1 12.5h0m-22.7-19.1h0m2.2 8.4h0m18.7 6.3h0m-27.1-10.3h0m18.3 27.4h0m-10.1-19.2h0m24.2 2.7h0m-17.8 0.8h0m0.2 10h0m9.7-23h0m-18.3 14.1h0m7.5-1.5h0m6.1-5.9h0m-15 9.1h0m0.6 9.6h0m-2.9-18.6h0m-2.8 3.1h0m14.6 20h0m-1-13.3h0m-25.6 23h0m42.8-35.2h0m-44.4 5.5h0m32.6 0.7h0m-27.7-1.2h0m13.4-8.9h0m11.1 31.5h0m-15.1-15.8h0m-15.2 15.4h0m27.6-27.5h0m-2.5-17.3h0m-0.6 30.3h0m6.2 13.2h0m13-22.5h0m-5.4 3.3h0m-37.3 9.9h0m19.6-5.9h0m-14.2-12.1h0m30.6 19.3h0m-26-14.4h0m23.2 19.2h0m-22.5-2.2h0m7.3-16.2h0m6.4-0.7h0m-4.6 3.2h0m17.9 18.2h0m-24.1-23.5h0m22.9-2.1h0m-41.5 14.6h0m41.9 8.2h0m-32.9 1.9h0m10.5 0.1h0m6.7-3.3h0m14-6h0m-0.4 10.3h0m-20.1-32.9h0m21.6 14.5h0m-18 10.9h0m3.9 9h0m-8.4-9.6h0m-15.7 8.6h0m36.4-7.3h0m-12.9 6.1h0m-2.6-8.8h0m-16.8 4.7h0m13.4 3.1h0m12.6-30.5h0m-11.2 32.4h0m-0.7-2.5h0m-2.2-10.5h0m8.5-2.4h0m22.9-3h0m-24.6-1.6h0m-8.7 0h0m4.2-3.1h0m23.7-17.5h0m-2.7 6.1h0m-20 28.7h0m-19.3 3.7h0m15 3h0m24-20.1h0m-25.2 2.9h0m-12.4-2.4h0m11.9 19.9h0m-12.4-6.2h0m13.5 1.7h0m9.6-25.6h0m10 20.6h0" stroke="#3F5A8C" stroke-opacity="0.4" stroke-width="1.5" stroke-linecap="square" fill="none"/>
<path d="M425.4 95.7h0m20.7-8.9h0m-34.1 21.2h0m29.2-19.4h0m-7 2.6h0m-22.5-2.4h0m0.4-5.9h0m-2.1 7.7h0m38.6-1.4h0m-38.3 13.4h0m9.1-21.3h0m13.3 22.6h0m-31.3-16.9h0m33.2-17.6h0m-1.7 2h0m8.5 27.8h0m-38.4-23.8h0m26.3-0.7h0m-11.1 14.1h0m-2.8-16.8h0m7.3-14.4h0m5.8 19.9h0m2.8 21.7h0m-28.1-0.9h0m55.8-18.3h0m-26.6-11.3h0m10.4-3.8h0m-26.4 12.4h0m10.4-3h0m21.1 1.3h0m-21.5 32.9h0m44.7-32.8h0m-38.4-3.1h0m-29.6 17.1h0m37.1-3.3h0m-24.8-0.2h0m-7.3-10.4h0m0.8 21.9h0m21.1-16.8h0m-35.3 9h0m0.5 18.6h0m26.3-5.5h0m9.4-12.5h0m-31 11.6h0m30-26.4h0m6.7-17h0m27.5 21.6h0m-41.6-17.7h0m-19.9 16.4h0m25 11h0m31.5-15.6h0m6.4 17h0m-9.2-5.6h0m-17.4-28.7h0m-22.4 49h0m50.3-34h0m-34.8-1.8h0m11.8 8.4h0m-23.8 16.4h0m30.7-9.5h0m-20.6 0.8h0m-18.5 12.5h0m-4-18.5h0m10.2 13.5h0m47.2-10.1h0m-0.6 3.8h0m-37.8-17.4h0m-9.5 8.5h0m1 11.9h0m-2.4-21.3h0m-0.1 36.4h0m-10.2-25.6h0m15.9-13.5h0m50.2 17h0m-11.6-20.3h0m-58 7.4h0m36.6 7.5h0m4.8-10.7h0m-7.8 7h0m-27.3 29.2h0m18.7-40h0m-24.7 28h0m24.2-18.8h0m27.8 20.7h0m-21.8 6.4h0m-33.2-17.7h0m2.4 7.8h0m29.2 8.9h0m13.8-21.7h0m-47.9 10.4h0m19.4 24h0m47.7-22.9h0m-70.8 4.8h0m50.4-34.2h0m3.4 18h0m-50.8 15.8h0m3.8 15.8h0m-1.3-14.1h0m48.8-13.6h0m-22.1-4.4h0m-4.1 18.4h0m2.5-21.6h0m-6.1 1.5h0m33.9-10.8h0m-36.3 2.8h0m41.3 23.8h0m-32.4-3.5h0m28.5-24h0m4.1 23.3h0m-47.9 14h0m44.6-26.5h0m-19.2 18h0m-4.9-7.8h0m-10 24.8h0m-17-21.7h0m-2.9 15.7h0m46.2-29.6h0m-14.1-2h0m34 0.5h0m-40.1 7.9h0m-16.6-0.5h0m7.8 14.5h0m3.8 2.5h0m14.8-38.3h0m-11.9 35.6h0m5.9-16.5h0m-6.8 10.9h0m12.8-5.7h0m13.9 1.5h0m-33.6 8.3h0m40.8-2.2h0m9.8-3.1h0m-30.8-13.9h0m-33.2 33h0m66.3-29.9h0m-27.9 18.2h0m-8.3-15h0m1.2-5h0m-19.7 16.7h0m-13.6-12.2h0m64.7-3.6h0m-8.6-10.7h0m-48.5 20h0m17.3-18.9h0m-7.2 17.8h0m-14.8 1.4h0m36.3-32.3h0m2.6 23.2h0m-35.8 0.4h0m20.4-1h0m-19.3 30.6h0m11.9-8.4h0m-13.9-22.7h0m-14.5 5.3h0m10.5 5h0m65.8-5.2h0m-59 4.7h0m57.4-0.1h0m-50.3 24.6h0m30.8-24.9h0m-32.4 14h0m-7.8 3.5h0m47.3-34.2h0m-23.7 31h0m25.5-41.8h0m-21.9 23.1h0m34 6.9h0m-49-4.4h0m28.7-1.8h0m-23.2 1.2h0m23.3-1h0m-54 10.9h0m32.5 5.8h0m-41.2-5.2h0m41.8-23.9h0m-8.6 13h0m-8.5 4h0m11.3-3.2h0m47.2-0.7h0m-69.7 18h0m21.1-3.5h0m10.2-38h0m-11 25.3h0m-18.1-3.2h0m57.6 12.3h0m-31.5-23.4h0m-1.2-0.9h0m10.8 29.6h0m16.1-6.7h0m-1.6-13.5h0m-0.3 5h0m-62.6 15.7h0m79.5-10.3h0m-0.2-3.8h0m2.5 4.9h0m-0.5-1.6h0m-45-8.6h0m40.5-6.6h0m-46.2 23.8h0m-18.8-10.1h0m25.4-3.1h0m16.4-7.8h0m-30.4 22.2h0m16.8-8.5h0m-36.9 4.6h0m16.9-10.7h0m-1.6 9h0m26.5-9.5h0m-16.8 6.4h0m-2.8-18.8h0m24.8 24.1h0m-42.8 15.8h0m28.5-44.6h0m19.2 16.8h0m9 6.5h0m-20.1-1.5h0m-22.2 3.4h0m45.9 3.6h0m-29.5-15.4h0m14.6-12.3h0m-19 18.7h0m14-5.3h0m-33.3-1.4h0m62 9.7h0m-46.7-21.2h0m16.6 18.3h0m-38.1 5.9h0m47-3.4h0m-17.3-8.3h0m47.1 1.3h0m-86.7 12.2h0m17-19.1h0m26.4 2.8h0m1.4 11.9h0m-12-16.3h0m33.7 19.5h0m-7.7-7.4h0m-60.5 2.9h0m45.8-17.6h0m5.2 28h0m-14.3-29.4h0m45.5 23.1h0m-11.7-13.6h0m-27.4 3.6h0m4.9-7.6h0m28.4 2.5h0m-59.7-9.8h0m12.1 28.5h0m6.2-38.1h0m29.7 18.1h0m4.8 10.5h0m-18.9-0.9h0m-15.8 7.1h0m12.3-25.3h0m-21 17h0m10.4-3.4h0m-2 3.5h0m-10.1 11.7h0m10.2-13.1h0m16.1-1.8h0m2.5 27.2h0m-39.5-23.5h0m-6.2 22.8h0m31.6-10.4h0m14.9-11.1h0m-54.6 0.5h0m62.8-1h0m12.7-1.2h0m-39.7-12.1h0m-11.7 33.9h0m38.3-21.2h0m15.3 3.9h0m-70.9 9h0m42.6 1.6h0m-1.5 4.7h0m40.8-23.4h0m-26.3 10.4h0m-1.3-4.2h0m-42 18.4h0m31.5-30.1h0m0.9 33.2h0m9.8-44.2h0m-1.5 10.4h0m-41.5 14.5h0m65-5.7h0m-14.8-2.1h0m-46.6-3h0m16.8 24.6h0m15.9-15h0m-9 10.1h0m-16.5-6.9h0m6.8 4.9h0m18.9-17.6h0m-10 8.5h0m11.3-13.4h0m-18.1-13.8h0m-9.1 21h0m9.7-3.7h0m15.5-6.2h0m7.9 15.3h0m-26.2 14.9h0m26.3 3.5h0m-33.6-13.8h0m32.5-4.3h0m-23.7 6.7h0m28.5-25.5h0m-31.3 15.9h0m7.6 1h0m-7.6-16.2h0m-5.4 25.6h0m2 10.3h0m24.9-9.9h0m-43.6-12.4h0m-2.5 18.6h0m34.2 2.7h0m-1.4-40.2h0m-9.9 28.5h0m46.9-7.1h0m-9.8-9.8h0m-21.8-15.7h0m29.7 19.3h0m-23.1 16.6h0m-8.2-10.6h0m-19.4 12.3h0m32.7-17.3h0m-32.2 11.7h0m51.1-18.7h0m-49.6 33.3h0m44.6-29.4h0m-22.9 18.7h0m-2.1-8.6h0m-16.6 5.7h0m-5.8-19.8h0m-14.3 33.4h0m80.4-28.1h0m-50 16.9h0m-36.7-14.2h0m43 5.6h0m-22.2-4.6h0m9.8 23h0m-24.9-22.3h0m70.6 0.7h0m-69.2-3h0m20-7.5h0m17.5 8.4h0m0.7 4.8h0m-36.2-5.5h0m55.4-17.7h0m7.8 25.5h0m-16.7-10.3h0m-22 9.8h0m15.6 7.9h0m13.9-15.7h0m-12.5 4.7h0m-35.3 16.9h0m15.6-30h0m-10.5 6h0m17.9 4.6h0m-4.5 5.8h0m42.5-6.9h0m-46 7.6h0m22.2-13.7h0m15.4 12.9h0m-51.4-6.6h0m66.1 8.1h0m-15.5-0.8h0m-9.8 10.4h0m-40.5 10.8h0m47.7-46.8h0m-21.8 26h0m11.9-5.7h0m-14.5-19.8h0m46 17.5h0m-17.1 7.2h0m-12.4-8.1h0m-43.1 18.5h0m27.6-5.2h0m-23.4 9.2h0m23.2-14.3h0m-20.6 7.8h0m33.5-5.1h0m-44.2 8.6h0m40.6-10.3h0m21.8-1.7h0m-20.5-16.8h0m-13.5-6h0m26.9 19.8h0m-22.4 8.9h0m-3.7-22.3h0m15.4 11.9h0m21 3.2h0m-30.4-8.1h0m-11.4 8.6h0m32.3 0.3h0m-41.2 4.6h0m5.5 12.4h0m22.9-6h0m-4.3-17.2h0m-20.9 14.4h0m4.2-2h0m-19.5 19.6h0m23.1-27.2h0m1.7 3.1h0m34.6 5.6h0m15.8-10.2h0m-27.3 4.3h0m6 1.4h0" stroke="#D0404C" stroke-opacity="0.4" stroke-width="1.5" stroke-linecap="square" fill="none"/>
<path d="M408.8 87.9h0m34.1 7.8h0m-15.2-7.3h0m-7.7-8.4h0m-15.4-2h0m18.2 23.6h0m10.3-31.1h0m-22.9 31.7h0m10 6.3h0m-10.5-26h0m18.5 4.4h0m-5.1-15.9h0m-13.2 35.1h0m4.5 8h0m5.9-37.4h0m-18.7 12.2h0m30.2-2.6h0m-14.5 17.7h0m-20.5-7.3h0m36-19.2h0m-21.2 31.7h0m31.3-11.9h0m-38.8-6h0m19.6 11.3h0m-4.8 10.7h0m-4.3-13.2h0m11.5-10.3h0m-2.9 16.9h0m-19.4-15.7h0m4.5-1.7h0m25-15.3h0m-16.5 23h0m-4.9 3.9h0m25.6-13.2h0m7-9h0m-37.3 18.7h0m8.2 1.6h0m7.1-7.7h0m-1.5 16.9h0m15.8-7.4h0m-17 1.5h0m20.7-27.9h0m-3.2 25.3h0m-29.6 2.7h0m3.9 2.7h0m29.9-24.5h0m-8.4-1.1h0m10.6 3.8h0m-9.7-7.2h0m-15.9 31.9h0m12-16.8h0m-11.1-15.3h0m-6.6 32.2h0m15.1-25.7h0m3.3-8.2h0m-16 25.7h0m2.5-16.3h0m2.9-2.7h0m12.8-4.5h0m-16.3-4.6h0m1.9 34.1h0m0.7-19.2h0m10.4 15.4h0m-2.5-4.5h0m20.3-27.7h0m-13.2 14.8h0m-0.5 7.7h0m10-20.6h0m-28.8 31.8h0m19.3-18.2h0m-24.4-5.1h0m22.5-7.9h0m3.1 2.3h0m-18.6 9.9h0m18.7 3h0m-17.4 6.9h0m7.3-2.9h0m-12.8 21.2h0m-9.9-4.3h0m8.3-17.6h0m5.1-7.9h0m-16.4 27.8h0m46.1-24.5h0m-41.7 23.5h0m15.3-2.1h0m9.3-7.9h0m-23.8-9.3h0m39.9-17.4h0m-45.2 33.4h0m20.4-10.2h0m-2.8-3.6h0m-4.5-6.9h0m7.6 4.4h0m-3.6 1.6h0m21.3-8.6h0m-11.6 1.5h0m-5.2 21.1h0m5.9-18.1h0m5.8-24.2h0m-7.4 8.7h0m2.8 41.4h0m-11.9-19.7h0m19.9-24.5h0m-11.4 18.5h0m-8.4-1.3h0m-3.1 17h0m22.7-5.6h0m-19.1-4.9h0m0.4 0.3h0m-13-12.6h0m-0.1 23.8h0m10.5-4.8h0m1.5 8.3h0m-0.2-2.2h0m-13.5-7.8h0m26.1-0.4h0m-0.7-0.5h0m2.9-1.9h0m-6-4.8h0m-0.1 6h0m-7-2.6h0m21.7-14.3h0m-6.3 16.3h0m12.1-15.7h0m0.7 15.9h0m-8.8-4.9h0m-25.8-0.3h0m12.4 2.3h0m-22.5 4.5h0m7.8-23.6h0m9.3 19.8h0m-11.1 3.5h0m34-11.5h0m-33-14.6h0m20.8 23.3h0m-13.2-15.6h0m-16.8 9.7h0m23.8 6.3h0m4.9-0.2h0m-24.5 5.8h0m12.2-7.6h0m5.1-8.7h0m3.4 16.6h0m-15.3-3.3h0m18.5-17.8h0m13.9-9.7h0m-8.1 21.4h0m-4.2 4.6h0m-11-2.3h0m-3.9-12.4h0m14.4 24.2h0m-20.3 8.8h0m20-18.1h0m-10.6-6.8h0m13.4 0.9h0m-0.8-0.4h0m-21.3 2.6h0m10.6 5.2h0m-20.4-0.7h0m39.6-19.6h0m-22.1 34.4h0m14.9-7.5h0m-4.4-2.8h0m-3.6-6.5h0m-30.1 15.8h0m38.9-14.9h0m-16.8 18.6h0m1.6-21h0m-21.1-12.4h0m37.1 6.6h0m-17.9 0.5h0m5 15.7h0m-1.4-2.2h0m-1.5-0.8h0m-5.7 4.2h0m0.1-17h0m20.5 15.6h0m-17.7-2.9h0m13.2-18.8h0m-8.9 10.5h0m5.1 10.2h0m-0.8-12.2h0m-14.4 8.3h0m15.1-11.3h0m-3.7 11.9h0m1.2-22.2h0m-17.5 21.7h0m17.6-1.1h0m-5.5-10.4h0m11-6.2h0m-5.9 25.5h0m-0.8-34.1h0m4.4 14.9h0m16.8 16.6h0m-31.2-5h0m-4.5-0.7h0m16.9-5.8h0m-4.6 8.4h0m-3.4 2.8h0m-6.1 0.7h0m11.3-1.7h0m13.2-8h0m5.5 10.7h0m0.4-24.7h0m-17.6 25.5h0m15.9-11.3h0m-21.4 8.9h0m4.7-0.9h0m4.4-37.6h0m-18 27.7h0m28.6 3.2h0m-0.8-8.6h0m-5-9.6h0m6.1 16h0m-22.4-4.4h0m3.7 2.2h0m4.6 5.3h0m-9.8-2.3h0m12.6-6.2h0m-18.3-8.9h0m23.8 16.9h0m-9.1-7.8h0m-11.8 24h0m6.9-9.7h0m-25.8 4h0m10.1 2.5h0m30.1-30h0m-6.3-9.6h0m-3.9 38.2h0m17.1-17.5h0m-23.6 6.4h0m8.3-22.7h0m6.4-6.6h0m-13.3 36.1h0m-11.7-16.1h0m5.7 5.4h0m-2.8 2.4h0m32.9-4.2h0m-12.3 5.3h0m-8.4-0.8h0m-6.7-8.3h0m12 11.3h0m1.2-3.4h0m-7.9 4.4h0m3.2-20.3h0m-11.7 12.4h0m15.5 9.8h0m-1.8-10.9h0m-0.3-9.4h0m-9.6 18.5h0m18.1-4.9h0m-14.2 12.8h0m4.1 1.7h0m-6.5-20.8h0m27.9 1h0m-24.6 11.2h0m20-6.2h0m-17.3 0.9h0m-4 7.5h0m-18.1-17.8h0m50.6-8.6h0m-27.9 12.8h0m-5.9 6.5h0m19.1 1.2h0m-28.9-6.7h0m-4 21.2h0m10.1-2.5h0m12.1 2.5h0m9.5-12.8h0m13.5-20.4h0m0.7-5h0m-13.3-7h0m-9 34h0m-14.9-14.6h0m10.7 18.3h0m9.3-9.8h0m-7.7 12.2h0m20.5-19.8h0m2.2 1.7h0m-6.1 12.7h0m-13.1-17.4h0m-6 11h0m-0.6-10.2h0m-0.5-21.6h0m-2.9 37.2h0m-11.2-16.1h0m6.8-3.6h0m12.1 25.3h0m3.7-19.7h0m6.7 6.8h0m-14-13.8h0m7.8-3.6h0m-2.4 14.5h0m-19.9-0.8h0m35.5-27.2h0m-9.6 29.1h0m9.8 8.5h0m-18.3 1.7h0m11-11.5h0m-3.6 12.2h0m5.8-1.1h0m4.2-35.5h0m-20.9 5.3h0m16 13.5h0m-19.6-3.1h0m14.1 25.2h0m-6.3-3.7h0m-7.1-4.3h0m19.4-10.1h0m2-1.7h0m-9.3 14.5h0m-4-4.2h0m-13.3-19.1h0m-1.5 27h0m-12.6-21.7h0m9.5 11.6h0m22.6-1h0m-18.2-4.4h0m6.1-13h0m-0.4 19.4h0m5.8-1h0m2.5-23.5h0m17.1 3.1h0m-21.4 39.5h0m13.5-20.5h0m-7.1 5.9h0m-1.4-2.9h0m0.6-8.8h0m-6 19.4h0m10.4 4.8h0m-26.1-22.9h0m8.4 9.2h0m0.5-0.5h0m17.3 4.1h0m-14.9 12.5h0m2.5-27.3h0m29.5-4.1h0m-15.3 12.1h0m-3.7 12.5h0m-0.6-18.1h0m-1.1 20.3h0m-8.7-28.4h0m11.4 18.8h0m-9.6-14.7h0m-19.1 21.9h0m35-23.3h0m-16.9 1.4h0m18.5 7.1h0m-4.3 8.5h0m-21.8-17.1h0m11.7 27.9h0m-13.6-11h0m9.8-18.8h0m-13.6 0.3h0m31.4 18.2h0m-13.6-8h0m-3.8-7h0m-9.8 19.9h0m-10.4 7.4h0m37.3-21.9h0m-21.8 12.3h0m24.6-12.6h0m-9.1 17.5h0m-0.4-29.4h0m-19.2 7.8h0m18.1 17.6h0m-10.5-6.3h0m-14.5-4.9h0m19.3 5.3h0m1 9.2h0m2.1-22.5h0m-0.3-8.2h0m-5.2 26.3h0m8.1-19.3h0m10-10h0" stroke="#3F5A8C" stroke-opacity="0.4" stroke-width="1.5" stroke-linecap="square" fill="none"/>
<path d="M441.1 66.9h0m5.3-4.2h0m-36.7 39.5h0m45.7-9.3h0m-21.3-28.3h0m-23.6-1h0m62.3 19.1h0m-13.5-1.6h0m-34.1-0.7h0m29.9-1.2h0m-54.3-5h0m18 11.9h0m-15.6 11h0m13.5-5.5h0m23.2 11.7h0m-34.4-39.9h0m56.8 25.1h0m-15.8 10.8h0m-19.8-32.5h0m17 0.5h0m-26.2 8.8h0m-34.7 10.9h0m48-24.1h0m21.3 25.7h0m-20.5-31.9h0m-7.7 33.2h0m-20.8 17.2h0m-13.8-26.4h0m38.5 21.2h0m2.2-26.4h0m1.2 9.4h0m10.9-16.6h0m-4.8 22.2h0m-12.2-20h0m-13.7 13.3h0m8.3 15.9h0m0.8-27.7h0m6 14.2h0m14.5-19.7h0m-43.4 30h0m21.7 5h0m21.7-17.8h0m-1.3-20h0m2.3-7.6h0m-17.1 7.2h0m31.2 17.8h0m-13.1 3.7h0m-23.4 6.5h0m-12.3-2.4h0m17.4-26.2h0m-25.7 1.9h0m16.5 29.1h0m7.2-25.8h0m-21.9 29.3h0m30.8-34.8h0m-35.8 9.2h0m36.2 34.6h0m-7.7-38.5h0m-12 25.1h0m42.7-0.9h0m2.3-21.6h0m-23.3-7.8h0m-26.5 31.6h0m17.4-41.2h0m-5 5.9h0m39.2 13.8h0m-56 9.7h0m24.3 1h0m-19.3 15.4h0m10.6 0.9h0m15.5-3.1h0m9.1-15.9h0m-7.5 23.8h0m11-10.7h0m6.2-0.4h0m-37 2.2h0m39.6-8.5h0m-30.1 2.3h0m4.3 4.4h0m8.1-13.7h0m9-3.2h0m-16.9 11.9h0m-46.8-2.2h0m41.9-28h0m3.6 34.6h0m-4.3-30.1h0m11 29.2h0m3.9-22.1h0m18.5 7.5h0m10.7 8.8h0m-12.6-13.4h0m-42.4 1.9h0m-10.6 25.4h0m41.7-27.1h0m-21.4 8.4h0m28.1-13.3h0m-39.7 39.5h0m6.8-38h0m-16.6 16.6h0m24.6-7.1h0m-17.5 33.4h0m28-39.6h0m-30 15h0m33.4 11.9h0m-38.9-0.7h0m55.9-25.5h0m-34 36.9h0m9.8-19.6h0m-7.7-11.4h0m22.1 5.2h0m-28.9-13.2h0m39.2 3.8h0m-48-11.5h0m10.8 45.9h0m-10-8.9h0m44.8-22.2h0m-24.4 2.5h0m-8.7-2.8h0m11.4 2h0m-18.4 10.9h0m22.2-9.7h0m25.1-2.7h0m-45.7 27.6h0m-4.5-40.5h0m0.7 10.7h0m46.2-1.2h0m-54 16.4h0m25.7 0.9h0m-36.2-20.2h0m62.3 8.4h0m0.3 8.1h0m-58.6 5.5h0m37.1-9.9h0m-27.7-5.5h0m23.5-12.4h0m-5.2 4.3h0m-23.9 7.5h0m22.9 7.7h0m4.6 17.1h0m-20.2-20h0m45.8-3.5h0m-46.8 8.2h0m-27.1 3.3h0m35.5-16.8h0m23.6 20.4h0m-4.7-11.4h0m23.1 2.7h0m-44.4-12.7h0m-9.1 24.9h0m-4.6 0.3h0m14.5-5.7h0m-14.2-20.3h0m38.6 17.7h0m-10.6-24.6h0m-25.5 23.9h0m45.5-3.4h0m13.5-11h0m-52 11.4h0m7.3 19.5h0m15.4-2.2h0m28.8-22.8h0m-15.8 13.7h0m-16.8-19.2h0m-3.4 12.8h0m-19.1-10.7h0m-7.6-1.8h0m57.1 10.1h0m-46.9-2.3h0m26.3-1h0m-11.3 12.5h0m-2.1-8.5h0m-1.1-12.7h0m-1.4 23.3h0m-11-1.2h0m-0.7 8.8h0m8.4-8.6h0m1.8-2.5h0m-15-25.2h0m17.6-4.5h0m37.4-2.4h0m-32.5 13.3h0m16.5-11.5h0m-8.3 21.1h0m-24.2-5h0m38.5-12.9h0m-38.6 16.5h0m1.3-6.9h0m-1.9-8.2h0m8.5 16.6h0m-2-0.6h0m-0.1-9.5h0m14.3-0.3h0m-19.4 3.8h0m-14.6 0h0m19.3 15.8h0m28.4-36h0m-33.5 11.3h0m26.3 29.6h0m-17.8-4.2h0m-5.8-16.5h0m-12.4 19.2h0m24-17.7h0m-10.7 8.6h0m4.4 4.4h0m-16.5 1.7h0m19.5-18.5h0m-18.6 14h0m24.3-4.7h0m-33.2-12.6h0m12.9 25.5h0m15.6-17h0m-1.8-4h0m40.7 11.5h0m-38.6-18h0m0.7 8.9h0m-5.9-3.9h0m10.1 16.2h0m-16-20.3h0m23 20.6h0m19.9-15.4h0m6.1 7.1h0m-9.7-12.9h0m-66.8 29.8h0m54.2-15h0m-17.9-5.9h0m-6.9 15.8h0m10.5-29.5h0m28.5 15.3h0m23.3 5.4h0m-3.9-8.4h0m-43.6-3.2h0m-2.2 6.8h0m-20.8-17h0m18 21.6h0m-4.8 9.4h0m3.9-5h0m46.8-5.8h0m-57 0.7h0m46-5.2h0m-29.2 7.8h0m23.7 6.3h0m-26.5-22h0m12.3 20.1h0m-26.3-14.5h0m-13.2 1.8h0m22.9 9.2h0m-0.9-11.1h0m-11.1 19.8h0m8.8-27.3h0m-12.3 9.8h0m8.2 11.2h0m42.3-15.8h0m-44.9 2.1h0m20-2.2h0m-33.1 33.3h0m22.8-38.6h0m47.6 14.3h0m-51.9-14.3h0m17.9 25.6h0m-8-4.4h0m32.3-15.4h0m-60.8-9.3h0m47.3-0.4h0m-30.2-3.9h0m8.1 40.6h0m29.1-31.1h0m-53.6 11.1h0m52.3-24.8h0m-2.3 28h0m-27.4 10.2h0m35.8-35.7h0m-9.9 27.7h0m-9.1-11h0m-11.6 11.2h0m-5.8-17.3h0m34.7 11.2h0m-8.3-9.5h0m-43.4 6.8h0m-5.8-15.3h0m69.4 11h0m-50.1 22.2h0m-6.1-7.1h0m10.9-15.2h0m-7.3 4.6h0m30.6 5.9h0m-17.6 13.7h0m-15.7-30.7h0m62 9h0m-68.8 14.2h0m-4-10.4h0m37.6-25.4h0m10.1 0.3h0m-66.9 32.8h0m48.8-1h0m1.7 6.4h0m-19.3 11.8h0m14.7-49.6h0m-25.7 16.3h0m23.6 13.9h0m-17.4-1.3h0m26.1-0.6h0m-4.9 19.7h0m17.9-48.2h0m20.1 26h0m-67.8 16.3h0m40.2-7h0m-26.1-25.6h0m27.1 0.2h0m-10.1-5.9h0m-1.8-5.6h0m13.8 37.1h0m15.5-6.7h0m1 4.9h0m-29.1 1.6h0m22.2-8.1h0m-34.4 4.3h0m9.5-10.4h0m-3.6-16.1h0m13 12.9h0m20.9 11.7h0m-50.4 2.9h0m22.4-10.8h0m-16.9 4.6h0m24-0.6h0m16-9.1h0m-36.8 22.8h0m-9-5.7h0m20.4 0.2h0m-7.5-8.5h0m-0.1 3h0m7.7-2.8h0m15.4 2.9h0m-48.1-15.4h0m16.3 28.9h0m11.8 2.9h0m22.4-34.3h0m-9.5-2h0m23.4 24.3h0m-27.8-10.5h0m32.7 12.3h0m-61.3-6.7h0m29.9-6h0m12 16h0m-13-15.2h0m-10.4 5.9h0m-2-11.7h0m42.7 8.2h0m-72.6 1.3h0m23.1-3.1h0m-5.3-2.5h0m-5.1 15.3h0m44.3-6h0m5.3-21.7h0m-64 38.6h0m41.1-22h0m-20.3 22.5h0m26.9-23.7h0m3.4-2.6h0m-23.9-19.7h0m-7.6 38.4h0m4.6-5.9h0m6.5-22.2h0m36.7 15.9h0m-28.2 1.4h0m-28.6 6.3h0m23.4-8.3h0m-3.6-8.4h0m25.2 7.7h0m-15.1-9.5h0m-0.1-2.6h0m6.5-8.8h0m15.6 23.3h0m-24.2 10.6h0m24.4-15.2h0m-44.5 9h0m7.1-8.2h0m20.9 5.9h0m-17.9-1.2h0m42.8 1.1h0m-68.7-7.1h0m3.3 17h0m71.7-9.7h0m-49.5-3.8h0m-1.1 0h0m-4.6 0.7h0m40.8 10h0m-24.8-10.2h0m4.7-1.3h0m9.7 6.4h0m16.3-3.5h0m-49.2-14h0m14.9 10.4h0m-23.3-0.8h0m63.9 13.4h0m-74.1-1.2h0m27.6-28h0m4.8 13.4h0m-27-2.1h0m31.7-13.8h0m6.7 23.9h0m-47.5-1.9h0m49.5 3h0m3.1-20.9h0m-14.3 24.3h0m23.6-38.6h0m-9.1 21.9h0" stroke="#D0404C" stroke-opacity="0.4" stroke-width="1.5" stroke-linecap="square" fill="none"/>
<path d="M395.7 90.7h0m28.9 8.3h0m14.7-2.1h0m-17.9-11.4h0m-1.5 16.1h0m-13.1-4.2h0m7.5-22.4h0m21.1 26.2h0m-25.1 7.2h0m4.4-8.6h0m2.8 4.1h0m-2.2-17.7h0m20-7.1h0m-36 14.6h0m50-1.2h0m-30.7 16.2h0m12-30.8h0m-16.6 2.6h0m-10.6 1h0m17.2 28.2h0m-15.5-24.8h0m12.9 10.9h0m10.2 6h0m-21-7.4h0m13.3-11.8h0m-1.1 9.8h0m18.3-5.8h0m-4.2-8.7h0m-8.1 27.9h0m-11.8-7.5h0m20.7-3.3h0m-2.4 1.6h0m-10 2.8h0m5.5-29.1h0m-7.8 23.4h0m4-18.7h0m-24.7 33.6h0m5.6-12.4h0m2.6 14.4h0m29.6-17.8h0m-6.5-7.5h0m-17.4 4h0m23.4 9.8h0m-8.7-15.6h0m8.1 6.1h0m-2.7-1.9h0m0.2-16.8h0m-8 26.2h0m-8.4-10.9h0m16.4-1.4h0m-23.1 12.7h0m15.1-12.3h0m15.9 1.4h0m0.9 3.3h0m-26.3 10.9h0m3.4-1.3h0m25.8-15.2h0m-21.9 26.8h0m-16.8-10.9h0m17.8-5.3h0m-10.4 5.4h0m-7.6-16.4h0m2.2 13.8h0m-8.7 4.7h0m28.7-9h0m-2-0.6h0m-9.9 5.5h0m-14.9-3.9h0m1.3 19.3h0m15.7-5.1h0m12.1-11.1h0m-38.1-6h0m35.3-3.5h0m-17.2-13.3h0m29.7-11.1h0m-17.4 38.1h0m-21.9-13.5h0m11.4-7.3h0m25.7 17.9h0m-14.5-1.1h0m-23.4 7.3h0m7.3 11.1h0m25.7-31.7h0m-17.3 6.8h0m8.5 11.6h0m-24.5-10.2h0m20.1 1.6h0m-4.1-7h0m23.6 13.6h0m-24.6-8.1h0m15.1 10.4h0m16.7-28.2h0m-14.3 25.5h0m-7.6 0.8h0m-9.8 3h0m21.5-24.3h0m-21.3 18.2h0m-10.1-2.6h0m12.1-4h0m-5.6 9.5h0m8.5-15.8h0m-19 19.2h0m15.1-13.7h0m4.4 8.3h0m-1.5-15.9h0m-1.6 15h0m-10.8-10h0m19.6 15.2h0m-4.4-16.2h0m12.3 10.8h0m-17.6 9.4h0m-10.2-12.5h0m-2.7-10.6h0m4.8 19h0m11.9-6.1h0m-6.1 3.7h0m-1.1-16.6h0m9.9-6.4h0m3.3-5.7h0m-22.5 1.8h0m2.1 7.5h0m14 15.9h0m-3 2.1h0m0.8 4.7h0m23.9-9.6h0m-46.4-5.3h0m13.9-0.7h0m1.1 21h0m24.7-24.5h0m-11.8-10.7h0m0.3 25.9h0m-1.8-3.4h0m5.7-2.7h0m-24.1-7.3h0m13.3-10.2h0m-5.9 14.4h0m-7.2 5.6h0m37.4-4.3h0m-11.4 2.1h0m-11.8 19.4h0m-0.5-26.2h0m20.6 1.8h0m-25.6-2.5h0m31 4.4h0m-31.9 3.6h0m-4.3 9.8h0m22.1 1.3h0m-13.6-1.8h0m8.9-23.9h0m-25.8 29.8h0m-4.9-1.6h0m19.9-21.7h0m-16 14.7h0m28.3-13.2h0m-24.9 25.6h0m30.6-27.3h0m-9 11.6h0m-14 9.9h0m10.3-6h0m11.8 1.2h0m11.6-25.7h0m-9.1 21.7h0m-1.7 3.6h0m-10.3-12.8h0m9.2 2.8h0m-10.3 3.1h0m-1.1 8.8h0m5.5-5.6h0m13.5-6.2h0m-30.2 17.6h0m9.3 0.8h0m11-30.8h0m-0.4 18.1h0m-6-3.3h0m15.1-26.7h0m-34.4 12.5h0m13.7 18.7h0m6.3-14h0m-4.9 15.5h0m12.6-9.2h0m-1.1 6.3h0m-28-8.7h0m14.9 5.3h0m15.1 9.5h0m-8.3-2h0m-24-7.9h0m11.8-3.1h0m24.5-10.4h0m7-16.5h0m-37.8 9h0m26.8 19.9h0m10.6-3.7h0m-14.9 15.1h0m-3.7-9h0m12.5 3.4h0m-2.1-2.5h0m-0.2-11.3h0m-3.6 4.4h0m-4-3.6h0m-3.9-15h0m-14 27.4h0m18.3-16.9h0m-4.8 22.9h0m-1.9-11h0m13.2 8.5h0m-19.5-6.8h0m2.3 2.2h0m13.9 1.6h0m13.2-11h0m-12.6 10.5h0m-19.2-2.8h0m-11.4 17.5h0m13.8-7.1h0m4.6-15.8h0m-2.9 3.8h0m4.2 8h0m-3.9-9.9h0m-11.6 8.4h0m25.4-7.5h0m-15.9-4.4h0m22.9-25.8h0m-13.2 39.3h0m-1.3-6.8h0m-7.3 2.6h0m31.7-19.9h0m-35.1-8.6h0m-10.3 35.2h0m40.8-15.7h0m-20.8 4.3h0m3.5 7.4h0m4.6-13.9h0m-8-8.7h0m26.2-0.7h0m-28.9 21.1h0m20.1 3.4h0m-15-13.4h0m-3.5 19.6h0m-2.3-22.8h0m0.6 0.5h0m4.7-14.4h0m-1.1 25.9h0m23.5-14.1h0m-30.6 15.4h0m13.1-18.9h0m11 13.2h0m-30.1 13.2h0m22.4-13.2h0m7.2 5h0m-10.3-16.1h0m-22.9 0.5h0m16.2 34h0m1-38.6h0m7 23.8h0m4.5-9.1h0m-10.3 7.5h0m-2.9-4.7h0m2-22.3h0m15 21h0m-17.7 4.5h0m24.5-14.5h0m-17.3 6.7h0m-7.6 12.1h0m-17.1 1.1h0m20.6 2h0m-18-15.1h0m10.2 7.8h0m7.6 2.2h0m-24.7 4.1h0m33-9.1h0m-14.3 4h0m1.3-10.2h0m-2.1-6h0m4.7 3.3h0m-4.7 6.1h0m-12.5-9.9h0m31.4-8h0m-17.2 15.8h0m23.5-0.4h0m-31.3-2.4h0m30.5-5.6h0m-6.6 17.2h0m-12.7-7.3h0m3.3 11.3h0m-6.5-31.9h0m5.6 17.5h0m-22.1 3.1h0m17.8-0.6h0m13.8-19.9h0m3.7 35.6h0m-22.3-25.3h0m10.1 10.1h0m-4.3 12.5h0m16.1-14.5h0m-19.3 5h0m-0.6 11.9h0m-6.5-12.9h0m27.5-15.5h0m-21.8 24.5h0m13.4-12.8h0m-18.1 2.3h0m-4.5 11.5h0m23.9-5.6h0m4.1-16.2h0m-17.4 26h0m10.4-20h0m12.2 4.3h0m-6.4 1.1h0m-20.9 4.9h0m10.9-8.8h0m12.7-3.8h0m-23.9 21.7h0m3.9-8.4h0m14.3 2h0m-2.7-2.2h0m2.9-14.9h0m15.6-18.2h0m-21 27.5h0m11.7-3.1h0m-26.3 15h0m17.3-8h0m-1.6-12.6h0m-9.5-12.1h0m17.1 15.4h0m11.7-9h0m-12.9 6.9h0m15 3.5h0m-17.7 16.1h0m-40.1-6.1h0m46.9-7.4h0m2.2-15.5h0m-6.9 9h0m-35.4 14.8h0m32-7.5h0m10.2-23.8h0m-0.8 38.3h0m-47.3-10.8h0m36.5-31.8h0m-22.7 25h0m3.1-2h0m5.6 12.2h0m10.9-8.2h0m-13.9 5.5h0m-18.2 10h0m18.3-27.2h0m13.4-5.4h0m-5.5 24.9h0m19.7-17.2h0m-38.8 24.8h0m36.1-2.9h0m-22-28.1h0m19.3 20.1h0m-19 5.2h0m17.6 0.1h0m-3.8-3.2h0m-2.7-6.5h0m6.4-15.4h0m5.1 7.3h0m-13.6 21.6h0m15.2-1.6h0m-12.3-12.7h0m-7.7 14.4h0m23.3-25.4h0m-32.9 7.5h0m10 11.4h0m-4 6.6h0m19.6-11.6h0m-20 3.3h0m4.4-4.7h0m-0.6 21.6h0m15.6-39.4h0m-6.1 2.2h0m-9.4-5.2h0m2.1 39.7h0m-2.6-10.4h0m7.9-11.9h0" stroke="#3F5A8C" stroke-opacity="0.4" stroke-width="1.5" stroke-linecap="square" fill="none"/>
<path d="M447.3 100.7h0m14.1-20.7h0m-58.8 24.4h0m66.8-13.5h0m-29.9 3h0m13.7-10.4h0m-48.1 15h0m16.6-27.1h0m31.1 9.8h0m-29.3-16.7h0m5.1 30.1h0m2.1-27.2h0m-9.2-13.8h0m8.5 36.8h0m-32-5h0m28.2-12.6h0m10.6 8.3h0m-29.6-3.1h0m-4.6 14.7h0m65.8-3.8h0m-67.5-0.1h0m24.2 12.6h0m-12.1 1h0m33-27.5h0m-28 17.5h0m39.1-14.5h0m-5.5 4.8h0m-32.2-12.3h0m21 32.9h0m-24.5-14.3h0m37.4-13.7h0m-4.5-6.1h0m-9.6 24.7h0m22.1 2.9h0m-12-3.2h0m-50.2 0.6h0m24-8.8h0m-31.4-5.9h0m68.6-0.5h0m-51.5 14.7h0m6.8 3h0m8.1-0.9h0m-4.9-8.7h0m26.7 2.2h0m-33.8 2.2h0m45.2-11.6h0m-32 1.5h0m27 1.5h0m-32.7-2.6h0m-0.3 5.6h0m-21.5 5.5h0m27.8-19.8h0m-2.2 2.1h0m37.1-9h0m-21.2 10.8h0m-17.3-6.4h0m5.5 11.5h0m26.8-8h0m-42.5 7.7h0m50.9-1.8h0m-27.8 2.7h0m-12.2 5.3h0m-11.6 25.4h0m12-57.9h0m48.9 34.5h0m-40.5 13.3h0m15.6-44.6h0m-39.4 9.8h0m13 4h0m-2.8 28.6h0m3.4-25.6h0m26.3 8.2h0m-38.6 9.4h0m-3.3 6.4h0m14.3-43.9h0m14.8 40.9h0m7-7.7h0m-32.6 0.1h0m28.3-8.8h0m-25.5 4.6h0m14 21.7h0m38.9-29.8h0m-56.1 3.3h0m-5.1 5.3h0m11 24.5h0m4.8-5.1h0m21.6-28.4h0m18.3 15h0m-64.8 12.3h0m18.6-28.8h0m38.7 7.7h0m-29.2 13.2h0m1.2-4.6h0m27.3-27.3h0m-6.7 16.6h0m-18 23.8h0m-4.2-5.3h0m7.6-18.2h0m22.5-23.4h0m-18.2 46.8h0m-14.9-12.6h0m-24.1-19.5h0m71.4 10.7h0m-47.1 7h0m5.2-10.7h0m39.2 7.3h0m-21.4 2.8h0m16.1-10.6h0m-21.4 5.3h0m-7.1 2.9h0m26.6 8.3h0m-40.7 6.4h0m-24.3-8.2h0m58-33.1h0m-19.4 18.7h0m7.2-7.3h0m-30.2 13.1h0m1.4 15.8h0m31.8-30h0m-29.8 28h0m-11.8 5.5h0m22.1-24.8h0m36.5 15.1h0m-18.2-9.3h0m-7.8-5.6h0m-20.7 0h0m44.9 5.3h0m-62.2 2.8h0m11.9 26.7h0m15.5-23.3h0m-11.9-3.4h0m8.4 11.5h0m-6.6-28.7h0m-10.1 19.3h0m12.5-12.6h0m17.5 15.9h0m-4.7 3.4h0m43.6-11.2h0m-23.4-25.1h0m-22.6 29.9h0m2.3 3.1h0m-13.4-20.9h0m9.5 9.2h0m0.2-1h0m-23.1 20.7h0m-9.2 5.6h0m70.6-24.9h0m-19.1-2.5h0m-2.7 3.3h0m-5.6-4.9h0m23.9 4.3h0m-11-4.2h0m24.6 2.2h0m-18.9 15.3h0m-58.1-3.8h0m45-5h0m-9.6-3h0m-25.8 12h0m-7-8.2h0m11.2 13.6h0m21.2 6h0m14.7-21.9h0m10.5-1.8h0m15.9 12h0m-51.9 3.9h0m16-19.9h0m1-4h0m-9-3.5h0m-27.5 23.8h0m-9.4-10.3h0m5.5 14.5h0m66.9-13.8h0m-23-5.6h0m-23-3.1h0m-32.6 11.2h0m48.7 0.2h0m-19.8-14.8h0m17.4 13.9h0m3.3-18.4h0m13.9 20.3h0m6.2-8.3h0m11.6 8.8h0m-39.1 15.5h0m17.2-38.2h0m-51.5 25.5h0m34.8-6.7h0m14.2-20h0m-6.7 15.4h0m-20.6 14.7h0m6.3-5h0m6.5-28.5h0m41.2 20.3h0m-52.9 1.7h0m6.5 6.2h0m10.1-2.3h0m-6 6.8h0m-0.4-6.8h0m-12.8 2.7h0m4.7-0.1h0m9.4-27.9h0m22.7 25.4h0m-14.2-11.3h0m-15 10h0m23.6-27.1h0m-41.3 47.4h0m3.2-42.8h0m47.7 18.8h0m-5.8-12.4h0m-29.4 24.1h0m7.9 0h0m15.2-22h0m-17.2 7.1h0m47.1 7.5h0m-37 1.4h0m-4.1-12.9h0m11.6 15.2h0m-22-4.1h0m-17.5 8.3h0m16.9-32.5h0m45.7 14.8h0m-37.2 2.9h0m52.3 5.3h0m-24.6-2.4h0m-48.2 18.5h0m-5.3 0.2h0m22.9-16.1h0m-4.8-4.4h0m-5.6 0.3h0m46.5 5.8h0m-41.8 7.4h0m-21.3-1.6h0m48.9 1h0m0.4-10.7h0m-3.4-7.5h0m-0.6 8.7h0m26.9-3.5h0m-42.1-13.1h0m12.5 5.9h0m-24 30h0m22.6-35.2h0m28.4 8.9h0m-20.8 8.3h0m-13.1 3.2h0m44.5-0.4h0m-84.5 2.2h0m61.2-34.8h0m-9.4 26.9h0m-23.9 18.7h0m37.4-16.2h0m-21.2-1.1h0m-12.2 5.6h0m-5.1-11.3h0m18.6 3.5h0m4.1-11.7h0m-24.2 13.4h0m9.4 1h0m-0.2 14.6h0m3.5-9.5h0m6.7-19.4h0m-21.8 5h0m6.6 30.7h0m15.6-37.9h0m-14.1 13.5h0m8.7-26.1h0m17 29h0m-43.4-8.8h0m19.5 26.1h0m39.2-21.8h0m-21.9 7.6h0m-19.4-6.9h0m-23.3 11.6h0m35.1-15.4h0m-12.8 18.1h0m32.5-3.4h0m-3.5-6.5h0m-11.2-18.4h0m8.4 15.1h0m-9.8 0.9h0m1.8-8.4h0m-31.1 39h0m-1.1-26.4h0m44.2-3.7h0m4 7.3h0m-27.7 9.9h0m36.4-18h0m-18.6-7.5h0m-3.7 10h0m-6.9 1.3h0m-9.3-12.7h0m39.2 6.8h0m-40.6-17.1h0m36 13h0m-73.8 15.9h0m45.5-3.8h0m7.6 0.4h0m-4.8-13.4h0m0.7 15.2h0m-14.2 10.9h0m2-17.4h0m1.5-4.1h0m28.2 5.7h0m-32.9 10.4h0m48.6-19.5h0m-49.6 15.9h0m16.3-19.2h0m-18.1 30.4h0m16.5-8.3h0m-29.7-29.5h0m45.5 9.1h0m-45 10.7h0m8.9-21.5h0m-12.4 49.2h0m17.9-25.5h0m16.3-11.6h0m2.1-18.2h0m-19.7 29.7h0m11 21.9h0m2.2-40.5h0m-2 28.7h0m0.3-38.9h0m-26.5 22.4h0m7.5 7.8h0m8-27.6h0m-4.6 28.2h0m-3.3 11.2h0m11.7 4.6h0m-16.9-1.2h0m8.7-13.7h0m18.5-34.8h0m-0.2 21.2h0m-3.7 11.6h0m-0.7 12h0m22.4-14.5h0m-24.7-18.1h0m20.3 21.4h0m1.6-31.1h0m-30.7 9.3h0m-16 25.2h0m39.4-14.9h0m-29.9 36.3h0m-1.6-7.4h0m25.3-15.6h0m14.5-30.6h0m12.1 23h0m-57.7 9.8h0m60.7-8.5h0m-41.1 4.7h0m38.1-26.8h0m-33 25.7h0m-34.4 17.7h0m29.7-32.5h0m-11.6 9.2h0m7.5-20.3h0m-26 22h0m67.1-4.2h0m1.4-1h0m-30.2 3.3h0m-18.2-16.1h0m44.2 13.4h0m-38.5 13.5h0m-2.3-18.8h0m20.6 5.7h0m-5.4 0.5h0m-7.1 9h0m-10.5-13.2h0m53.4 14.4h0m-26.5-18.8h0m-31.9-1.6h0m51.2 22.8h0m-45.6-3.6h0m1.6-21.7h0m6.8 9.4h0m-7 12.9h0m43.7-5.4h0m-14.3-19h0m-17.6 31.7h0m-18.5 13.8h0m62.8-27.8h0m-45.2 28.2h0m-14.9-11.8h0m33.1-9.9h0m17.5 3h0m-9.6-10.9h0m-53.3 6h0m57.1 2.4h0m-24-26.6h0m-23.8 30.6h0m24.8-12.1h0m-9.6 10.3h0m16.5-23.9h0m10.6 19.5h0m1.9 1.3h0m-44.7 10.4h0m40.8-43.1h0m13 25.4h0m-32.9 25.5h0m-14.1-10h0m10.3-13.7h0m36.4-4.3h0m-48.1-7.7h0m-14.3 29.6h0m47.2-26.9h0m-39.6 17.4h0m13-3.1h0m33.3-20.3h0m-33.1 19.2h0" stroke="#D0404C" stroke-opacity="0.4" stroke-width="1.5" stroke-linecap="square" fill="none"/>
<path d="M424.2 79.6h0m12.2 14.4h0m-31.7 4.1h0m21.8-3.7h0m-4.1 7.5h0m6.7-30.5h0m-28.8 18.1h0m1.8 7.3h0m21.6 9.4h0m-7.6-21.6h0m17.3 12.1h0m-23.7-16.3h0m11.9 0.2h0m0.7 6.9h0m-25.6 22.1h0m35-8.2h0m-4.1-1.1h0m-2.3-1.7h0m-10.3-18.6h0m18.7 17.5h0m-19.8-14.1h0m8.1-16.3h0m16.1 24.6h0m-8.3 4.6h0m-1.5-4.1h0m-1.3-10.4h0m-23.3 9.8h0m20.6-1.6h0m-0.1 7.8h0m5 3.6h0m-3.4-0.6h0m-2.4-1.9h0m0.5-22.2h0m-31.3 23.6h0m24.7 1.3h0m1.5-19.8h0m-6.3 22.5h0m32.1-24.9h0m-17.6 26.5h0m7.6-14.8h0m-20.4 3.2h0m24.6-7.7h0m-33.2 8.2h0m22.4 1.1h0m5.2-0.8h0m9-13.6h0m-30-15.7h0m-9.3 7.8h0m-4.3 25.7h0m7.5 4.2h0m-10.5-11.2h0m42.3 1.8h0m-32.9 1.9h0m19.9-27.1h0m-5.8 35.1h0m-4.1 7.8h0m11.6-12.8h0m-5.4 3.9h0m-20.9-8.3h0m16 7.3h0m-11.2-12.7h0m15-13.1h0m12.7 27.4h0m-34.2-8.7h0m17.3 4.4h0m-5.2-32.3h0m2.8 42.5h0m10.3-34.6h0m-5.6 28.7h0m13.4-7.8h0m-15.7-14.2h0m16.6 7h0m-30.8-12.2h0m-10.1 24.8h0m17.6-17.4h0m-2.3 18.4h0m24.5-13.2h0m6.1 3.1h0m7.5-19.3h0m-12.6 27.7h0m-11.8 1.8h0m19.5-7.8h0m-16.3 4.8h0m-8.8-25.6h0m-3.4 36.7h0m5.9-4h0m12.1-25.3h0m-14 32.1h0m12.5-6.1h0m0.7 0.1h0m-11.4-15.9h0m-1.9 8.4h0m8.1-21.7h0m-21.1 16.6h0m4.8 0.9h0m27.9 6.7h0m-3.3-3.6h0m-4.1-1.9h0m-1.9-4.6h0m7.8-8.2h0m-4.1 11.3h0m-14.1-0.8h0m17.6-19.3h0m-9.2 10.3h0m10.3 15.1h0m-16.5-11.2h0m16 2.4h0m-2.1 5.9h0m-7.2 2.2h0m-4.2 8.9h0m6.8-10.9h0m10.5-1.5h0m-6.6-2.4h0m13.1-11.3h0m-16.4 11.7h0m0.7-11.5h0m-15.8 18.2h0m7.4 5.6h0m-3.1 1.5h0m13-7.1h0m-0.7-4h0m6.5 1.4h0m-37.6-22.5h0m14.7-2.1h0m1.6 20.2h0m-6.3 3.3h0m17.4-11.9h0m-29.9 16h0m10.7 2.4h0m7.4 2.9h0m10.6-24.3h0m-12.8-0.7h0m-2.7 17.6h0m15.6-1.1h0m24.9-20.5h0m-36.2 26h0m13.2-0.9h0m-7.9-8.8h0m0.8 9.8h0m1.7-10.8h0m-3.6 5.8h0m12.7-11.6h0m-27.8 21h0m28.5-9h0m-29.1 9.4h0m12.5-21.3h0m24.9 6.9h0m-9.4-19.3h0m-33 2.1h0m27.2 13.3h0m16.7 4.3h0m-19.7 9.5h0m1.6-14.8h0m-5.7 8.1h0m9.7-33.7h0m1.7 33h0m-6.6 2.2h0m3.7-4.9h0m-26-6.9h0m34-11h0m-28.2 11.8h0m24.4 16.2h0m-9.3-4h0m20.8-8.1h0m-15.6-9.8h0m1.9 20.3h0m2.5 1.4h0m6.4-10.9h0m-22.5 2h0m7.1-21.7h0m-10.1 10.9h0m-10.7 0.9h0m16.7 11.5h0m8.1-0.4h0m-16.1-13.5h0m-13.4 6.4h0m28.3 6.4h0m11.7-16.2h0m-21.2 25.4h0m29.4-8.2h0m-0.6-21.1h0m-7.5 17.2h0m3.6-10.6h0m-20 31.5h0m-4.6-16.1h0m27.5-14.4h0m-31.7 6.1h0m13.6 12.6h0m2.1-13.7h0m17.6-0.8h0m-27.3 10.6h0m23.7-11.1h0m-14.8 13.4h0m3.3 7.3h0m-0.4 3.4h0m-8.2-12.2h0m-5.5 3h0m6.8-6.3h0m25.4-4.7h0m-37.3-0.4h0m36.9-18.9h0m-18.5 33.6h0m-2.1-10.2h0m-5.2 10h0m-20.2-21.8h0m6.2 1.8h0m13.8 12.7h0m-0.7-4.5h0m-5.1-1.4h0m-2.8-1.8h0m23.6-23.7h0m-19.6 32.3h0m0.9-12.8h0m14.3 8h0m-20.9-3.4h0m-11.1 0.9h0m13 3.5h0m16.6 5.9h0m-8.1-2.2h0m-15.6-19.4h0m1.7 13.2h0m11.6-6.9h0m-11-8.5h0m3.9 20.2h0m6.8-14h0m-4.8 6.7h0m12.4-15.9h0m-14.7 0h0m-3.5 20.4h0m1.6 12.1h0m-2.2-6.1h0m2.4-20.6h0m25.8 18.9h0m-3.9-21.4h0m-8.5 21.9h0m-8.1-3.5h0m-5.5-2.7h0m24 0.1h0m3-14.9h0m-1.6 11.8h0m-16.6 12.1h0m-6.1-5.4h0m11.4 5.4h0m5.2-7.8h0m-13.7 0.4h0m2.9-26.6h0m19.4 24.9h0m-36.2 23.4h0m21.3-25.8h0m-6.5-10.5h0m10.5 14.2h0m-12.3 12.1h0m19.4-12.7h0m-19.8-21.7h0m4.9 29.6h0m17.1-7.8h0m9.5-5.6h0m-19.5 13.4h0m25.3-23.6h0m-28.3 12.2h0m12.8 10.5h0m-0.1-23.7h0m-17.1 27.5h0m16.6-4.6h0m-7.3-4.3h0m-14.2-16.6h0m14.5 25.1h0m8-2.3h0m-3.5 0.6h0m-19.7 8.5h0m-0.3-24.2h0m-1.9-2.4h0m-7.9 13.4h0m7.8 10.1h0m12.1-24.2h0m8.3 14.5h0m-38 6.8h0m38.2-21.4h0m0.8 16.6h0m-9.6-5.9h0m10.1 1.2h0m-18.9-1.3h0m4.4 7.8h0m-17.2 2.4h0m16.9-4.7h0m12.9-3.4h0m-17.5-13.5h0m2.3-5.3h0m0.6 36h0m1.6-15.8h0m-1.4-20.9h0m19.7 8.5h0m13.1-12.6h0m-14.1 21.6h0m-8.7-3.4h0m-0.7 1.1h0m11.4-3.6h0m-14.1-10.6h0m3.6 17.4h0m7.7-10.1h0m-31.8 29h0m32.6-17.9h0m-9.1-0.5h0m-7.5-27.7h0m26.1 22h0m-50.3 8.9h0m16.8-12.7h0m21.8 19.9h0m-7.9-22.6h0m11.4-10.6h0m-12.7 5.2h0m-5.1 23.6h0m16.7-17.4h0m-16.4-7h0m26.2-6.9h0m-49.4 36.2h0m22.4 1.2h0m4.9-12.7h0m-11.7-0.6h0m10.9-5.8h0m-13.6 9.1h0m14.2 10.3h0m3-24.3h0m-23.6 4.2h0m34.5 3.1h0m-11.6 1.5h0m18.9-17h0m1.2 9.3h0m-21.7 23.3h0m-11.8-13.7h0m9.8 2h0m-1.7 0.2h0m8.4-0.9h0m0.7-16.1h0m8.6 20.8h0m-11.3-4.1h0m-7.1-2.7h0m-7.9 10.6h0m24.4-25.1h0m-15.7 18.1h0m3.2-20.2h0m-11.2 6.5h0m28.2 24.5h0m1.8-13.1h0m-34.3 0h0m16.7 6.5h0m-0.8-0.9h0m3.7 4.2h0m-7.4-27.2h0m19.4 10.2h0m10.5-17.3h0m-23.6 27h0m-2.2-10.6h0m8.8 18.1h0m-12.1-25.7h0m8.7 21.8h0m-7.1-0.4h0m11.6 0h0m6.6-3h0m-13.1 2h0m-0.4 7.7h0m-25.1 2.4h0m7.5-12.4h0m11.7-1.5h0m-10-14.5h0m-17.4 22.5h0m25.9-6.6h0m14-32.5h0m-28.5 38.4h0m19.9-19.6h0m-2.4-5.3h0m11.2 16.4h0m-2.1-7.5h0m-17.1-7.9h0m33.5-5.1h0" stroke="#3F5A8C" stroke-opacity="0.4" stroke-width="1.5" stroke-linecap="square" fill="none"/>
<path d="M440.1 74.8h0m-30.9 10.8h0m19.8-4.9h0m29.7-14.2h0m-43 6.3h0m7.9 24.9h0m33.1-1.6h0m-30.7 0.5h0m5.6-30.1h0m27.1 14.8h0m0.7 0.1h0m-52.3 16.5h0m18.5-44.4h0m27.4 23.6h0m-5.6 15.6h0m-28.7-2.7h0m-1.3 10.5h0m-16.9 1.6h0m56.2-16.4h0m-39.4 22.5h0m26.9-33.1h0m-22.3 9.5h0m17.5 4.1h0m12.4-4.2h0m-53.5 6.7h0m32.8 7.2h0m-6.2-17h0m-13.1 32.2h0m18.1-42.4h0m-4.4 1.6h0m15.7 2.6h0m6.1-10.3h0m-49.1 11.3h0m10 10.2h0m1.8 8.6h0m31.9-37.1h0m14.3 31.8h0m-49-19h0m8.1 16.3h0m16.4-18.4h0m-38 41.6h0m31.3-31.4h0m6.6-24.1h0m-14.1 4.3h0m10 35.7h0m-36.7 11.3h0m35.1-7.6h0m4.4-26h0m-22.4 36.5h0m11.8-27.4h0m-13.6 4h0m10.8 2.3h0m35.9-9.5h0m-27.5-2.6h0m26.7 6.7h0m7.5 1.1h0m-70.2 15h0m13.7-3h0m37.3-4.8h0m-10.6-6.6h0m28.5 0.2h0m-17.2-13.9h0m3.1-8.8h0m-27.2 26.3h0m14.4-8.9h0m-9.7-1.1h0m37.2-1.5h0m-25.6-2.1h0m-1.5 28.9h0m10.2-32.7h0m-39.3 37h0m20.2-21.4h0m-10.2 7.2h0m30.5-16.8h0m9.9 5.7h0m-56.9 17.6h0m21-28.8h0m-1.7 12.9h0m25.4-8.2h0m-5.6-4.2h0m-35.9 3.1h0m18.7 12.4h0m18.2 5.5h0m-24.5-9.2h0m37.7 5.3h0m-59.2 4h0m75.2-11.3h0m-10.5 2.8h0m-38.8-16.8h0m18.8 17.6h0m22-1.6h0m-38.6-4.1h0m15.2 9.9h0m-21.6 15.6h0m41-24h0m12.5-1.4h0m-25.6-6.3h0m17.8 7.3h0m-24.1 6.6h0m8.4-5.1h0m-41.2-8.3h0m35.2 6.2h0m23.5-0.6h0m-40.6 7.3h0m36.6-1.9h0m-26.2 3.7h0m-18.8 8h0m16.3-8.8h0m-9.7-21.5h0m34.6 5.2h0m-23.2 2.7h0m-31.5 16h0m42.6-16.4h0m30.1 0.9h0m-28.8-2.5h0m-31.8 8.3h0m-21 6h0m19.1 1.9h0m60.3-3.3h0m-64.1 10.3h0m17.4-19.9h0m16.5-12.6h0m-22.7 48.5h0m-1.9-36.6h0m16.6 3.4h0m9.7 16.8h0m15.2-8.9h0m-56.1-5.1h0m3.9-2.1h0m27.4-21.5h0m3.1 26.1h0m-15 25.3h0m50.2-35.8h0m1.9 18.5h0m-60.7 12.2h0m15.1-27.3h0m7.1-3.9h0m14.5 6.9h0m-22.2-18.3h0m31.3 31.1h0m-27.6-20.5h0m-43.5 19.9h0m35.6-11.1h0m11.1 5.7h0m33.3-8.5h0m-43.1 18h0m-21.8-13.1h0m18.8-25.5h0m-4.2 41.1h0m-14.1-13.3h0m59.9 4.6h0m-41.9 10.1h0m-7.9-7.3h0m-3.7-1.7h0m8.9 10.3h0m42.7-10.3h0m-52.6-11.9h0m8.9 25.2h0m25.2-6.7h0m35.2-12.1h0m-66-10.7h0m28.7 9.3h0m27 1.5h0m-24.3-12.9h0m22.5 8.8h0m-53.1 6.9h0m30-25.3h0m-15.3 24.4h0m-28.7-9.4h0m22.3 18.9h0m42.4-25.5h0m-32.6 0.1h0m5.6 11.3h0m33.4 5.4h0m-53.1 6.7h0m47.1-18.9h0m9 4.8h0m-26.7 6.9h0m-30.3 8.9h0m21.9-33h0m0.4 36.4h0m-30.3-1h0m17-20.6h0m2.1 4h0m18.2-9.3h0m22.1 16.4h0m-44.4-4.7h0m-18.6 0.9h0m-7 9.9h0m28.8 3.5h0m0.6-10.9h0m-0.7-8.5h0m11.7-16.1h0m-10.2 22.8h0m22.4-7h0m-26.1 12.3h0m43.7-1.6h0m-51-6.8h0m45.2 9.3h0m-18.5 3.3h0m12.4-17.4h0m-11.1-4h0m-5 22.8h0m4.7-33.1h0m-17 18.1h0m32.3-16.8h0m-27.5 25.4h0m-0.6 3h0m15.9-27.8h0m-39.5 28h0m35.9-12h0m6.5-1.7h0m-12.1 3.2h0m-21.1 19.5h0m-24.3-1.6h0m51.3-26.6h0m-9.8 2h0m-32-11h0m40.2-0.7h0m-10.8 29.7h0m2.8 3.1h0m-24-14h0m23.9-16h0m-29.6 12.2h0m-0.1 13.1h0m43.7-36.6h0m-35.8 24.1h0m21.9 5.5h0m5.3 2.8h0m23.1-6.5h0m-38.4-3.2h0m27.7 3.7h0m-29.7-2.2h0m47-0.4h0m-8.6 10.1h0m-67.9 9.1h0m22-8.5h0m30.7-3.9h0m-43.6 18.3h0m17.1 4h0m45.2-32.9h0m-18.3 15.6h0m-39.1-23.1h0m22.9 34.6h0m-5.7-7.4h0m-2.8-19h0m45.6 5.7h0m-53.6 9.1h0m17.8-21.1h0m13.2-0.4h0m-32.8 35.5h0m58.7-25.1h0m-0.5-1.3h0m-46.6-5h0m1.3 39.6h0m4.8-31.5h0m18 12.6h0m-6.6 6h0m-21.6-7.8h0m56.2-6.5h0m-46.9-13.8h0m-9-4.7h0m-5.2-3.9h0m-0.3 35h0m13.2-14.8h0m-0.8-4.8h0m-26.3 11.9h0m39.5-5.7h0m-30 18.7h0m3.8 0h0m50.9-25.5h0m-43.1 13.2h0m9.2-3.7h0m11.3 10.5h0m3.7-2.4h0m-13.1-27.7h0m-11.5 18.5h0m7.8-19.2h0m-5.8 11.8h0m-24.3-6.7h0m36.4-9.2h0m26.4 12.3h0m0.8-0.3h0m-14.1 15.6h0m-53.4 4.9h0m81.5-8.7h0m-49.4 16.3h0m-11.6-2.6h0m10.8-15.8h0m-0.8 5.6h0m13.7-4.5h0m-5.8-20.8h0m-15.1 16.7h0m-3.2 14.9h0m27.9-17.6h0m18.7 8.9h0m-35.7 1.4h0m19.7-9.8h0m9.5 7.7h0m-30.6-12.1h0m8 13.5h0m-27.5-0.8h0m15.8-2h0m23.1-8.9h0m-31.2 9.8h0m17.3 17.6h0m-6.1-18.6h0m7.7-12h0m30.4 0.3h0m3.2-2.4h0m-49.6 27.5h0m10.1-14.4h0m15.4-19.4h0m12.9 32.2h0m11-23.2h0m-58.1 7.9h0m35.7 11.1h0m-8.8-3.1h0m-10.2-21.7h0m-12 36h0m51.3-33.8h0m-51.3 19.6h0m-1.3 11.2h0m-5.4-23h0m24 4.1h0m-11.2 18.2h0m15.7-4.1h0m13.6-23h0m-8.2 15.2h0m34.3-2h0m-59.2-19.9h0m27.4-2.9h0m-12.4 7.4h0m-9.4 10.3h0m15.3 6.4h0m-2.9-14.1h0m-3.8-19.1h0m-26.6 27.5h0m76.6-4.5h0m-53.1 16.8h0m12.1 3.6h0m-0.8-19.3h0m19.1 3.5h0m12.3-2.5h0m-34.3-2.1h0m7.5 25.9h0m-21.9-21h0m1.8-19.4h0m12.8 28.8h0m26.8-1.6h0m-40.8 9.7h0m-31.6-3.6h0m87.3-14.1h0m-62.2 24.3h0m-22-8.9h0m47.1-6.9h0m-22.3-18.1h0m4 4.4h0m-27.7 23.4h0m28.1-19.8h0m29.4 2.9h0m-52.5 3.3h0m67.8-1.8h0m-6-11.7h0m-1.1 7.9h0m7.4-9.7h0m-45.6 18.3h0m8 7.3h0m-8-4.5h0m34.1-0.3h0m-43.5-17h0m34-1.6h0m-51.5 15.7h0m21.7 18.8h0m24.7-37.8h0m-17.7 6.7h0m-12.9 35.3h0m46.6-45.5h0m15.4 23.1h0m-7.7-21.6h0m-44.9 2.8h0m43.2 12.8h0m-11.7 2.1h0m8.8-4.9h0m-19.3 5.8h0m11.2-3.2h0m-10.1-0.6h0m-37.7 0.1h0m33-5.2h0m-18.4 26.9h0m7-16.9h0m-4 5.1h0m18.1-4.1h0m-4.5 4.1h0m-30.1-8.3h0m25.1-13.7h0m-3.4-14.8h0m-11.1 32.6h0m13.7-6.7h0m17.8-20.2h0m18.3 18.4h0m2.7 1.9h0m-44.3 10.5h0m-6.1-15.8h0m0.7-12.3h0m32 23.5h0" stroke="#D0404C" stroke-opacity="0.4" stroke-width="1.5" stroke-linecap="square" fill="none"/>
<path d="M436.2 86.7h0m-27.8 10.4h0m23.4-2.5h0m-16.2 9.1h0m13.7-16.7h0m-33 8.7h0m33.2 4.4h0m-20.7 2.5h0m-9.5-9.6h0m1.4 14.9h0m45.1-25.9h0m-12.9 17.5h0m-21-11.9h0m-0.7-1.5h0m22.8-16.8h0m-11.7 36.9h0m10.3-24.3h0m-14.6 20.9h0m0.4 4.6h0m-0.3 2.2h0m1 6.4h0m-20.8-14.3h0m30.9-9.5h0m3.2-3.2h0m12.7 7.4h0m-8.5-28.3h0m-26.4 36.9h0m23.1-8.9h0m-25.2-2.2h0m28.9-3.3h0m-13.3 14.9h0m6.1-11.3h0m-25.6 16.9h0m-4.7-8.5h0m47.7-11.6h0m-31.1 14.8h0m23.6-7.2h0m-10.3-10.5h0m-5.9 10.7h0m4.3-21.2h0m-25.6 8.6h0m0 15.7h0m23.2 3.2h0m6.8-17.6h0m-22.6-3.2h0m24.5 12.5h0m-19 1h0m1.4-4.5h0m9.7-11.9h0m-10.6 24.4h0m3.9-8.8h0m20-8.6h0m-24.5 3.6h0m12.5 8.6h0m-19.5 2.8h0m20.5 0.8h0m-25.8-4.4h0m15.5-0.8h0m-7.4-17.9h0m0.5-3.1h0m14.5 8.6h0m4.9-19.5h0m-17.1 18.4h0m6.4-0.5h0m-8.6 20.5h0m22.7-8.1h0m-10.1 17.8h0m15-29.3h0m-16.2 7.1h0m7.8 3.6h0m-8.6-9.4h0m-4 5.3h0m-6.8 10.4h0m12.2 9h0m14.8-18.1h0m-14.8-10.6h0m-2.3 15.1h0m12.8-2.8h0m-14.6-19.7h0m24.6 15.3h0m-33.8 12.7h0m32.4-22.2h0m-20.3 5.9h0m-9.6 11.5h0m1-9.5h0m9.5 9.5h0m15.5-11.7h0m-26.1 16h0m14.1-27.5h0m-0.6 19.5h0m-20.3 3.6h0m15.2-14.5h0m7 10.2h0m-3.9 9.6h0m17.8-13.2h0m4.2-19.6h0m-10.5 12.9h0m3 12.6h0m-18.2-9.8h0m-4.9 22.2h0m21.1-6.6h0m-26.3-16.4h0m7.8 15.9h0m-19.3 0.9h0m48.5-13.5h0m-7.9-9.3h0m-18.5 2h0m-3.3 23.2h0m10.7-16.2h0m1.5 5.6h0m-25.2-11.2h0m10.7-11.2h0m2.1-5.1h0m8.4 30.5h0m17.5-17.6h0m-11.4 16.9h0m-3.5 8.4h0m-23.1-17.2h0m10.8 15.8h0m9.5-19.4h0m12.6 6.7h0m-12.6 9h0m13.1-26.1h0m-5.8 21.4h0m-29.6 1.6h0m-8.4 1h0m24.9-6.5h0m4.8 2.1h0m-14 13.3h0m12.8 1h0m6.1-13.6h0m3.5-2.8h0m-12.5-7h0m-12.3 5.5h0m2.6 16.3h0m18.4-7h0m-4.5 0.1h0m-15.6 3.1h0m16.6-22.6h0m-3.3 18.4h0m-15.8-7.9h0m11.5 7.8h0m10.9-8.5h0m4 12.3h0m-24.7-8h0m7.4 9.1h0m3.4-14.8h0m-5 14.8h0m0.2-2.7h0m24.9-5.8h0m1.6-6.5h0m-29.2 7.8h0m2.8 11.7h0m16.8-8.5h0m2.1-19.3h0m-3.1 14.4h0m13-26.1h0m-16.9 34.6h0m-4.3-4.4h0m-29.3 2.9h0m14.1 3.3h0m29.1-11.4h0m4.8-11.9h0m-30.3 0.7h0m-6.8 19.1h0m-1.3-12.6h0m28.6 4h0m14.9 3.7h0m-20.1-22.4h0m-10.3-1.4h0m20.4-1.3h0m-33.1 35.1h0m12.6-9.5h0m14 1.7h0m-16.5-13.5h0m-5.3 2.1h0m19.2-3.4h0m-16.9 7.8h0m9.4 3.9h0m5.3-7.8h0m-9.5 11.7h0m10.1-20.7h0m-6.4 1.1h0m3.3 22.1h0m18.1-3.5h0m-20.8 5.1h0m0.5-7.1h0m3.4 1.7h0m-8.7 3.8h0m7.2-17.9h0m-6.1-16.7h0m5.4 20.1h0m-2.2 13.6h0m10.5-8.9h0m3.6 13.1h0m-34.9-5h0m25.9-4.8h0m12.2 3.3h0m-29.1-23.3h0m14.7-0.2h0m0.9 18.2h0m-21.3-7.2h0m25.7 12.3h0m1.3-4.5h0m8.3-9.1h0m-16.5 8.7h0m11.9-12.5h0m-18.9 18.1h0m1-3.6h0m-5.9 8.3h0m-0.2-13.3h0m3.6 6.1h0m4.4-15.4h0m25.3 12h0m-0.5-1.1h0m-23.4 11h0m-0.8-7.4h0m21.7-1.6h0m-14.1-15.8h0m-2.3 6.9h0m-27.2 4.1h0m27.4-9.6h0m5.6 7.7h0m6.6 10.2h0m9.1-11.6h0m-24.6 8.1h0m2.7-0.8h0m10.6 12.8h0m-9.9-2.5h0m8-20.9h0m-11.8 25h0m-2.4-2.5h0m-14.7-3.7h0m36.5-17.1h0m-20.7-17.3h0m7.1 22.8h0m11.3 5.8h0m-40.6 8.5h0m6.5-3.5h0m24.7-9.4h0m20-25.6h0m-48 18.6h0m6.1 8h0m32.3 8.4h0m-18.4-10.4h0m12.2-22.7h0m-1 30.7h0m-20.8-4.1h0m16.9-14h0m-4.8 9.4h0m-14.1 3.6h0m6-23.5h0m13.7 28.5h0m1.9-5.5h0m-4.6 1h0m1.4 13.5h0m1.8-2.7h0m8.3-29h0m-14.9 28h0m-7.6-17.9h0m26.7-19.5h0m-15.5 12.3h0m11.3-1.3h0m-13.4 16.4h0m-5.5 1.3h0m1-4h0m8.6 6.5h0m-2.1-1.4h0m8.4-6.9h0m-32.9-7.2h0m21.9 18.3h0m11.6-19.4h0m-27.7 17.6h0m-6.8-9.1h0m22.5 0.2h0m22 7.4h0m-12-4h0m-6.7-5.2h0m-26.7 24h0m15.1-42.6h0m36 21.4h0m-9.9 14.1h0m-17.8-40.4h0m-3.5 32.7h0m3.5-7.2h0m5-10.5h0m7.7 14.5h0m-19 6.3h0m8-3.3h0m-10.7-17.5h0m-12.7 34.3h0m31.8-30.1h0m-21.7 17.1h0m26.4-3.9h0m-6.6-25.6h0m16.1 3.3h0m-28 23.1h0m22.6-5.8h0m-31.2-19.5h0m10.2 31.7h0m14.3-12.1h0m2.6-0.5h0m-17 7.3h0m-10.4 2h0m14.1 4.7h0m-7.7-9.6h0m3-13.6h0m-2.6 6.3h0m18.8 11.6h0m-12.3-14.1h0m6.5-7.2h0m-9.3 28.1h0m2.5-27.4h0m-13.3 14.7h0m-10.9 5.3h0m41.1-13.3h0m-2.4 2.8h0m8.7 0.2h0m-4.5-4h0m-8-4.3h0m-21.1 3h0m29.7-5.7h0m-42.6 27h0m22.8 9.3h0m6.6-34.5h0m1.4 12.7h0m-0.5 5.6h0m-4.5-0.1h0m-6.8 12.2h0m-10-14.5h0m38.8-20.6h0m-27.2 0.9h0m4 6h0m-3.3 14.2h0m-10.5 1.5h0m4.1 0.2h0m12.8-3.1h0m-4.5 6.7h0m-1.5-18.3h0m11.5 13.8h0m-13.6 4.3h0m26.2-13.3h0m-11.1 1.5h0m-4.4 18.3h0m-10.7-4.2h0m15.9-5.3h0m-12 0.7h0m-12.2-27.2h0m24.3 29.5h0m-38.7-5.8h0m26.6 11.1h0m13.2-34.8h0m-15 30.6h0m26-20.1h0m-35.6-10.7h0m26.1 3.4h0m-12 9.4h0m4.9 15.5h0m7.4-1.9h0m-31.7 0.9h0m25.4 10.1h0m-7.1-15.8h0m-23.3-5.1h0m26.5-0.8h0m-5.4 9.6h0m6.6 4.6h0m-2.3-1.1h0m-8.8 5.8h0m7.1 4.9h0m6.4-19h0m9.6-15.3h0m-33.3 12.2h0m27.6 2.7h0m-34.2 8.9h0m25.2-7.4h0" stroke="#3F5A8C" stroke-opacity="0.4" stroke-width="1.5" stroke-linecap="square" fill="none"/>
<path d="M420.8 105.1h0m-15-11.7h0m-10.5 4h0m76.4-21.9h0m-52.1-6.2h0m17.7 31.1h0m-1.1-14.9h0m-8.1-27.9h0m37 23.8h0m-38.7 19.1h0m-2.1-9.2h0m45.3-9.7h0m-52.6 18.2h0m28.6-17.1h0m-28.3 21.5h0m12.2-36.6h0m10.3 24.4h0m-28.5 4.9h0m32.7-12.9h0m-22.4-6.5h0m-14 31.5h0m-2.9-13.6h0m22.2-15.9h0m-8 3.5h0m24.8 0.2h0m-29.5 11.6h0m7.8-9.6h0m-1.4 6.7h0m-14.8 12.2h0m24.5-20h0m-31.4 2.6h0m22-7.6h0m6.5 4.9h0m-28.1-2.7h0m37.7-17.1h0m-7.3 37.4h0m5.8-5.3h0m-7.6-8.7h0m14.8-13.1h0m1.4-6.2h0m1.5 4.5h0m25.6 2.7h0m-61.4-1.2h0m24.1 16.4h0m-23.7 2.2h0m35.2-29.2h0m-38.5 27.5h0m28.9 4h0m-34.7-8.3h0m10.2-2.8h0m13.5 17.7h0m9.4-37.8h0m1 7.5h0m1 1.8h0m10.7 21.2h0m-11.9-17.5h0m-23 14.8h0m22.6-15.5h0m-19.9 10.4h0m-8.5-13.4h0m-19.4 18.3h0m12.1-0.3h0m57.3 0.4h0m-30.6-10h0m-15.3 10.4h0m24.8-40.1h0m-2.8 36.6h0m5.6-2.9h0m-21.5-6.2h0m19-9.2h0m3.3 8.3h0m-19.6-5.5h0m4.7-7.3h0m-23.6 24.1h0m54.3-7h0m-16 14.4h0m-20.8 3h0m22.9-16.4h0m-14.8 5h0m-6.5 6.5h0m39.2-16.1h0m-61.6 27.4h0m69.1-19.5h0m-42.3-14.7h0m-7.2 32.1h0m26-21.2h0m-4.8-2h0m0.3 9.5h0m32.5-10.4h0m-13.7 10.9h0m-5.5-8.6h0m-0.8 10.7h0m-39.2-5.9h0m21.6 7.3h0m1.3-15h0m23.6-13.6h0m-38.7 9.1h0m-9.2 12.6h0m-12.1-11.7h0m31.2 27.1h0m-7.3-41.5h0m38.7 27.4h0m-3-3.3h0m-25.5 1.7h0m-18-7.7h0m-1.9 3.8h0m5.7-4.1h0m36.7 16h0m-32.2 4.9h0m-15.9-26.9h0m-14.1 15h0m0.7-2.1h0m15.8 4.6h0m4.9 1.1h0m-4.8 3.9h0m31.6-16.2h0m-9.4-2.9h0m17.2-0.6h0m-17.4-4h0m-14.5 25.3h0m-5.7-21.8h0m6.4 2.8h0m-10.4 13.3h0m55.1-18h0m-20.7-7.1h0m-9.2 23.5h0m11.3-20.4h0m16.5 15.6h0m-22-18.7h0m-24.4 4.5h0m19.4-4.2h0m-3.6 28h0m3-11h0m-5.1 7.5h0m5.3-5.7h0m-26.6-14h0m56.9 10.6h0m-39.1-12.6h0m-10.3 20h0m16.3 5h0m-22.5 9.3h0m33.1-27.3h0m-14.3 17.1h0m-15.7-3.5h0m7-15.1h0m-6.7 2.2h0m2.2 19.3h0m57.5-7.7h0m-44.1-3h0m-18.2 5.6h0m2.2-12.5h0m14.3 2.2h0m22.9 2.8h0m13.4 3.4h0m-55.8 9.2h0m60.7-20h0m-45.2 24h0m-11.5-32.2h0m33.4 20.7h0m-51.6-14.8h0m52.1-16.5h0m-9.2 29.5h0m-3.8 6h0m22.3-27h0m24.3 17h0m-47.5 0.8h0m-19.6-10.5h0m15.1-3.3h0m12.1 6.9h0m-15.7-0.3h0m34.4-16.7h0m-0.1 20.4h0m-32.7-0.4h0m49.3 12.1h0m-55.2 20.2h0m25.3-44.1h0m10.1 14.6h0m7-13.2h0m-38.6 29.9h0m15.7-21.7h0m-0.8-16.3h0m-45.9 26.5h0m77.5-14.2h0m-81.7 18.8h0m66-15.6h0m-34.6 7.9h0m3.1 14h0m-10.6-36.2h0m36.6 3h0m-4.7 0.9h0m-2.1 27.9h0m-15.2-21.9h0m-3.9 3.5h0m47.3 8.5h0m-3.2-3.3h0m-26.8-23.2h0m-17 1h0m16.7 15.9h0m-4.2-2.8h0m10.7 22.1h0m-48.6-3.1h0m10.3-8.3h0m52.5 3.2h0m-61.2 22.8h0m61.9-13.4h0m-0.3-31.2h0m-50.7 15.1h0m7.3 9.4h0m35.9-4.5h0m-18.5-4.8h0m35 4.8h0m-33 3.6h0m-21.1-10.4h0m-2.1 2.2h0m11.3 4.6h0m2.9-10.5h0m17.5 23.2h0m0.9-10.3h0m-23.3-1.6h0m-16.5-10h0m24.8 5.5h0m30.1 0.6h0m-20.4 15.4h0m-11.4 13.8h0m30.4-34.5h0m14.3 0h0m-50.7 22.8h0m9.6-37.3h0m-3.5 24.6h0m5.2 9.4h0m-15.6-27.1h0m-6.9-1.3h0m18.4 2h0m13-3.6h0m8.6 9.1h0m-37.7 18.5h0m-5.4-24.8h0m-1.6 27.2h0m19.7-27.3h0m37.3 16.4h0m-54.4-14.8h0m-4.8 7.9h0m-3.2 4.1h0m22.1-5.2h0m9.6-1.8h0m6.9 28.8h0m24.1-31.4h0m-24.6 10.7h0m25.3-1.1h0m-43.1-8.3h0m20.9-8.2h0m2.6 23.4h0m-15.3-11.2h0m-3.3-6.4h0m-18.2-3.2h0m22.2-1.5h0m5 12.5h0m-19.7-17h0m43.6 20h0m-40.9 11.7h0m5-10.4h0m36.9-15.7h0m2 18.5h0m-26.5 9.9h0m11.1-23.2h0m-9.3 2.8h0m-31.6 3.4h0m40-5.6h0m-27.7 28h0m12.9-19.5h0m-15.6-4.2h0m-10 5.6h0m29.5-17.1h0m-21.2 33.2h0m2.9-22h0m17.2-3.3h0m-13-3h0m16 36.9h0m16.3-18.7h0m-56.9 11.2h0m24.7-42.6h0m6 11h0m19.7-7.2h0m-42.4 39.8h0m17.9-39.6h0m-0.3 22.8h0m42.6-8.8h0m-50.2 1.8h0m-20.7 16.3h0m45.1-14.8h0m3.8 11h0m-44.8 9.9h0m27.2-0.9h0m1.1-19.7h0m13.8 7.4h0m-21.3 3.4h0m16.4 4.3h0m0.2-0.5h0m-2.7 7h0m16.8-23.1h0m-42.6-6.2h0m37-15.5h0m-39.4 37.3h0m22.8 18.6h0m-25.8-1.3h0m2.9-24.8h0m1.6 12.7h0m22.8 11h0m20.3-29.2h0m-20 0.8h0m8.4 13.8h0m-17.9-4.9h0m17.1 1.7h0m-8.8-31.4h0m17.9 15.9h0m-39.5 27.1h0m22.1-0.7h0m0.9-22.5h0m-15.6 7.2h0m45.4 6.5h0m-55.2-21.1h0m28.8 16.8h0m6.6-14.6h0m-16.3-13.5h0m21.9 30.1h0m11.5-12.9h0m-8.5-25.9h0m-26.6 46.1h0m44.5-11.1h0m-51.7-0.1h0m2.6 15.4h0m55.1-11.8h0m-43.9-2.9h0m-12.6-1h0m-2 5.9h0m-12.2-6.7h0m53.6-11.9h0m-19.9 2.3h0m-1.5 5.4h0m30.3-2.2h0m-25.2-8.5h0m-32.6 3h0m37.9 16.3h0m-43.3 10.2h0m10.7-29.4h0m37.1 16.1h0m-5.5 15.9h0m9.7-35h0m-36.6 16h0m36.5-6.7h0m-3.6-4.3h0m-14-17.4h0m17.9 20.6h0m-42 17.7h0m-11.2-2h0m34.4-8h0m3.5-25.3h0m16 32.4h0m24.7-5.5h0m-80.4 2.6h0m5.9-15.2h0m31 20.9h0m7.1-26h0m-36.8 27.9h0m37.6 4.9h0m9.5-10.7h0m-34.9-6.9h0m16.7-19.9h0m11 8.5h0m-17.8 22.4h0m36.2-17.2h0m-52.1 11.1h0m-0.7 11.7h0m9.6-2.8h0m-2.8 13h0m11-26.1h0m-4 9.5h0m-37.4-5.9h0m18.8-16.3h0m21.2 5.3h0m-27.9-0.4h0m5.6-7.5h0m19 5.2h0m4.6-10.9h0m-5.4 16.3h0m-19 28.5h0m17.4-44.1h0m-9.7 37.5h0m-7.7-30.2h0m41.5-8.5h0m-27.1 36.3h0m8.5-23.5h0m-8.6 2.4h0m36.1-3.1h0m-17.6 3.9h0m-21.9 13.5h0m-12.3-6.7h0m20.3-19.1h0m3.6 7.1h0m18.4 12h0m-4.8-7.1h0m-17-12h0m0.7 21.4h0m1.7 1.6h0m41.2-0.4h0m-31.2-4.8h0" stroke="#D0404C" stroke-opacity="0.4" stroke-width="1.5" stroke-linecap="square" fill="none"/>
<path d="M430 77.3h0m-23.9 2.1h0m25.6 8h0m-14.2 8.5h0m11.4 3.1h0m8.1-12.5h0m-10.7 0.5h0m15.5-4.7h0m-15 21.5h0m-15.2 0h0m28.2-8.3h0m-11.2-5.8h0m-7.2-0.1h0m-9 14.9h0m-3.4-4.8h0m17.7 6.2h0m20.9-15.8h0m-17.4-16.1h0m-1.2-13.5h0m-1 38.2h0m-6.8-10.2h0m5.3-17.1h0m6.2 28.1h0m-22.2-14.3h0m24.2-5.8h0m-15 3.9h0m12.7 10.5h0m-32.7-0.4h0m2.9-11.2h0m4.5 22.4h0m-0.9-1.9h0m21.2-1.8h0m5.2-22.7h0m-14.8-0.6h0m3.1 22.1h0m-14.8-10.6h0m14.6 10.7h0m15.6-4.7h0m10.3-6.1h0m-6.5-6.1h0m-28.5 10.2h0m13.3 7.8h0m14.7-7.2h0m-22 1h0m-14.3 2h0m2-13.3h0m20.6-1h0m-16.9 7.3h0m13.6 10.6h0m-5-22.4h0m6.5 9.5h0m-18.9 16.2h0m21.5 2.3h0m6.8-14.7h0m-0.7-29.1h0m4.9 18.5h0m-16.7 29.5h0m-24-29.5h0m23 18.6h0m-17.4-10.5h0m24.6-12.5h0m-16.1 14.2h0m15.4 13.9h0m-3.9-6h0m2.5-5.5h0m-10.5-3h0m20.8 5.6h0m-15.8-4.8h0m-9.3 7.6h0m16.8 0.7h0m7.2-9.1h0m-8.9 12.5h0m4.2-9h0m-11.7 11.9h0m3.5-2.6h0m-7.2 5.1h0m14.3-12h0m-15.4 3.2h0m10-4.9h0m10.7 8.8h0m-2-20.3h0m-7.8 28.6h0m-24.6-2.4h0m27-34.3h0m3.9 20.6h0m2.5 8.1h0m5.2-29.2h0m-27.8 11h0m-12.2 30.1h0m38.9-49.1h0m2.3 27.6h0m-13.1 5.5h0m-8.6-4.9h0m2.7 4.3h0m21.1-10.3h0m-8.8 8h0m5.9-26.4h0m-4.2 24h0m-8.4-12.1h0m0.7 18.6h0m6.6-7.4h0m7.1-7.7h0m-6.2 10.5h0m-3.4-15.6h0m-23.2 28.4h0m19.7-4.6h0m1.9-26.5h0m-5.7 0.6h0m17.6 17.1h0m-30.7 6.6h0m20.7-12.5h0m-23.2 22.9h0m18.6-12.8h0m-33.2-3.5h0m13.1 20.8h0m24.3-17h0m-1.1 9.8h0m-20.9-12.5h0m24.1 0.5h0m-0.2-6.6h0m-11.7-3.5h0m-7 18h0m13.7-29.7h0m-6.7 23h0m-19.1-15.4h0m28-5.6h0m-21 12.1h0m10.6 18.1h0m8.2-11.4h0m-5-12.4h0m13-19.8h0m-7.6 38.2h0m-8.3-14.5h0m11.8 14.6h0m-6.7 1.6h0m10.2 1h0m-12.5-14.3h0m8.1 3.2h0m7.6-5.5h0m-13.6 1.5h0m6.3 2.8h0m-30.4 11h0m21.6-31h0m-28.1 37.4h0m39.8-22.1h0m-28.3 1.6h0m41.5-20.9h0m-8.2 20.5h0m-9.2-11.3h0m-8.7-1.8h0m13.3 11.8h0m-9.1-8.9h0m-2.6 22.5h0m0.7 0.6h0m-14.4-9.6h0m7.2 4.4h0m-10.6-5.2h0m11.6-11h0m4.6 19.7h0m5.6 13.9h0m-31.9-29h0m38.2 4.2h0m1.7 6.7h0m-7.2 4.5h0m-33.3-19.8h0m16 7.4h0m-2.3 19.3h0m26.9-9.1h0m-0.6-3.9h0m-8.6-7.7h0m-8.6 18.1h0m12.1-25.5h0m-15.6 28.5h0m28-16.6h0m-25.4-2.4h0m-2.7 6.6h0m11 9.9h0m-26.2-20.3h0m25.6 12.5h0m4.8-11h0m-24.4-13.4h0m18 28.5h0m12.1-32.9h0m-9.2 28.4h0m-7-0.1h0m12.1-5.5h0m-4.1-8.6h0m-12.8 17h0m9.2-3.4h0m-21.7 6.5h0m3.5-16.1h0m25.1 2.7h0m4.8 5.2h0m-33.5-23.6h0m11.4 45h0m-7.1-37.3h0m17.7 10.8h0m13.6 7.6h0m-6.9-0.7h0m-0.1 5h0m-17.2-5.6h0m-16.6-11.1h0m38.9 19.3h0m-38.2-20.4h0m33.8 3h0m-25.5 2.4h0m32.2-10.5h0m-21.7-0.9h0m5.6 9.6h0m-11.2 4.9h0m17-24.5h0m-12.3 26.5h0m2.8 1.1h0m7.9-4.3h0m-16.1-13h0m16.3-0.6h0m-12.1 20h0m2.8-13.1h0m19 18.9h0m-6.2-33.6h0m-14.5 30.2h0m6.1 0.3h0m-20.4 5.5h0m34.1-23.5h0m-14.8 1.3h0m20.6-6.7h0m-13.9-2.6h0m5 25.4h0m-4.5-34.8h0m-21.3 39.7h0m20-20.1h0m-32.4 18.7h0m28.9 1.2h0m15.8-2.4h0m-24.9-6.2h0m10.8-9.2h0m-15.9 11.4h0m27.5 10.1h0m-15.2-11.1h0m22.6-15.3h0m-31.7 20.3h0m22.6-28.3h0m-22.5 6.9h0m13.3 20.9h0m-8.5-7.9h0m6.2-0.3h0m10 5.9h0m-23.1-11.1h0m8.2-4.8h0m-14.8 5.3h0m43.9-15.8h0m-27.2 9.6h0m13.8-4.7h0m-8.8 27h0m4.4 2.2h0m5.6-21.2h0m-13.9 16.7h0m-25.4-3.3h0m44.9-4.2h0m-16.8-14.7h0m0.2 21.8h0m18.7-17.1h0m-12.3-4.8h0m-6.1 12.1h0m-6.7 13.2h0m22.9-12.8h0m1-9.2h0m-15.3 0.7h0m-21 17.8h0m20.2-1.7h0m-9-33.2h0m9.8 38.7h0m0.2-2.8h0m-0.4-6.7h0m-0.4 1.4h0m24.2-8.2h0m-37-4.7h0m-6 30.1h0m22.1-5.2h0m-18.1-13.9h0m14.2-24.6h0m0.5 29.3h0m5.7-22.1h0m3.6 1.8h0m11.7-3h0m-31 23.3h0m-0.2-12.9h0m22 6.2h0m-19.9-8.2h0m4.4 11.6h0m-8.9-5.4h0m10.6 10.9h0m-8.6-14.7h0m24.9-0.4h0m1.9-8h0m-11 10.5h0m3.5-5.2h0m-9.7 14.6h0m12.8-5.1h0m-10.6 10.9h0m13.1-14.5h0m-31.7-8.6h0m20.5 13.8h0m-29.9-9.1h0m7.5 3.5h0m18.8 16h0m4.2-5.1h0m-0.2-32h0m-12.1 31.1h0m9.7-19h0m-9.6 3h0m4.4 6.5h0m12.3-17.4h0m-26.6 23.4h0m-16.6 7.5h0m50.1-15.9h0m-24.1 7.6h0m2.3 14.6h0m-11.2-4.2h0m7-22.8h0m22.2 8.7h0m-5.5 13.2h0m-20.8-27.3h0m7.1 2.3h0m7.9 22.7h0m7.5-9.6h0m-17.1 6.6h0m12.6-18.4h0m-8.4-3.6h0m16.3-12.4h0m1.3 22h0m-1.4 14.2h0m13.1-9.8h0m-19.8 12.9h0m-31.5 9.1h0m30.1-37.5h0m-3.9 13.5h0m-5.5 11.5h0m-1.8 0.8h0m8.9-7h0m-6.8-8.8h0m15.7 21.2h0m-0.9-46.6h0m-6.6 32.8h0m-2.2 10.7h0m5.6-26.2h0m-18.6 16.5h0m5.2 0.8h0m20.7-2.2h0m-9.7-5.1h0m-14.5 14.6h0m-6.7-1.3h0m8.7-3.6h0m3.1 3.6h0m13.4 1.6h0m-2.6-7.2h0m-5.2-7.7h0m3.5 4.7h0m20.4-10.3h0m-19.9 17.9h0m-8.8-16h0m6.3 6.9h0m4.7-8.6h0m-4.4 14.7h0m14-2.7h0m-3.9 1.6h0m-29.9 5.6h0m4.6-27.8h0m6.6 16.5h0m-0.5 13h0m-12.6-22.6h0m6.5 9.2h0m16.7-8.8h0m17.6 13h0m-18 1.5h0" stroke="#3F5A8C" stroke-opacity="0.4" stroke-width="1.5" stroke-linecap="square" fill="none"/>
<path d="M450 81.6h0m-2.3 7.6h0m-48-7.5h0m42.5-12.8h0m-27.9 18.1h0m1.3 26.7h0m7.3-39.7h0m24.6 4.5h0m-12.6 13.5h0m-35.1-1.9h0m65.5-17.8h0m-75.6 11.8h0m35.7-2.3h0m9.8-7.9h0m-17.2 20.8h0m1.9-18.4h0m-6.6 5.4h0m-16.8 7.9h0m-1.5 5.4h0m37.2-0.7h0m-11.2 11.7h0m-18.7-23.4h0m51.7 6.6h0m-11.1-9.8h0m-42.9 7.8h0m-7.3 14h0m55.2-40h0m-40 22.7h0m-19.5 8.8h0m19.5-2.2h0m49-9.9h0m-23.3-7.1h0m-34.1 24.1h0m30.2-16.6h0m0.7-3.8h0m-39.9 21.2h0m10.6-15.9h0m23 7.8h0m-2.8 10.8h0m-11.8-1.5h0m18.9-29.9h0m5.7 13.3h0m-20.6-3.6h0m39.1-0.8h0m-29.6 5h0m14.5 6.7h0m-24.1 8.3h0m46-20.6h0m-18.1-13.5h0m-38 31.6h0m55.9-21.6h0m-18.3-3.4h0m-50.8 27.7h0m70.4-18.3h0m-36.2-0.5h0m36.9 1.2h0m-41.7 12.2h0m7.7-16.1h0m6.4 25.6h0m-32.4-20.5h0m42.2-5.9h0m26.9 2.6h0m-79-0.8h0m72.7 3.6h0m-40.4-13h0m-19 27.6h0m7.5 15.4h0m31.3-12.7h0m-0.8-21.3h0m-1.4 2.3h0m-42.5 3.9h0m11.3-4h0m32.4 10h0m-30.2-9.8h0m34.5 0.3h0m-44.7 19.4h0m57.3-5h0m-3.8-18.7h0m-28.9 27.6h0m4.7-25.3h0m-13.2 17.1h0m-3.8 10.6h0m-11-34h0m32.9 15.2h0m15.4-13.1h0m13.3 2.2h0m-42.5 7.2h0m17-9.5h0m-37.5 17.1h0m37.7-18.7h0m-28.4 9.2h0m13.8 11.3h0m17.4 1.4h0m-6.4-1.7h0m9.1-25.2h0m-32.2 23.2h0m23.9-6.1h0m-37.5-15.5h0m35.3 6.2h0m-2.7 22.1h0m18.2-29.4h0m3.5 11.5h0m-21.5-9.4h0m-15.3 26h0m-25.1 8.8h0m44.2-22.2h0m-3.2-3.9h0m-30.7 20.6h0m2.1-16.9h0m36-8.3h0m-32.5 16.1h0m24.1-18.8h0m-0.2 14.9h0m3 5.2h0m-34.3-6.4h0m40.6-28.4h0m-26.3 36.7h0m-1.7 6.4h0m44-18.9h0m-22.6-25.6h0m-13.5 40.5h0m19.2-23.4h0m-40.7 0.9h0m25.2 36.3h0m-30-28.3h0m29.9-16.7h0m3.5 19h0m18.2-4.2h0m-35.4 22.2h0m28.3-40.8h0m-21.8 35.6h0m9.5-4.3h0m-5.7-1.7h0m23-10.5h0m-41.1-2.4h0m39.7 5.8h0m-56.7 14.8h0m41.2-39.5h0m9.9 21.5h0m-16.2 18.4h0m3.2-31.1h0m39.1 27.4h0m-34.5-28.3h0m-3.2 27.3h0m-1.4-16.9h0m-6.8-0.9h0m-0.4 11.9h0m1.5-8.4h0m26.5 2.3h0m-26.5-2.3h0m-18.7 26h0m8.6-22.2h0m52.3 2.1h0m-33.3-1.8h0m6 5h0m-6.6-9.5h0m-3.7-8.8h0m4.3 4.2h0m7.2 16h0m-27.6-20.2h0m45.4 2.9h0m-41.4 10.6h0m7.3-17.2h0m-10.2 10h0m34.2 24h0m10.1-36.2h0m-6.8 29.5h0m22.8-13.1h0m-20.7 10.5h0m-15.9-18.6h0m25-6.7h0m-22.3 17.8h0m-15.5 9h0m-15.7-7.3h0m47.2 3.6h0m-12.5-14.3h0m-14-3h0m-31.4 23.2h0m34.1-5.5h0m-13.5-7.2h0m8.4 1.7h0m-26.7 12.2h0m47.6-10.5h0m-11 2.7h0m-12.4-25.3h0m-8.3 29.1h0m-1.2 16.3h0m-0.6-11.1h0m6.9-25.2h0m-19.1 26.6h0m23.7-4.1h0m-10.7 2h0m50.8-9h0m-32.3-6.6h0m39.8 1.8h0m-30.4 13.2h0m-14.5-26.8h0m5.8 0.7h0m10.7 4.8h0m-11.6-5.3h0m14.5 9.4h0m-31.4 24.4h0m3.8-32h0m30.9 20.1h0m-23 3.7h0m-6.1-11.4h0m30.2-14h0m-37.5 8h0m-4.2 15.9h0m9-15.1h0m30.2 0.4h0m30.3 5.1h0m-22.4-3h0m-5.1-17.3h0m-23.7 13.4h0m5.4-2.2h0m-18.3 24.2h0m25-19.1h0m1.8-11.7h0m-0.4 25.9h0m12.1-13.5h0m-40.8 16.9h0m3.9-15.7h0m9.6-3.7h0m30.4 9.7h0m-11.3-23.3h0m-16.5 32.9h0m-21.4-4.3h0m-1.7-15.3h0m28.6-1.5h0m8-1.7h0m-12.3 1.2h0m32.2-2.9h0m-36.9 16.5h0m28-12.1h0m1.4-1.4h0m-26.8 4.9h0m37-7h0m-32.7 23h0m33.3-5.3h0m-28-5.8h0m-30.5 6.1h0m6.1-27.7h0m5.9 4.9h0m12.8 32.4h0m17.8-21.9h0m-7.6-0.8h0m-11.6 10.9h0m28.2-4.9h0m-22-11.3h0m-12-10.3h0m1.2 21.2h0m0 15.3h0m-19.5-26.6h0m62.9 18.1h0m-12.5-13.1h0m-28.1-5.8h0m-2.5-14h0m6.9 39.3h0m-20.6-33.8h0m58.5 18h0m-41.7 4.5h0m-4.6 0.4h0m-31 0.6h0m17.4-26.8h0m21.8 8.8h0m1.6 8.4h0m23.5 6.9h0m-38.5 1.3h0m45.5-25.1h0m-30.7 22.7h0m17-5.5h0m-19.6-6.1h0m18-3.2h0m-3.6 19.4h0m23.8 6.9h0m-27.9-19.5h0m-7.8 15.8h0m10.2-21.2h0m-12.4 3.4h0m-1.6 28.9h0m-8.4-33.4h0m3.7 30.6h0m-10.8-13.9h0m12.2 14.7h0m-5-16.8h0m51.7-2.6h0m-36.8 13.2h0m28.8-7.7h0m1.1-5h0m-61.9-0.2h0m48.7 7.6h0m-5.8-5.5h0m-13.2 0.4h0m13-20.8h0m-13.6 23.8h0m-26.2-1h0m11.1 25.6h0m49.6-30h0m-35.3-8.8h0m21.4 18h0m-14.6-4.2h0m15.5-9.9h0m-31.7 17.1h0m-9-0.1h0m46.3-3.1h0m-29.6 21.5h0m35.1-33.3h0m-63.1 2.3h0m22.2-17h0m39.2 7.1h0m-24.9-2.5h0m-2.5 23.8h0m-8.5 20.3h0m9.6-31.2h0m-21.3-16.1h0m20.1 0.7h0m-32.5 34h0m-2.2 3h0m71.2-26.5h0m-50.4-1.7h0m-11.5-4.9h0m-12.9 32.7h0m0.1-10.4h0m41.2-27.1h0m-36.3 38h0m28-42.9h0m25.1 26.5h0m-5.4-6.9h0m0.2 3.5h0m-15.5-3.1h0m-27.8 15.4h0m16.8-12.9h0m12.3-21.6h0m-3.5 0.9h0m-16.9 16.9h0m0.5-6.7h0m30.2 9.7h0m-5.3 15.2h0m-39.1-24.3h0m41.6-13.1h0m33 15.6h0m-38 19.4h0m-25.1 0h0m19.6-37.6h0m32.7 22h0m-50.5 12.1h0m-18.1-1.9h0m31.5-35.6h0m-2.1 42.4h0m1-22.4h0m17.2 10.3h0m-38.1-13.4h0m70.2 12.8h0m-34.5 8h0m23.3-6.3h0m-9.4-1h0m-15.4 15h0m-12-4.9h0m6.8 3.6h0m-12.2-21.4h0m30.5 10.4h0m3.2-20.4h0m10.8 19.7h0m-37.7 11.2h0m-19.5 0.1h0m54-20.8h0m3.5 5.6h0m-34-13.1h0m7.7-5.7h0m-32.5 21.1h0m52.9 0.1h0m-33 6.1h0m-35.4 3.2h0m65.4-3.2h0m-61.4-6.1h0m9.5 12.4h0m17.5-32.1h0m29.6-1.8h0m-24.9-4.6h0m17.7 11.4h0m-14.9 6.1h0m-2.1-17.5h0m4.9 35.1h0m-18.6-7.1h0m36.4 1.8h0m-17.6-11.8h0m-23.9 29.6h0m17-24.4h0m27.9-0.1h0m-38.7 2.5h0m22.6 15.3h0m-10.9-17.7h0m-8.6 4.2h0m18.7-11h0m-23.2 3.3h0m35.8-20.2h0m-41 34.7h0m4.1-1.4h0m9.3 13.2h0m28.1-46.3h0m-37.5 21.9h0m12.9-4.4h0m21.5 18.5h0m6.2-31.1h0m-30.8 28.5h0" stroke="#D0404C" stroke-opacity="0.4" stroke-width="1.5" stroke-linecap="square" fill="none"/>
<path d="M430.9 81.9h0m-1.8 17.9h0m-30.4 7.2h0m21.9-17.3h0m18.7-4.1h0m-23.6 6.4h0m5.4 7.8h0m-13.6-11.9h0m-2.8 20.7h0m1.4 1.5h0m7.6-39.3h0m25.7 35.6h0m-9.3-16.9h0m-6.8 7.6h0m-6.8-4.7h0m10.4-10.4h0m-3.3 11.7h0m23.9-3.4h0m-32.6-0.1h0m15.2 4h0m-0.8 1.2h0m8.1 7.8h0m-9.3-25.7h0m-25.2 11.5h0m12.8-3.1h0m12.4 8.8h0m-2.6 7.3h0m1.9 5.4h0m-13.3-17.1h0m13.7-8.6h0m-21.1-1.9h0m-11.2 16h0m31.3 4.6h0m-5.1-2.7h0m-12.9 6.1h0m16.4-24.6h0m10.8 11h0m-9.8 11.8h0m19.4-20.2h0m-24.7 1.2h0m29.6-8.3h0m-38.1 12.3h0m16-0.1h0m-6.9 28.5h0m-5.5-29.5h0m-18.7 17.7h0m46-16.2h0m-21.2 11.5h0m3.4-5.2h0m-12.6 3.6h0m12.1-2.2h0m-24.2-17h0m25.1 24.7h0m-17.3-0.3h0m8.8-9.8h0m4.8-7.5h0m18-1.1h0m-26.8 14.9h0m1.7-0.9h0m14.1-15.9h0m-6.4-2.9h0m-2.5 19.3h0m22.9-9.8h0m-14.3-2.4h0m-21.2 8.8h0m21.8-30.3h0m-9.6 22.9h0m4.4 10.1h0m-31 8.8h0m39-21.8h0m-20.6-7.1h0m3.9 6.4h0m-8 2.1h0m11.5 1.2h0m10.5-8.1h0m2 20h0m-17.9-6.1h0m18-9.9h0m-10.3 6.4h0m-17.1 2.9h0m27.4-20.8h0m3.8 32.8h0m-11.1 8.5h0m-8.1-33.3h0m8.2 20.9h0m3.3-6h0m16.5-6.8h0m-16.5 12.7h0m-15.3-10.2h0m-6 19.3h0m16-31.8h0m22-11h0m-26.3 33.1h0m3.2-3.3h0m-5.1 6h0m20.1-42h0m-25.6 34h0m38.3-19.6h0m-30.4-0.9h0m-3.6 41h0m-9.6-32.2h0m20.5 21.3h0m4.2-8.7h0m-10.2-23.1h0m-0.5 30.9h0m6.8-3.6h0m-11.6 2.1h0m12.1-33.8h0m7.6 3.5h0m-8.2-0.1h0m-14.7 23.4h0m1.5 9.4h0m23.6-26.7h0m6.4 2.2h0m-12.9 16.6h0m0-2h0m9.9 6.3h0m-8.2 1.3h0m2.6-5.7h0m-11.8-1.4h0m-18.5-7.9h0m-7.3 8.4h0m29.1 1.3h0m-5.3-18h0m21.8 4.3h0m-25.6 14.9h0m8.8-13.2h0m-3.4 14.5h0m10.2 6.5h0m-3.2-1.1h0m-7-8.8h0m14-26.9h0m-15.8 32.2h0m8.2-20.7h0m8.8 14.5h0m-7-4.8h0m-10.8-18.2h0m-15.1 7.6h0m6.6-14h0m28.1 10.6h0m-40.5 24.8h0m5.2-22.5h0m10.5 33.6h0m6.6-15.7h0m-3.2 1.7h0m15.1-30.6h0m-0.2 21.7h0m4-19h0m-9.9 18.7h0m-15.1 1h0m5.5 13.7h0m0.2-14.6h0m1.4 8.9h0m7.8 0.8h0m3.8-10.6h0m-18.3 4.8h0m10.1 4.8h0m8.1-5.8h0m-3.6-19h0m-20.8 25.9h0m-0.7-5.1h0m4.1-9.2h0m21.8 4.4h0m-0.4 3h0m-12-1.2h0m12.7 9.8h0m12.7-20.1h0m-30.8 15h0m14.2-5h0m-6.5-4.3h0m2.4 2.9h0m-20.4 3.2h0m33.9-7.5h0m-17.5 10.2h0m-5.5 1.5h0m-13.8-12.5h0m41.7-16.4h0m-21.5 31.4h0m-21.2-1.1h0m28-14.6h0m3-22.6h0m-15.5 32.4h0m7.8-15.4h0m-8.7 9.9h0m11 7.6h0m-9.9 2.3h0m23.2 1.9h0m-36.2-1.5h0m40.5-5.2h0m-24.6 0.2h0m17-11.5h0m-3.1-13.1h0m-26.4 25.7h0m9.7 12.6h0m19.6-36h0m-19.8 28.5h0m0.4 11.4h0m2.8 4.1h0m23.5-20h0m-47.1 6h0m22 0.3h0m-6.9-17.6h0m20 1.6h0m-15.4 10.5h0m14.2-2h0m-1.6 2.2h0m-6.8-24.6h0m5.6 27.1h0m13.3-7h0m-9.6 12h0m-16.8-17.7h0m22.1 2.9h0m-8.9-13.4h0m20.7 19.9h0m-1.2-4.8h0m-19.3 6.5h0m0.7-0.4h0m-3.9-3h0m9.9 4h0m-14.7-13.2h0m-10.2 21.1h0m28.4-12.5h0m-7.8 4.3h0m3.1-3.6h0m-21.7-2.5h0m12.6-19h0m-7.5 3.7h0m23.8 3h0m-9.8 19.8h0m-30.5-18.9h0m27.3 7.3h0m-20 2.6h0m15.1-1.2h0m-1-2h0m22.2 4.5h0m-15 5.6h0m-19.4 4.8h0m27.3-11.9h0m-17.3-6.5h0m12.2 6h0m2.6-2.1h0m-21.6 14.5h0m4-11.1h0m-1.6 5.9h0m10.5 0.9h0m3.7-2.2h0m-20.9 2.2h0m1.9 2.2h0m15.9-4h0m-19.2 13.6h0m16.1-12.5h0m25-11.8h0m-37 7.9h0m8.4 0.4h0m-18.2-11.2h0m21.6 24.3h0m-19-25.6h0m20.5-0.5h0m3.5 11.9h0m6.7 5h0m-10.3 5.1h0m11.7-1.9h0m-14.5 2.4h0m13.1-21.5h0m-16.1 14h0m22.2-28.5h0m-28.9 27.4h0m38.2-17.8h0m-25.9 27.6h0m-28.5 3.8h0m16.8-1.5h0m17.3-10.9h0m3.7-6.7h0m-3.6 3.7h0m-8-7.6h0m-7.1 8.1h0m12.8 11h0m10-11.2h0m-27.3-5.1h0m25.4 7.9h0m11.7-0.2h0m-32.5 7h0m10.3 0.7h0m-8-28.2h0m5.1 30.3h0m-0.3-30.5h0m-2.1 15h0m-4 16.2h0m1.1-3.3h0m27.4 1.9h0m-37-14.6h0m-11.1 0.7h0m11.4-8.6h0m3.1 20h0m2.8-8.4h0m10.8 16.1h0m-4.9-11.2h0m26.1-15.1h0m-20.4 20h0m-4.1-4.2h0m-12-13.9h0m25.9 9.6h0m-36.1 17.8h0m29.5-16.9h0m5.9 3h0m-18.1-7.2h0m1.2-1.9h0m-3.6-10.3h0m-0.7 2.8h0m22.7-10.7h0m10.2 3.6h0m-25.4 9.2h0m-7.4 22.2h0m-5.2 11h0m22.5-30.6h0m-10.2-0.9h0m6.6 9.9h0m-3.8-3.6h0m-19.1 20.7h0m41.5-16.7h0m-22.9-0.1h0m9.2 2.5h0m11.2-15.5h0m-37.9 17.1h0m29.9-19h0m-33.3 9.1h0m42.2-23.3h0m-31.9 41.4h0m23.8-10.3h0m-16.8-23.4h0m9.7 5.4h0m-1.8 13.9h0m-0.3-3h0m-10.2-21h0m12.3 31.8h0m6.7 0.2h0m-19.7-9.5h0m15.1 4.3h0m-7.4 5.7h0m-21.2 9.1h0m40.9-34.7h0m-6.5 6h0m-11.9 0.2h0m-21.6 26.6h0m17-10.3h0m-3.4-19.9h0m0.3 5.9h0m21.2-2.3h0m-36.3 18.9h0m4.4-21.9h0m11.6 25.2h0m-6.2 0.7h0m-2.5-9.3h0m26.5-31.2h0m-32.5 46.5h0m37.2-12.7h0m-17-36.9h0m-3.2 46.7h0m-5.7-16.3h0m14.7 4.1h0m4.4-4.4h0m2.3-15.6h0m-1.7 19.8h0m-26.2-0.1h0m29.9-8.2h0m-1.7 9.2h0m-17.9-4.3h0m-6.7-0.3h0m8.1 13.8h0m-3.7-10.3h0m-4.4-15.7h0m-4.7 17.1h0m32-3.3h0m-9.6 10.6h0m-20.8-18.8h0" stroke="#3F5A8C" stroke-opacity="0.4" stroke-width="1.5" stroke-linecap="square" fill="none"/>
<path d="M439 83.4h0m-12.5-25.9h0m-4.4 29.4h0m19.5-2.6h0m1.7-1.1h0m19-8.9h0m-43.1 6.1h0m4.8 15.3h0m26.7-23.7h0m-36.5 4.8h0m47.8 7.9h0m-5.4-5.4h0m-13.3 10.7h0m-35.8 7h0m34.1-8.3h0m-18.5 1h0m14.8-34.4h0m23.9 24.3h0m-61.3-14.4h0m22.8 29.1h0m42.9-12.1h0m-27.5 5h0m6.5 12.6h0m-41.1-8h0m17.8-26.4h0m-13.9 11.4h0m19.7-13.6h0m-8.9 31.9h0m-4 7.7h0m4.6-14.4h0m-7.9-19.6h0m13.9 21.1h0m-34.4-10.4h0m57.7 4.7h0m2.2-20.5h0m-32.7 24h0m47.8-10.7h0m-15.3 0.4h0m-0.2 10h0m-2-23.8h0m-29.7 43.4h0m42-22.5h0m-14.7 3.6h0m-41.4-22.9h0m21.4 27.8h0m-0.8-13.5h0m12.8 8.6h0m-18.6-11.7h0m32.6 9.3h0m-27.8 6.2h0m2.9-32.2h0m-17.2 17.9h0m24.2 8.9h0m10.2 0.9h0m-36.2-13h0m63.1 3.4h0m-69.1-2.2h0m22.7 11.3h0m-9.3 21.5h0m-20.2-29.4h0m2.9-0.5h0m23.1-10.2h0m38.9 17.7h0m-58.3 5.2h0m10.3-16.2h0m31.4 7.5h0m15.1-5.9h0m-57.4-9.7h0m49.8 21.8h0m18.2-7.6h0m-71.5 9.6h0m42.4-16.1h0m-1.5 11.5h0m-17.8 15.3h0m41.2-22.5h0m-28.8-11.3h0m-15.8 11h0m26.2 6.6h0m18.9-3.7h0m-6.8 0.3h0m-35.3-3.2h0m-18.8 13.8h0m47.6-16.1h0m-34.7 14.9h0m4.5 5.8h0m-5.7-20.2h0m20.4 11.3h0m16.2-9.6h0m13.1 7h0m-17.1 1.4h0m-11.5 4.2h0m-33.7 4.9h0m28.7-3.8h0m19-9.1h0m-31.6 3h0m18.5-8.9h0m-7.4 6.9h0m2.7-22.2h0m16.2 16.2h0m-39.8 14.6h0m40.6-12.8h0m-29.6-21.4h0m-15.4 25.1h0m41 17h0m-1.1-19.8h0m-9.4 5.5h0m26.4 0.7h0m-26.7-11.2h0m35.5 12.8h0m-27.9-28.5h0m-34.2 16.7h0m49.7 1.1h0m-44.1-12.5h0m3.5 9.5h0m40.4 6.2h0m-71.8 14.2h0m73.4-16.8h0m-1.6 1.7h0m-5.4 7.6h0m-26.6-18.7h0m11.8 13.9h0m-2.8 12.8h0m-20.8 10.5h0m15.8-24.1h0m-15.7-3.4h0m10.4 18h0m5.7-23.9h0m-38.6 13.1h0m58.1 4h0m-33.8 8.4h0m8.6-26.9h0m-4.7 3.5h0m26.8-13.7h0m-14.5 12.7h0m-24.5-0.1h0m69.4 11h0m-58.9 6.6h0m4.6-17.9h0m32.1 16.9h0m-35.6 13.5h0m-27.8-6.1h0m56.3-15.3h0m-29.2 21.4h0m3.5-39.9h0m20.7 8.6h0m-21.2 17.6h0m36.6-12.1h0m-45.1-8.4h0m2.8 6.1h0m-6.1 22.9h0m19.2-31h0m1.9 4.8h0m-7 22.8h0m14.4-23h0m-5.9-6.1h0m-34 17.3h0m27.6 3.9h0m-4.2-8.6h0m17.9-3.7h0m-18.1-11.7h0m12.4 19.2h0m-15.9-5h0m5.5-0.1h0m-14.6-16.6h0m-0.3 43.9h0m13-28h0m-11 14.1h0m11.8-14.6h0m-10.8 20.5h0m12.1-23.2h0m-6.8 40.3h0m36.2-26.7h0m-9 0.5h0m25.7 0.7h0m-52.3-6.4h0m31.7-3.7h0m4.2 3.3h0m1.1 8.3h0m-29.6-13.5h0m28.5 16.1h0m-25 2.3h0m2.6-8.9h0m-13.5 1.2h0m3.1 5.4h0m1.2 15.5h0m-29.6-11.6h0m3.5-22.4h0m16.9-1.4h0m3.9 16.1h0m15.3-37.1h0m44.7 27.8h0m-24.8-9.5h0m-48 18.2h0m8.2-8.1h0m62.7 0.6h0m-78.2 11h0m39.7-10.3h0m-0.5-1.5h0m9-4.1h0m-35.2 5.8h0m34.1 14.9h0m-19.8 4.9h0m15.4-2.9h0m-21.1-5.7h0m17 0.2h0m-14-12.1h0m46.1 6.2h0m-59.2-3.7h0m12.5 4h0m3.7 17.1h0m-15.8-19.1h0m-10.3 17.9h0m34.3-0.9h0m-30.1-12.7h0m59.5 0.7h0m-30.2-0.8h0m-30.8-7.6h0m14.3-8.7h0m4.7 4.5h0m34.2 17.9h0m-39.6 14.1h0m48.4-42.2h0m-61.9 28.3h0m34.1-18.7h0m5.8-19.6h0m-18.4 11.9h0m40.3 24.5h0m-40.3-39.4h0m40 21.9h0m-12.3 5.7h0m-9.8-23.7h0m-14.5 6.9h0m-22.9 36.1h0m42.4-30h0m23.8 13.8h0m-19.8-7.7h0m-31.9 7h0m24.9-3h0m5.7-5.6h0m-28.2-1.5h0m4.2 18.5h0m9.5-8.3h0m30.1-8.7h0m-27.2 7.1h0m2.6-31.8h0m-27.1 12.7h0m28.3 15.5h0m-27.1-10.8h0m22.1 15.4h0m5.2-2.7h0m-7 18.8h0m23.1-38.4h0m-32.4 21.6h0m33.2-4.8h0m-42.7 5.4h0m0.9-27.1h0m46 29.5h0m-30.1-3.5h0m2.9 5h0m11.1-17.9h0m-9.3 19.3h0m8.1-28.1h0m-20.7 27.2h0m37.6-25.8h0m7.7 18.2h0m-43.5 2.3h0m-7.2 12.4h0m-1.2-32.4h0m51.8 23.3h0m-32.7 0.6h0m0.7-23.4h0m-25.2 4.2h0m-4.9 8.6h0m4.9 11.3h0m12.3-22.4h0m15.4 10.8h0m8.2 10.4h0m22.3 0.8h0m-14.2-3h0m-52.9-1.7h0m-0.9 10.1h0m12.6 10.2h0m5.9-19.7h0m40.5 4.6h0m-44.6-0.6h0m18.2-14.2h0m4.2 23.8h0m4.4-5.1h0m-4.2 1.5h0m-41.1 16.2h0m16.8-32h0m17.3 17.4h0m-1.3-15.4h0m-38 24.1h0m33.6-9.5h0m9.8 2.6h0m-19.6-12h0m35.7-2.3h0m-38.3-4.3h0m-8.5 28.1h0m48-40.4h0m11.5 26.9h0m-52.3 8.5h0m1.9-14h0m49.7 1.9h0m-74.2 1.8h0m19.3 1.8h0m44.1-1.9h0m-60.9 11.6h0m24.1-29h0m9.5-3.9h0m5.6 20.8h0m-16 3.7h0m9-1h0m-13.1-1.1h0m-11.2 8.9h0m48.4-25.9h0m1.3 1.1h0m3-14.1h0m-26.9 17.7h0m8.9-0.6h0m9.8-17.6h0m25.3 15.2h0m-45.4-0.5h0m-20.4-5.4h0m61.5 7.3h0m-60.8 2.7h0m58.8 9.7h0m-51.6 17h0m22.3-19.4h0m-13-5.4h0m33.8-3.9h0m8.6-0.5h0m-2.3 3.4h0m-38.9-16.5h0m37.5 18.6h0m-49.6-5.7h0m9.5-0.8h0m-10.7 2.3h0m12.9-10.2h0m0.9-5.8h0m30.5 20.7h0m16-7.2h0m-51.3 7h0m-3.6 12h0m24.6-10.2h0m-17.3 4.5h0m-25.9 3.8h0m80.4-8.3h0m-28.4-14.7h0m-7.5 7.2h0m-24.1 11.6h0m23-18.3h0m-32.5 13.9h0m17.9-22.2h0m7.7 13.8h0m-7.3-1.1h0m-0.4 10.9h0m-26.2 5.8h0m27.3-25.2h0m-28.3 20.7h0m39.8-27.4h0m7.8 14.2h0m-21.5 17.7h0m18.2-17.6h0m-22.2 37.5h0m-15.1-20.2h0m31.3-23h0m13.1-14.2h0m-35.9 38.9h0m40-21.4h0m-25.9 35.2h0m0.5-10.5h0m7.7-22.7h0m-21.2 4.1h0m-5.9-4.4h0m19.4 7.5h0m5.8 6.6h0m15-35.6h0m-29.3 3.5h0m-9.6 20.7h0m55.3 15.3h0m-75.4 12.3h0m57.1-43.7h0m-43.1 52.7h0m26.9-43.3h0m-20.1 19.4h0m0.4-16.5h0m48 6.2h0m-49.7 5.2h0m42.2-17.9h0m-32.8 7.3h0m2.4 20.2h0m4.8-23.4h0m9.1 16.3h0m-45.6-7.4h0m46.5-10.8h0m-34.1 29.6h0m-12-9.1h0m16.3-10.7h0m19.1 8.1h0m-2-11.1h0m36.2 0.5h0m-37.4 21.2h0m21.8-28.5h0m-21.1 37.6h0" stroke="#D0404C" stroke-opacity="0.4" stroke-width="1.5" stroke-linecap="square" fill="none"/>
<rect x="362.6" y="23" width="141.3" height="109.3" fill="none" stroke="#111" stroke-width="1.3"/>
<line x1="360.3" y1="49.8" x2="362" y2="49.8" stroke="#333" stroke-width="0.8"/>
<text x="359" y="52.14" font-size="6.5" text-anchor="end" fill="#4D4D4D" color="#4D4D4D">0.4</text>
<line x1="360.3" y1="76.5" x2="362" y2="76.5" stroke="#333" stroke-width="0.8"/>
<text x="359" y="78.84" font-size="6.5" text-anchor="end" fill="#4D4D4D" color="#4D4D4D">0.2</text>
<line x1="360.3" y1="103.2" x2="362" y2="103.2" stroke="#333" stroke-width="0.8"/>
<text x="359" y="105.54" font-size="6.5" text-anchor="end" fill="#4D4D4D" color="#4D4D4D">0.0</text>
<line x1="360.3" y1="129.9" x2="362" y2="129.9" stroke="#333" stroke-width="0.8"/>
<text x="359" y="132.24" font-size="6.5" text-anchor="end" fill="#4D4D4D" color="#4D4D4D">-0.2</text>
<line x1="372.3" y1="132.8" x2="372.3" y2="134.5" stroke="#333" stroke-width="0.8"/>
<text x="372.3" y="141.9" font-size="6.5" text-anchor="middle" fill="#4D4D4D" color="#4D4D4D">-0.1</text>
<line x1="417.2" y1="132.8" x2="417.2" y2="134.5" stroke="#333" stroke-width="0.8"/>
<text x="417.2" y="141.9" font-size="6.5" text-anchor="middle" fill="#4D4D4D" color="#4D4D4D">0.0</text>
<line x1="462.1" y1="132.8" x2="462.1" y2="134.5" stroke="#333" stroke-width="0.8"/>
<text x="462.1" y="141.9" font-size="6.5" text-anchor="middle" fill="#4D4D4D" color="#4D4D4D">0.1</text>
<text x="435" y="149.8" font-size="7.2" text-anchor="middle">glycolysis score</text>
<text x="345.2" y="78" font-size="7.2" text-anchor="middle" transform="rotate(-90 345.2 78)">oxidative phosphorylation score</text>
<text x="500.5" y="129.6" font-size="5.8" font-weight="bold" text-anchor="end">Spearman's rho=0.398, p&lt;0.0001</text>
<path d="M362.6 19.8 L363.8 19.8 L364.9 19.8 L366.1 19.8 L367.3 19.8 L368.5 19.8 L369.6 19.8 L370.8 19.8 L372.0 19.8 L373.2 19.7 L374.3 19.7 L375.5 19.7 L376.7 19.7 L377.9 19.6 L379.0 19.6 L380.2 19.5 L381.4 19.5 L382.5 19.4 L383.7 19.3 L384.9 19.2 L386.1 19.0 L387.2 18.9 L388.4 18.7 L389.6 18.5 L390.8 18.3 L391.9 18.1 L393.1 17.8 L394.3 17.6 L395.5 17.3 L396.6 17.0 L397.8 16.7 L399.0 16.4 L400.1 16.1 L401.3 15.8 L402.5 15.5 L403.7 15.2 L404.8 14.9 L406.0 14.7 L407.2 14.5 L408.4 14.3 L409.5 14.2 L410.7 14.1 L411.9 14.0 L413.1 14.0 L414.2 14.0 L415.4 14.1 L416.6 14.2 L417.7 14.3 L418.9 14.5 L420.1 14.7 L421.3 14.9 L422.4 15.1 L423.6 15.3 L424.8 15.6 L426.0 15.8 L427.1 16.0 L428.3 16.3 L429.5 16.5 L430.7 16.7 L431.8 16.9 L433.0 17.0 L434.2 17.2 L435.3 17.4 L436.5 17.5 L437.7 17.6 L438.9 17.7 L440.0 17.9 L441.2 18.0 L442.4 18.1 L443.6 18.2 L444.7 18.2 L445.9 18.3 L447.1 18.4 L448.3 18.5 L449.4 18.6 L450.6 18.7 L451.8 18.8 L452.9 18.8 L454.1 18.9 L455.3 19.0 L456.5 19.1 L457.6 19.2 L458.8 19.2 L460.0 19.3 L461.2 19.3 L462.3 19.4 L463.5 19.5 L464.7 19.5 L465.9 19.5 L467.0 19.6 L468.2 19.6 L469.4 19.6 L470.5 19.7 L471.7 19.7 L472.9 19.7 L474.1 19.7 L475.2 19.7 L476.4 19.8 L477.6 19.8 L478.8 19.8 L479.9 19.8 L481.1 19.8 L482.3 19.8 L483.5 19.8 L484.6 19.8 L485.8 19.8 L487.0 19.8 L488.1 19.8 L489.3 19.8 L490.5 19.8 L491.7 19.8 L492.8 19.8 L494.0 19.8 L495.2 19.8 L496.4 19.8 L497.5 19.8 L498.7 19.8 L499.9 19.8 L501.1 19.8 L502.2 19.8 L503.4 19.8 L503.4 19.8 L362.6 19.8Z" fill="#C9505C" fill-opacity="0.85" stroke="none"/>
<path d="M362.6 19.8 L363.8 19.8 L364.9 19.8 L366.1 19.8 L367.3 19.8 L368.5 19.8 L369.6 19.8 L370.8 19.8 L372.0 19.8 L373.2 19.8 L374.3 19.7 L375.5 19.7 L376.7 19.7 L377.9 19.7 L379.0 19.6 L380.2 19.6 L381.4 19.5 L382.5 19.4 L383.7 19.3 L384.9 19.2 L386.1 19.1 L387.2 18.9 L388.4 18.8 L389.6 18.6 L390.8 18.4 L391.9 18.1 L393.1 17.9 L394.3 17.6 L395.5 17.3 L396.6 17.0 L397.8 16.7 L399.0 16.4 L400.1 16.1 L401.3 15.8 L402.5 15.5 L403.7 15.2 L404.8 15.0 L406.0 14.8 L407.2 14.6 L408.4 14.5 L409.5 14.4 L410.7 14.4 L411.9 14.4 L413.1 14.5 L414.2 14.6 L415.4 14.7 L416.6 14.9 L417.7 15.1 L418.9 15.3 L420.1 15.6 L421.3 15.9 L422.4 16.1 L423.6 16.4 L424.8 16.7 L426.0 16.9 L427.1 17.2 L428.3 17.4 L429.5 17.6 L430.7 17.8 L431.8 18.0 L433.0 18.2 L434.2 18.4 L435.3 18.5 L436.5 18.7 L437.7 18.8 L438.9 18.9 L440.0 19.0 L441.2 19.1 L442.4 19.2 L443.6 19.3 L444.7 19.4 L445.9 19.4 L447.1 19.5 L448.3 19.5 L449.4 19.6 L450.6 19.6 L451.8 19.6 L452.9 19.7 L454.1 19.7 L455.3 19.7 L456.5 19.7 L457.6 19.7 L458.8 19.8 L460.0 19.8 L461.2 19.8 L462.3 19.8 L463.5 19.8 L464.7 19.8 L465.9 19.8 L467.0 19.8 L468.2 19.8 L469.4 19.8 L470.5 19.8 L471.7 19.8 L472.9 19.8 L474.1 19.8 L475.2 19.8 L476.4 19.8 L477.6 19.8 L478.8 19.8 L479.9 19.8 L481.1 19.8 L482.3 19.8 L483.5 19.8 L484.6 19.8 L485.8 19.8 L487.0 19.8 L488.1 19.8 L489.3 19.8 L490.5 19.8 L491.7 19.8 L492.8 19.8 L494.0 19.8 L495.2 19.8 L496.4 19.8 L497.5 19.8 L498.7 19.8 L499.9 19.8 L501.1 19.8 L502.2 19.8 L503.4 19.8" fill="none" stroke="#111" stroke-width="1.0"/>
<path d="M362.6 19.8 L363.8 19.8 L364.9 19.8 L366.1 19.8 L367.3 19.8 L368.5 19.8 L369.6 19.8 L370.8 19.8 L372.0 19.8 L373.2 19.7 L374.3 19.7 L375.5 19.7 L376.7 19.7 L377.9 19.6 L379.0 19.6 L380.2 19.5 L381.4 19.5 L382.5 19.4 L383.7 19.3 L384.9 19.2 L386.1 19.0 L387.2 18.9 L388.4 18.7 L389.6 18.5 L390.8 18.3 L391.9 18.1 L393.1 17.8 L394.3 17.6 L395.5 17.3 L396.6 17.0 L397.8 16.7 L399.0 16.4 L400.1 16.1 L401.3 15.8 L402.5 15.5 L403.7 15.2 L404.8 14.9 L406.0 14.7 L407.2 14.5 L408.4 14.3 L409.5 14.2 L410.7 14.1 L411.9 14.0 L413.1 14.0 L414.2 14.0 L415.4 14.1 L416.6 14.2 L417.7 14.3 L418.9 14.5 L420.1 14.7 L421.3 14.9 L422.4 15.1 L423.6 15.3 L424.8 15.6 L426.0 15.8 L427.1 16.0 L428.3 16.3 L429.5 16.5 L430.7 16.7 L431.8 16.9 L433.0 17.0 L434.2 17.2 L435.3 17.4 L436.5 17.5 L437.7 17.6 L438.9 17.7 L440.0 17.9 L441.2 18.0 L442.4 18.1 L443.6 18.2 L444.7 18.2 L445.9 18.3 L447.1 18.4 L448.3 18.5 L449.4 18.6 L450.6 18.7 L451.8 18.8 L452.9 18.8 L454.1 18.9 L455.3 19.0 L456.5 19.1 L457.6 19.2 L458.8 19.2 L460.0 19.3 L461.2 19.3 L462.3 19.4 L463.5 19.5 L464.7 19.5 L465.9 19.5 L467.0 19.6 L468.2 19.6 L469.4 19.6 L470.5 19.7 L471.7 19.7 L472.9 19.7 L474.1 19.7 L475.2 19.7 L476.4 19.8 L477.6 19.8 L478.8 19.8 L479.9 19.8 L481.1 19.8 L482.3 19.8 L483.5 19.8 L484.6 19.8 L485.8 19.8 L487.0 19.8 L488.1 19.8 L489.3 19.8 L490.5 19.8 L491.7 19.8 L492.8 19.8 L494.0 19.8 L495.2 19.8 L496.4 19.8 L497.5 19.8 L498.7 19.8 L499.9 19.8 L501.1 19.8 L502.2 19.8 L503.4 19.8" fill="none" stroke="#111" stroke-width="0.6"/>
<line x1="362.6" y1="19.8" x2="503.4" y2="19.8" stroke="#111" stroke-width="0.9"/>
<text x="414.3" y="14.4" font-size="7" font-weight="bold" text-anchor="middle">****</text>
<line x1="410.8" y1="12.4" x2="417.8" y2="12.4" stroke="#111" stroke-width="0.6"/>
<path d="M508.2 23.0 L508.2 23.9 L508.2 24.8 L508.2 25.7 L508.2 26.6 L508.2 27.5 L508.2 28.4 L508.2 29.4 L508.2 30.3 L508.2 31.2 L508.2 32.1 L508.2 33.0 L508.2 33.9 L508.2 34.8 L508.2 35.7 L508.2 36.6 L508.2 37.5 L508.2 38.4 L508.2 39.4 L508.2 40.3 L508.2 41.2 L508.2 42.1 L508.2 43.0 L508.2 43.9 L508.2 44.8 L508.2 45.7 L508.2 46.6 L508.2 47.5 L508.2 48.4 L508.2 49.3 L508.2 50.2 L508.2 51.2 L508.2 52.1 L508.2 53.0 L508.2 53.9 L508.2 54.8 L508.2 55.7 L508.2 56.6 L508.2 57.5 L508.2 58.4 L508.2 59.3 L508.2 60.2 L508.2 61.1 L508.2 62.1 L508.2 63.0 L508.2 63.9 L508.2 64.8 L508.2 65.7 L508.2 66.6 L508.2 67.5 L508.2 68.4 L508.2 69.3 L508.2 70.2 L508.2 71.1 L508.3 72.0 L508.3 73.0 L508.4 73.9 L508.4 74.8 L508.6 75.7 L508.7 76.6 L508.9 77.5 L509.2 78.4 L509.6 79.3 L510.1 80.2 L510.7 81.1 L511.4 82.0 L512.2 83.0 L513.1 83.9 L514.0 84.8 L515.0 85.7 L516.1 86.6 L517.0 87.5 L517.9 88.4 L518.7 89.3 L519.2 90.2 L519.6 91.1 L519.7 92.0 L519.6 92.9 L519.2 93.8 L518.6 94.8 L517.9 95.7 L517.0 96.6 L516.0 97.5 L515.0 98.4 L513.9 99.3 L513.0 100.2 L512.1 101.1 L511.3 102.0 L510.6 102.9 L510.1 103.8 L509.6 104.8 L509.2 105.7 L508.9 106.6 L508.7 107.5 L508.6 108.4 L508.4 109.3 L508.4 110.2 L508.3 111.1 L508.3 112.0 L508.2 112.9 L508.2 113.8 L508.2 114.7 L508.2 115.7 L508.2 116.6 L508.2 117.5 L508.2 118.4 L508.2 119.3 L508.2 120.2 L508.2 121.1 L508.2 122.0 L508.2 122.9 L508.2 123.8 L508.2 124.7 L508.2 125.6 L508.2 126.5 L508.2 127.5 L508.2 128.4 L508.2 129.3 L508.2 130.2 L508.2 131.1 L508.2 132.0Z" fill="#4E6A9C" stroke="#111" stroke-width="0.9"/>
<path d="M508.2 23.0 L508.2 23.9 L508.2 24.8 L508.2 25.7 L508.2 26.6 L508.2 27.5 L508.2 28.4 L508.2 29.4 L508.2 30.3 L508.2 31.2 L508.2 32.1 L508.2 33.0 L508.2 33.9 L508.2 34.8 L508.2 35.7 L508.2 36.6 L508.2 37.5 L508.2 38.4 L508.2 39.4 L508.2 40.3 L508.2 41.2 L508.2 42.1 L508.2 43.0 L508.2 43.9 L508.2 44.8 L508.2 45.7 L508.2 46.6 L508.2 47.5 L508.2 48.4 L508.2 49.3 L508.2 50.2 L508.2 51.2 L508.2 52.1 L508.3 53.0 L508.3 53.9 L508.3 54.8 L508.3 55.7 L508.4 56.6 L508.4 57.5 L508.5 58.4 L508.6 59.3 L508.7 60.2 L508.8 61.1 L508.9 62.1 L509.1 63.0 L509.3 63.9 L509.6 64.8 L509.8 65.7 L510.2 66.6 L510.5 67.5 L510.9 68.4 L511.4 69.3 L511.9 70.2 L512.4 71.1 L513.0 72.0 L513.5 73.0 L514.1 73.9 L514.8 74.8 L515.4 75.7 L515.9 76.6 L516.5 77.5 L517.0 78.4 L517.5 79.3 L517.9 80.2 L518.2 81.1 L518.5 82.0 L518.6 83.0 L518.7 83.9 L518.7 84.8 L518.5 85.7 L518.3 86.6 L518.0 87.5 L517.6 88.4 L517.2 89.3 L516.7 90.2 L516.1 91.1 L515.5 92.0 L514.9 92.9 L514.3 93.8 L513.7 94.8 L513.1 95.7 L512.6 96.6 L512.0 97.5 L511.5 98.4 L511.1 99.3 L510.6 100.2 L510.3 101.1 L509.9 102.0 L509.6 102.9 L509.4 103.8 L509.2 104.8 L509.0 105.7 L508.8 106.6 L508.7 107.5 L508.6 108.4 L508.5 109.3 L508.4 110.2 L508.4 111.1 L508.3 112.0 L508.3 112.9 L508.3 113.8 L508.3 114.7 L508.2 115.7 L508.2 116.6 L508.2 117.5 L508.2 118.4 L508.2 119.3 L508.2 120.2 L508.2 121.1 L508.2 122.0 L508.2 122.9 L508.2 123.8 L508.2 124.7 L508.2 125.6 L508.2 126.5 L508.2 127.5 L508.2 128.4 L508.2 129.3 L508.2 130.2 L508.2 131.1 L508.2 132.0Z" fill="#C9505C" fill-opacity="0.95" stroke="none"/>
<path d="M508.2 23.0 L508.2 23.9 L508.2 24.8 L508.2 25.7 L508.2 26.6 L508.2 27.5 L508.2 28.4 L508.2 29.4 L508.2 30.3 L508.2 31.2 L508.2 32.1 L508.2 33.0 L508.2 33.9 L508.2 34.8 L508.2 35.7 L508.2 36.6 L508.2 37.5 L508.2 38.4 L508.2 39.4 L508.2 40.3 L508.2 41.2 L508.2 42.1 L508.2 43.0 L508.2 43.9 L508.2 44.8 L508.2 45.7 L508.2 46.6 L508.2 47.5 L508.2 48.4 L508.2 49.3 L508.2 50.2 L508.2 51.2 L508.2 52.1 L508.3 53.0 L508.3 53.9 L508.3 54.8 L508.3 55.7 L508.4 56.6 L508.4 57.5 L508.5 58.4 L508.6 59.3 L508.7 60.2 L508.8 61.1 L508.9 62.1 L509.1 63.0 L509.3 63.9 L509.6 64.8 L509.8 65.7 L510.2 66.6 L510.5 67.5 L510.9 68.4 L511.4 69.3 L511.9 70.2 L512.4 71.1 L513.0 72.0 L513.5 73.0 L514.1 73.9 L514.8 74.8 L515.4 75.7 L515.9 76.6 L516.5 77.5 L517.0 78.4 L517.5 79.3 L517.9 80.2 L518.2 81.1 L518.5 82.0 L518.6 83.0 L518.7 83.9 L518.7 84.8 L518.5 85.7 L518.3 86.6 L518.0 87.5 L517.6 88.4 L517.2 89.3 L516.7 90.2 L516.1 91.1 L515.5 92.0 L514.9 92.9 L514.3 93.8 L513.7 94.8 L513.1 95.7 L512.6 96.6 L512.0 97.5 L511.5 98.4 L511.1 99.3 L510.6 100.2 L510.3 101.1 L509.9 102.0 L509.6 102.9 L509.4 103.8 L509.2 104.8 L509.0 105.7 L508.8 106.6 L508.7 107.5 L508.6 108.4 L508.5 109.3 L508.4 110.2 L508.4 111.1 L508.3 112.0 L508.3 112.9 L508.3 113.8 L508.3 114.7 L508.2 115.7 L508.2 116.6 L508.2 117.5 L508.2 118.4 L508.2 119.3 L508.2 120.2 L508.2 121.1 L508.2 122.0 L508.2 122.9 L508.2 123.8 L508.2 124.7 L508.2 125.6 L508.2 126.5 L508.2 127.5 L508.2 128.4 L508.2 129.3 L508.2 130.2 L508.2 131.1 L508.2 132.0" fill="none" stroke="#E8626A" stroke-width="0.7"/>
<path d="M508.2 23.0 L508.2 23.9 L508.2 24.8 L508.2 25.7 L508.2 26.6 L508.2 27.5 L508.2 28.4 L508.2 29.4 L508.2 30.3 L508.2 31.2 L508.2 32.1 L508.2 33.0 L508.2 33.9 L508.2 34.8 L508.2 35.7 L508.2 36.6 L508.2 37.5 L508.2 38.4 L508.2 39.4 L508.2 40.3 L508.2 41.2 L508.2 42.1 L508.2 43.0 L508.2 43.9 L508.2 44.8 L508.2 45.7 L508.2 46.6 L508.2 47.5 L508.2 48.4 L508.2 49.3 L508.2 50.2 L508.2 51.2 L508.2 52.1 L508.3 53.0 L508.3 53.9 L508.3 54.8 L508.3 55.7 L508.4 56.6 L508.4 57.5 L508.5 58.4 L508.6 59.3 L508.7 60.2 L508.8 61.1 L508.9 62.1 L509.1 63.0 L509.3 63.9 L509.6 64.8 L509.8 65.7 L510.2 66.6 L510.5 67.5 L510.9 68.4 L511.4 69.3 L511.9 70.2 L512.4 71.1 L513.0 72.0 L513.5 73.0 L514.1 73.9 L514.8 74.8 L515.4 75.7 L515.9 76.6 L516.5 77.5 L517.0 78.4 L517.5 79.3 L517.9 80.2 L518.2 81.1 L518.5 82.0 L518.6 83.0 L518.7 83.9 L518.7 84.8 L518.5 85.7 L518.3 86.6 L518.0 87.5 L517.6 88.4 L517.2 89.3 L516.7 90.2 L516.1 91.1 L515.5 92.0 L514.9 92.9 L514.3 93.8 L513.7 94.8 L513.1 95.7 L512.6 96.6 L512.0 97.5 L511.5 98.4 L511.1 99.3 L510.6 100.2 L510.3 101.1 L509.9 102.0 L509.6 102.9 L509.4 103.8 L509.2 104.8 L509.0 105.7 L508.8 106.6 L508.7 107.5 L508.6 108.4 L508.5 109.3 L508.4 110.2 L508.4 111.1 L508.3 112.0 L508.3 112.9 L508.3 113.8 L508.3 114.7 L508.2 115.7 L508.2 116.6 L508.2 117.5 L508.2 118.4 L508.2 119.3 L508.2 120.2 L508.2 121.1 L508.2 122.0 L508.2 122.9 L508.2 123.8 L508.2 124.7 L508.2 125.6 L508.2 126.5 L508.2 127.5 L508.2 128.4 L508.2 129.3 L508.2 130.2 L508.2 131.1 L508.2 132.0" fill="none" stroke="#111" stroke-width="0.5"/>
<line x1="508.2" y1="23" x2="508.2" y2="132" stroke="#111" stroke-width="1.1"/>
<text x="526.6" y="89.8" font-size="7" font-weight="bold" text-anchor="middle" transform="rotate(-90 526.6 89.8)">****</text>
<line x1="524.4" y1="86.3" x2="524.4" y2="93.3" stroke="#111" stroke-width="0.6"/>
<text x="612.3" y="18.1" font-size="8.5" font-weight="bold" text-anchor="middle">Density</text>
<defs><radialGradient id="rg1" cx="0.5" cy="0.5" r="0.5"><stop offset="0" stop-color="#E0404A"/><stop offset="0.55" stop-color="#DC444C"/><stop offset="0.8" stop-color="#E2737A" stop-opacity="0.7"/><stop offset="1" stop-color="#F2C6CA" stop-opacity="0"/></radialGradient><radialGradient id="bg1" cx="0.5" cy="0.5" r="0.5"><stop offset="0" stop-color="#4A5C8C"/><stop offset="0.7" stop-color="#5A6E9C" stop-opacity="0.8"/><stop offset="1" stop-color="#C8D0E2" stop-opacity="0"/></radialGradient><filter id="bl1" x="-50%" y="-50%" width="200%" height="200%"><feGaussianBlur stdDeviation="1.2"/></filter></defs>
<defs><radialGradient id="rg2" cx="0.5" cy="0.5" r="0.5"><stop offset="0" stop-color="#DC3E48"/><stop offset="0.5" stop-color="#DA424B"/><stop offset="0.75" stop-color="#D9555E" stop-opacity="0.85"/><stop offset="0.9" stop-color="#E79AA0" stop-opacity="0.5"/><stop offset="1" stop-color="#F4D0D3" stop-opacity="0"/></radialGradient><radialGradient id="bg2" cx="0.5" cy="0.5" r="0.5"><stop offset="0" stop-color="#4A5A8C"/><stop offset="0.6" stop-color="#566A9A" stop-opacity="0.85"/><stop offset="1" stop-color="#C8D2E4" stop-opacity="0"/></radialGradient></defs>
<path d="M612 61.5 C618 61 621 63 623 66 C626 71 628 75 632 78 C637 80 640 83 639 86 C637 89 632 89.5 627 88.5 C623 88.5 621 91 619 94 C622 86 621 70 612 61.5Z" fill="#FBE6E8" fill-opacity="0.9"/>
<path d="M612 61.5 C618 61 621 63 623 66 C626 71 628 75 632 78 C637 80 640 83 639 86 C637 89 632 89.5 627 88.5 C623 88.5 621 91 619 94" fill="none" stroke="#F3C8CC" stroke-width="1.3" stroke-opacity="0.8"/>
<path d="M613 64.5 C617 64.5 619 66 621 69 C623 73 625 77 629 80 C633 82 636 84 635 85.5 C633 86.5 630 86.5 626 86 C622 86 620 88 618 91" fill="none" stroke="#F3C8CC" stroke-width="1.1" stroke-opacity="0.7"/>
<g transform="translate(592 86) rotate(-38)">
<ellipse rx="32.0" ry="20.5" fill="none" stroke="#EDB5BB" stroke-width="1.0" stroke-opacity="0.55"/>
<ellipse rx="30.6" ry="19.6" fill="none" stroke="#EDB5BB" stroke-width="1.0" stroke-opacity="0.55"/>
<ellipse rx="29.3" ry="18.7" fill="none" stroke="#EDB5BB" stroke-width="1.0" stroke-opacity="0.55"/>
<ellipse rx="27.9" ry="17.8" fill="none" stroke="#EDB5BB" stroke-width="1.0" stroke-opacity="0.55"/>
<ellipse rx="26.6" ry="16.9" fill="none" stroke="#EDB5BB" stroke-width="1.0" stroke-opacity="0.55"/>
<ellipse rx="25.2" ry="16.0" fill="none" stroke="#EDB5BB" stroke-width="1.0" stroke-opacity="0.55"/>
<ellipse rx="23.9" ry="15.1" fill="none" stroke="#EDB5BB" stroke-width="1.0" stroke-opacity="0.55"/>
<ellipse rx="22.5" ry="14.2" fill="none" stroke="#EDB5BB" stroke-width="1.0" stroke-opacity="0.55"/>
<ellipse rx="21.2" ry="13.3" fill="none" stroke="#EDB5BB" stroke-width="1.0" stroke-opacity="0.55"/>
<ellipse cx="1" cy="2" rx="31.0" ry="19.5" fill="none" stroke="#C4CEE2" stroke-width="0.9" stroke-opacity="0.45"/>
<ellipse cx="1" cy="2" rx="29.4" ry="18.5" fill="none" stroke="#C4CEE2" stroke-width="0.9" stroke-opacity="0.45"/>
<ellipse cx="1" cy="2" rx="27.8" ry="17.5" fill="none" stroke="#C4CEE2" stroke-width="0.9" stroke-opacity="0.45"/>
<ellipse cx="1" cy="2" rx="26.2" ry="16.5" fill="none" stroke="#C4CEE2" stroke-width="0.9" stroke-opacity="0.45"/>
<ellipse cx="1" cy="2" rx="24.6" ry="15.5" fill="none" stroke="#C4CEE2" stroke-width="0.9" stroke-opacity="0.45"/>
<ellipse cx="-2" cy="8.5" rx="25" ry="11" fill="url(#bg2)"/>
<ellipse cx="0" cy="-0.5" rx="28.5" ry="17.5" fill="url(#rg2)"/>
</g>
<rect x="541.7" y="23.3" width="141.3" height="108.5" fill="none" stroke="#111" stroke-width="1.3"/>
<line x1="539.3" y1="49.7" x2="541" y2="49.7" stroke="#333" stroke-width="0.8"/>
<text x="538" y="52.04" font-size="6.5" text-anchor="end" fill="#4D4D4D" color="#4D4D4D">0.4</text>
<line x1="539.3" y1="76.5" x2="541" y2="76.5" stroke="#333" stroke-width="0.8"/>
<text x="538" y="78.84" font-size="6.5" text-anchor="end" fill="#4D4D4D" color="#4D4D4D">0.2</text>
<line x1="539.3" y1="103.3" x2="541" y2="103.3" stroke="#333" stroke-width="0.8"/>
<text x="538" y="105.64" font-size="6.5" text-anchor="end" fill="#4D4D4D" color="#4D4D4D">0.0</text>
<line x1="539.3" y1="130.1" x2="541" y2="130.1" stroke="#333" stroke-width="0.8"/>
<text x="538" y="132.44" font-size="6.5" text-anchor="end" fill="#4D4D4D" color="#4D4D4D">-0.2</text>
<line x1="550.8" y1="132.3" x2="550.8" y2="134" stroke="#333" stroke-width="0.8"/>
<text x="550.8" y="141.5" font-size="6.5" text-anchor="middle" fill="#4D4D4D" color="#4D4D4D">-0.1</text>
<line x1="595.6" y1="132.3" x2="595.6" y2="134" stroke="#333" stroke-width="0.8"/>
<text x="595.6" y="141.5" font-size="6.5" text-anchor="middle" fill="#4D4D4D" color="#4D4D4D">0.0</text>
<line x1="640.4" y1="132.3" x2="640.4" y2="134" stroke="#333" stroke-width="0.8"/>
<text x="640.4" y="141.5" font-size="6.5" text-anchor="middle" fill="#4D4D4D" color="#4D4D4D">0.1</text>
<text x="613.7" y="149.8" font-size="7.2" text-anchor="middle">glycolysis score</text>
<circle cx="620" cy="31.5" r="3.0" fill="#41608F"/>
<text x="626" y="34.3" font-size="7.8">indolent T-PLL</text>
<circle cx="620" cy="41.7" r="3.0" fill="#DE464C"/>
<text x="626" y="44.5" font-size="7.8">active T-PLL</text>
<text x="337.4" y="167.6" font-size="18" font-weight="bold">C</text>
<text x="368.8" y="168.2" font-size="9.4" font-weight="bold" letter-spacing="0.38">Metabolic transcripts</text>
<line x1="382.3" y1="201.05" x2="384.8" y2="201.05" stroke="#333" stroke-width="0.8"/>
<text x="379.8" y="204.11" font-size="8.5" text-anchor="end" fill="#4D4D4D" color="#4D4D4D">3.5</text>
<line x1="382.3" y1="229.4" x2="384.8" y2="229.4" stroke="#333" stroke-width="0.8"/>
<text x="379.8" y="232.46" font-size="8.5" text-anchor="end" fill="#4D4D4D" color="#4D4D4D">3.0</text>
<line x1="382.3" y1="257.75" x2="384.8" y2="257.75" stroke="#333" stroke-width="0.8"/>
<text x="379.8" y="260.81" font-size="8.5" text-anchor="end" fill="#4D4D4D" color="#4D4D4D">2.5</text>
<line x1="382.3" y1="286.1" x2="384.8" y2="286.1" stroke="#333" stroke-width="0.8"/>
<text x="379.8" y="289.16" font-size="8.5" text-anchor="end" fill="#4D4D4D" color="#4D4D4D">2.0</text>
<text x="346.6" y="240" font-size="8.6" text-anchor="middle" transform="rotate(-90 346.6 240)">metabolic transcripts [%]</text>
<line x1="404.6" y1="237" x2="404.6" y2="252.9" stroke="#555" stroke-width="1.0"/>
<line x1="404.6" y1="280.3" x2="404.6" y2="300.4" stroke="#555" stroke-width="1.0"/>
<rect x="396.55" y="252.9" width="16.1" height="27.4" fill="#3C5E8B" stroke="#333" stroke-width="0.8"/>
<line x1="396.55" y1="266.3" x2="412.65" y2="266.3" stroke="#333" stroke-width="1.4"/>
<line x1="437.3" y1="185.8" x2="437.3" y2="230.5" stroke="#555" stroke-width="1.0"/>
<line x1="437.3" y1="268.6" x2="437.3" y2="282.1" stroke="#555" stroke-width="1.0"/>
<rect x="429.25" y="230.5" width="16.1" height="38.1" fill="#DD454B" stroke="#333" stroke-width="0.8"/>
<line x1="429.25" y1="254.4" x2="445.35" y2="254.4" stroke="#333" stroke-width="1.4"/>
<line x1="404.6" y1="203.7" x2="437.3" y2="185.8" stroke="#222" stroke-width="0.7"/>
<line x1="404.6" y1="237" x2="437.3" y2="229.6" stroke="#222" stroke-width="0.7"/>
<line x1="404.6" y1="241" x2="437.3" y2="228.4" stroke="#222" stroke-width="0.7"/>
<line x1="404.6" y1="243.6" x2="437.3" y2="270.3" stroke="#222" stroke-width="0.7"/>
<line x1="404.6" y1="255.8" x2="437.3" y2="231.9" stroke="#222" stroke-width="0.7"/>
<line x1="404.6" y1="256.7" x2="437.3" y2="268.1" stroke="#222" stroke-width="0.7"/>
<line x1="404.6" y1="263.7" x2="437.3" y2="242.7" stroke="#222" stroke-width="0.7"/>
<line x1="404.6" y1="265.1" x2="437.3" y2="252.3" stroke="#222" stroke-width="0.7"/>
<line x1="404.6" y1="266.9" x2="437.3" y2="254.1" stroke="#222" stroke-width="0.7"/>
<line x1="404.6" y1="272.1" x2="437.3" y2="255.8" stroke="#222" stroke-width="0.7"/>
<line x1="404.6" y1="281.5" x2="437.3" y2="282.1" stroke="#222" stroke-width="0.7"/>
<line x1="404.6" y1="288.2" x2="437.3" y2="276" stroke="#222" stroke-width="0.7"/>
<circle cx="404.6" cy="203.7" r="2.0" fill="#000"/>
<circle cx="404.6" cy="237" r="2.0" fill="#000"/>
<circle cx="404.6" cy="241" r="2.0" fill="#000"/>
<circle cx="404.6" cy="243.6" r="2.0" fill="#000"/>
<circle cx="404.6" cy="255.8" r="2.0" fill="#000"/>
<circle cx="404.6" cy="256.7" r="2.0" fill="#000"/>
<circle cx="404.6" cy="263.7" r="2.0" fill="#000"/>
<circle cx="404.6" cy="265.1" r="2.0" fill="#000"/>
<circle cx="404.6" cy="266.9" r="2.0" fill="#000"/>
<circle cx="404.6" cy="272.1" r="2.0" fill="#000"/>
<circle cx="404.6" cy="275.6" r="2.0" fill="#000"/>
<circle cx="404.6" cy="280.3" r="2.0" fill="#000"/>
<circle cx="404.6" cy="281.5" r="2.0" fill="#000"/>
<circle cx="404.6" cy="288.2" r="2.0" fill="#000"/>
<circle cx="404.6" cy="291.3" r="2.0" fill="#000"/>
<circle cx="404.6" cy="300.4" r="2.0" fill="#000"/>
<circle cx="437.3" cy="185.8" r="2.0" fill="#000"/>
<circle cx="437.3" cy="228.4" r="2.0" fill="#000"/>
<circle cx="437.3" cy="229.6" r="2.0" fill="#000"/>
<circle cx="437.3" cy="231.9" r="2.0" fill="#000"/>
<circle cx="437.3" cy="242.7" r="2.0" fill="#000"/>
<circle cx="437.3" cy="252.3" r="2.0" fill="#000"/>
<circle cx="437.3" cy="254.1" r="2.0" fill="#000"/>
<circle cx="437.3" cy="255.8" r="2.0" fill="#000"/>
<circle cx="437.3" cy="268.1" r="2.0" fill="#000"/>
<circle cx="437.3" cy="270.3" r="2.0" fill="#000"/>
<circle cx="437.3" cy="276" r="2.0" fill="#000"/>
<circle cx="437.3" cy="282.1" r="2.0" fill="#000"/>
<text x="440.7" y="296.6" font-size="7.1" fill="#222" color="#222">p=0.0694</text>
<line x1="404.6" y1="306" x2="404.6" y2="308" stroke="#333" stroke-width="0.8"/>
<line x1="437.3" y1="306" x2="437.3" y2="308" stroke="#333" stroke-width="0.8"/>
<rect x="490.1" y="263.9" width="13.3" height="13.1" fill="#3C5E8B" stroke="#222" stroke-width="1.1"/>
<rect x="490.1" y="282.6" width="13.3" height="13.1" fill="#DD454B" stroke="#222" stroke-width="1.1"/>
<text x="508.5" y="273.2" font-size="8.7">indolent T-PLL cells (n=16)</text>
<text x="508.5" y="291.1" font-size="8.7">active T-PLL cells (n=12)</text>
<text x="-0.2" y="339.2" font-size="18" font-weight="bold">D</text>
<text x="56.5" y="339.2" font-size="9.4" font-weight="bold" text-anchor="middle" letter-spacing="0.38">GEP array</text>
<text x="134.8" y="339.2" font-size="9.4" font-weight="bold" text-anchor="middle" letter-spacing="0.38">mRNA seq.</text>
<text x="6.8" y="410.5" font-size="8.6" text-anchor="middle" transform="rotate(-90 6.8 410.5)">metabolic transcripts [%]</text>
<line x1="31.3" y1="385.8" x2="32.8" y2="385.8" stroke="#333" stroke-width="0.8"/>
<text x="26.7" y="388.86" font-size="8.5" text-anchor="end" fill="#4D4D4D" color="#4D4D4D">7</text>
<line x1="31.3" y1="429.5" x2="32.8" y2="429.5" stroke="#333" stroke-width="0.8"/>
<text x="26.7" y="432.56" font-size="8.5" text-anchor="end" fill="#4D4D4D" color="#4D4D4D">6</text>
<line x1="46.6" y1="419" x2="46.6" y2="433.3" stroke="#555" stroke-width="1.0"/>
<line x1="46.6" y1="446.6" x2="46.6" y2="453.6" stroke="#555" stroke-width="1.0"/>
<rect x="37.7" y="433.3" width="17.8" height="13.3" fill="#BEBEBE" stroke="#333" stroke-width="0.7"/>
<line x1="37.7" y1="440.8" x2="55.5" y2="440.8" stroke="#333" stroke-width="1.2"/>
<line x1="70.1" y1="386.6" x2="70.1" y2="416.9" stroke="#555" stroke-width="1.0"/>
<line x1="70.1" y1="440.8" x2="70.1" y2="458.3" stroke="#555" stroke-width="1.0"/>
<rect x="61.5" y="416.9" width="17.2" height="23.9" fill="#DD454B" stroke="#333" stroke-width="0.7"/>
<line x1="61.5" y1="430.3" x2="78.7" y2="430.3" stroke="#333" stroke-width="1.2"/>
<circle cx="48.4" cy="418.6" r="1.15" fill="#000"/>
<circle cx="44.3" cy="429.4" r="1.15" fill="#000"/>
<circle cx="51.9" cy="432.6" r="1.15" fill="#000"/>
<circle cx="51.9" cy="436.4" r="1.15" fill="#000"/>
<circle cx="48.4" cy="440.8" r="1.15" fill="#000"/>
<circle cx="51.9" cy="445.2" r="1.15" fill="#000"/>
<circle cx="41.4" cy="446.9" r="1.15" fill="#000"/>
<circle cx="48.9" cy="446.9" r="1.15" fill="#000"/>
<circle cx="51" cy="453.9" r="1.15" fill="#000"/>
<circle cx="43" cy="444" r="1.15" fill="#000"/>
<circle cx="68.28" cy="403.09" r="1.15" fill="#000"/>
<circle cx="64.02" cy="436.87" r="1.15" fill="#000"/>
<circle cx="66.73" cy="411.98" r="1.15" fill="#000"/>
<circle cx="69.68" cy="416.77" r="1.15" fill="#000"/>
<circle cx="72.05" cy="449.14" r="1.15" fill="#000"/>
<circle cx="75.25" cy="405.84" r="1.15" fill="#000"/>
<circle cx="72.5" cy="438.08" r="1.15" fill="#000"/>
<circle cx="71.38" cy="409.57" r="1.15" fill="#000"/>
<circle cx="75.22" cy="417.32" r="1.15" fill="#000"/>
<circle cx="75.4" cy="426.53" r="1.15" fill="#000"/>
<circle cx="68.63" cy="439.97" r="1.15" fill="#000"/>
<circle cx="76.2" cy="448.58" r="1.15" fill="#000"/>
<circle cx="65" cy="442.51" r="1.15" fill="#000"/>
<circle cx="69.21" cy="415.85" r="1.15" fill="#000"/>
<circle cx="70.2" cy="433.46" r="1.15" fill="#000"/>
<circle cx="71.29" cy="421.6" r="1.15" fill="#000"/>
<circle cx="72.65" cy="439.79" r="1.15" fill="#000"/>
<circle cx="76.97" cy="455.79" r="1.15" fill="#000"/>
<circle cx="75.15" cy="432.01" r="1.15" fill="#000"/>
<circle cx="71.07" cy="456.63" r="1.15" fill="#000"/>
<circle cx="74.74" cy="432.52" r="1.15" fill="#000"/>
<circle cx="63.99" cy="433.29" r="1.15" fill="#000"/>
<circle cx="64.34" cy="458.12" r="1.15" fill="#000"/>
<circle cx="65.21" cy="447.98" r="1.15" fill="#000"/>
<circle cx="75.32" cy="427.2" r="1.15" fill="#000"/>
<circle cx="63.73" cy="405.22" r="1.15" fill="#000"/>
<circle cx="75.43" cy="433.78" r="1.15" fill="#000"/>
<circle cx="77.08" cy="449.64" r="1.15" fill="#000"/>
<circle cx="71.5" cy="417.93" r="1.15" fill="#000"/>
<circle cx="68.81" cy="392.58" r="1.15" fill="#000"/>
<circle cx="63.69" cy="431.94" r="1.15" fill="#000"/>
<circle cx="76.52" cy="446.29" r="1.15" fill="#000"/>
<circle cx="69.55" cy="447.41" r="1.15" fill="#000"/>
<circle cx="71.44" cy="437.06" r="1.15" fill="#000"/>
<circle cx="76.27" cy="436.81" r="1.15" fill="#000"/>
<circle cx="73.18" cy="434.83" r="1.15" fill="#000"/>
<circle cx="76.79" cy="395.72" r="1.15" fill="#000"/>
<circle cx="63.26" cy="436.06" r="1.15" fill="#000"/>
<circle cx="63.38" cy="424.67" r="1.15" fill="#000"/>
<circle cx="63.94" cy="436.94" r="1.15" fill="#000"/>
<circle cx="72.61" cy="435.2" r="1.15" fill="#000"/>
<circle cx="73.43" cy="426.37" r="1.15" fill="#000"/>
<circle cx="72.56" cy="388.44" r="1.15" fill="#000"/>
<circle cx="69.49" cy="445.19" r="1.15" fill="#000"/>
<circle cx="68.2" cy="433.66" r="1.15" fill="#000"/>
<circle cx="71.44" cy="421.85" r="1.15" fill="#000"/>
<circle cx="73.91" cy="421.95" r="1.15" fill="#000"/>
<circle cx="73.39" cy="403.85" r="1.15" fill="#000"/>
<circle cx="74.35" cy="419.88" r="1.15" fill="#000"/>
<circle cx="69.19" cy="392.28" r="1.15" fill="#000"/>
<circle cx="67.61" cy="431.37" r="1.15" fill="#000"/>
<circle cx="69.24" cy="428.07" r="1.15" fill="#000"/>
<circle cx="67.81" cy="443.76" r="1.15" fill="#000"/>
<circle cx="69.42" cy="439.59" r="1.15" fill="#000"/>
<circle cx="70.51" cy="390.26" r="1.15" fill="#000"/>
<circle cx="74.84" cy="411.05" r="1.15" fill="#000"/>
<circle cx="74.4" cy="395.04" r="1.15" fill="#000"/>
<circle cx="67.93" cy="438.77" r="1.15" fill="#000"/>
<circle cx="74.21" cy="395.45" r="1.15" fill="#000"/>
<circle cx="68.94" cy="421.54" r="1.15" fill="#000"/>
<circle cx="75.99" cy="422.39" r="1.15" fill="#000"/>
<circle cx="76.31" cy="386.74" r="1.15" fill="#000"/>
<circle cx="69.18" cy="458.07" r="1.15" fill="#000"/>
<circle cx="66.21" cy="457.03" r="1.15" fill="#000"/>
<circle cx="72.38" cy="439.09" r="1.15" fill="#000"/>
<circle cx="67.87" cy="433.33" r="1.15" fill="#000"/>
<circle cx="71.34" cy="388.66" r="1.15" fill="#000"/>
<circle cx="63.73" cy="427.76" r="1.15" fill="#000"/>
<circle cx="67.6" cy="355.2" r="1.15" fill="#000"/>
<path d="M46.6 354.8V352.3H70V354.8" fill="none" stroke="#222" stroke-width="1.1"/>
<text x="58.3" y="349.4" font-size="7.1" text-anchor="middle" fill="#222" color="#222">p=0.034</text>
<line x1="108.3" y1="360.3" x2="109.8" y2="360.3" stroke="#333" stroke-width="0.8"/>
<text x="105" y="363.36" font-size="8.5" text-anchor="end" fill="#4D4D4D" color="#4D4D4D">6</text>
<line x1="108.3" y1="392.5" x2="109.8" y2="392.5" stroke="#333" stroke-width="0.8"/>
<text x="105" y="395.56" font-size="8.5" text-anchor="end" fill="#4D4D4D" color="#4D4D4D">5</text>
<line x1="108.3" y1="424.7" x2="109.8" y2="424.7" stroke="#333" stroke-width="0.8"/>
<text x="105" y="427.76" font-size="8.5" text-anchor="end" fill="#4D4D4D" color="#4D4D4D">4</text>
<line x1="108.3" y1="456.9" x2="109.8" y2="456.9" stroke="#333" stroke-width="0.8"/>
<text x="105" y="459.96" font-size="8.5" text-anchor="end" fill="#4D4D4D" color="#4D4D4D">3</text>
<line x1="123.8" y1="403.9" x2="123.8" y2="410.6" stroke="#555" stroke-width="1.0"/>
<line x1="123.8" y1="417.3" x2="123.8" y2="420.2" stroke="#555" stroke-width="1.0"/>
<rect x="114.8" y="410.6" width="18" height="6.7" fill="#BEBEBE" stroke="#333" stroke-width="0.7"/>
<line x1="114.8" y1="413.5" x2="132.8" y2="413.5" stroke="#333" stroke-width="1.2"/>
<line x1="146.9" y1="357.2" x2="146.9" y2="386.4" stroke="#555" stroke-width="1.0"/>
<line x1="146.9" y1="411.5" x2="146.9" y2="428" stroke="#555" stroke-width="1.0"/>
<rect x="138.1" y="386.4" width="17.6" height="25.1" fill="#DD454B" stroke="#333" stroke-width="0.7"/>
<line x1="138.1" y1="399.8" x2="155.7" y2="399.8" stroke="#333" stroke-width="1.2"/>
<circle cx="119" cy="414" r="1.15" fill="#000"/>
<circle cx="125" cy="411.5" r="1.15" fill="#000"/>
<circle cx="128" cy="403.5" r="1.15" fill="#000"/>
<circle cx="121" cy="418.5" r="1.15" fill="#000"/>
<circle cx="129" cy="417.8" r="1.15" fill="#000"/>
<circle cx="117.5" cy="416.5" r="1.15" fill="#000"/>
<circle cx="151.03" cy="408.48" r="1.15" fill="#000"/>
<circle cx="152.81" cy="423.71" r="1.15" fill="#000"/>
<circle cx="153.11" cy="370.8" r="1.15" fill="#000"/>
<circle cx="141.48" cy="410.34" r="1.15" fill="#000"/>
<circle cx="147.51" cy="389.7" r="1.15" fill="#000"/>
<circle cx="142.93" cy="399.95" r="1.15" fill="#000"/>
<circle cx="150.62" cy="398.68" r="1.15" fill="#000"/>
<circle cx="141.84" cy="380.48" r="1.15" fill="#000"/>
<circle cx="139.92" cy="401.28" r="1.15" fill="#000"/>
<circle cx="142.92" cy="414.96" r="1.15" fill="#000"/>
<circle cx="143.95" cy="425.89" r="1.15" fill="#000"/>
<circle cx="149.39" cy="420.4" r="1.15" fill="#000"/>
<circle cx="149.57" cy="384.68" r="1.15" fill="#000"/>
<circle cx="144.08" cy="426.25" r="1.15" fill="#000"/>
<circle cx="141.94" cy="388.62" r="1.15" fill="#000"/>
<circle cx="148.34" cy="366" r="1.15" fill="#000"/>
<circle cx="144.63" cy="377" r="1.15" fill="#000"/>
<circle cx="146.63" cy="397.37" r="1.15" fill="#000"/>
<circle cx="149.77" cy="392.85" r="1.15" fill="#000"/>
<circle cx="140.22" cy="385.67" r="1.15" fill="#000"/>
<circle cx="140.15" cy="409.69" r="1.15" fill="#000"/>
<circle cx="148" cy="417.54" r="1.15" fill="#000"/>
<circle cx="142.43" cy="358.56" r="1.15" fill="#000"/>
<circle cx="150.48" cy="414.74" r="1.15" fill="#000"/>
<circle cx="144.72" cy="427.04" r="1.15" fill="#000"/>
<circle cx="150.76" cy="393.43" r="1.15" fill="#000"/>
<circle cx="151.06" cy="379.05" r="1.15" fill="#000"/>
<circle cx="153.14" cy="412.1" r="1.15" fill="#000"/>
<circle cx="148.45" cy="367.15" r="1.15" fill="#000"/>
<circle cx="152.84" cy="417.11" r="1.15" fill="#000"/>
<circle cx="144.34" cy="403.46" r="1.15" fill="#000"/>
<circle cx="141.98" cy="359.48" r="1.15" fill="#000"/>
<circle cx="142.16" cy="411.46" r="1.15" fill="#000"/>
<circle cx="147.37" cy="386.01" r="1.15" fill="#000"/>
<circle cx="148.22" cy="389.58" r="1.15" fill="#000"/>
<circle cx="145.8" cy="419.02" r="1.15" fill="#000"/>
<circle cx="140.36" cy="383.95" r="1.15" fill="#000"/>
<circle cx="141.73" cy="397.63" r="1.15" fill="#000"/>
<circle cx="148.73" cy="410.91" r="1.15" fill="#000"/>
<circle cx="145.98" cy="413.26" r="1.15" fill="#000"/>
<circle cx="144.03" cy="381.87" r="1.15" fill="#000"/>
<circle cx="151.83" cy="399.79" r="1.15" fill="#000"/>
<circle cx="146.73" cy="418.98" r="1.15" fill="#000"/>
<circle cx="143.97" cy="405.4" r="1.15" fill="#000"/>
<circle cx="145.18" cy="388.36" r="1.15" fill="#000"/>
<circle cx="148.68" cy="427.34" r="1.15" fill="#000"/>
<circle cx="148.9" cy="458.7" r="1.15" fill="#000"/>
<path d="M123.6 354.2V351.7H146.9V354.2" fill="none" stroke="#222" stroke-width="1.1"/>
<text x="135.25" y="348.8" font-size="7.1" text-anchor="middle" fill="#222" color="#222">p=0.047</text>
<rect x="0.2" y="472.2" width="13.3" height="12.9" fill="#BEBEBE" stroke="#1a1a1a" stroke-width="1.5"/>
<rect x="0.2" y="499.2" width="13.3" height="12.9" fill="#DD454B" stroke="#1a1a1a" stroke-width="1.5"/>
<text x="20" y="476.2" font-size="7.25" fill="#5E5E5E" color="#5E5E5E">healthy-donor</text>
<text x="20" y="485" font-size="7.25" fill="#5E5E5E" color="#5E5E5E">CD3+ T cells (n=10)</text>
<text x="20" y="504.2" font-size="7.25" fill="#5E5E5E" color="#5E5E5E">active T-PLL</text>
<text x="20" y="513" font-size="7.25" fill="#5E5E5E" color="#5E5E5E">(n=69)</text>
<rect x="100.6" y="472.2" width="13.3" height="12.9" fill="#BEBEBE" stroke="#1a1a1a" stroke-width="1.5"/>
<rect x="100.6" y="499.2" width="13.3" height="12.9" fill="#DD454B" stroke="#1a1a1a" stroke-width="1.5"/>
<text x="120.7" y="476.2" font-size="7.25" fill="#5E5E5E" color="#5E5E5E">healthy-donor</text>
<text x="120.7" y="485" font-size="7.25" fill="#5E5E5E" color="#5E5E5E">CD3+ T cells (n=6)</text>
<text x="120.7" y="504.2" font-size="7.25" fill="#5E5E5E" color="#5E5E5E">active T-PLL</text>
<text x="120.7" y="513" font-size="7.25" fill="#5E5E5E" color="#5E5E5E">(n=48)</text>
<text x="202" y="339" font-size="18" font-weight="bold">E</text>
<text x="239.3" y="339" font-size="9.4" letter-spacing="0.38" font-weight="bold">Basal energy metabolism <tspan font-style="italic">ex vivo</tspan></text>
<text x="267.2" y="352.5" font-size="8.6" font-weight="bold" text-anchor="middle">glycolysis</text>
<text x="378.1" y="352.5" font-size="8.6" font-weight="bold" text-anchor="middle">respiration</text>
<line x1="229.5" y1="375.4" x2="231" y2="375.4" stroke="#333" stroke-width="0.8"/>
<text x="226" y="378.46" font-size="8.5" text-anchor="end" fill="#4D4D4D" color="#4D4D4D">30</text>
<line x1="229.5" y1="413.3" x2="231" y2="413.3" stroke="#333" stroke-width="0.8"/>
<text x="226" y="416.36" font-size="8.5" text-anchor="end" fill="#4D4D4D" color="#4D4D4D">20</text>
<line x1="229.5" y1="451.2" x2="231" y2="451.2" stroke="#333" stroke-width="0.8"/>
<text x="226" y="454.26" font-size="8.5" text-anchor="end" fill="#4D4D4D" color="#4D4D4D">10</text>
<text x="209.3" y="425" font-size="8.6" text-anchor="middle" transform="rotate(-90 209.3 425)">ECAR [mmpH/min]</text>
<line x1="243.9" y1="455.7" x2="243.9" y2="457.1" stroke="#555" stroke-width="1.0"/>
<line x1="243.9" y1="470.3" x2="243.9" y2="473.9" stroke="#555" stroke-width="1.0"/>
<rect x="235.1" y="457.1" width="17.6" height="13.2" fill="#BEBEBE" stroke="#333" stroke-width="0.7"/>
<line x1="235.1" y1="463.9" x2="252.7" y2="463.9" stroke="#333" stroke-width="1.2"/>
<line x1="267.4" y1="471.5" x2="267.4" y2="471.5" stroke="#555" stroke-width="1.0"/>
<line x1="267.4" y1="477" x2="267.4" y2="478.8" stroke="#555" stroke-width="1.0"/>
<rect x="258.5" y="471.5" width="17.8" height="5.5" fill="#3C5E8B" stroke="#333" stroke-width="0.7"/>
<line x1="258.5" y1="473" x2="276.3" y2="473" stroke="#333" stroke-width="1.2"/>
<line x1="291.1" y1="423.4" x2="291.1" y2="443.8" stroke="#555" stroke-width="1.0"/>
<line x1="291.1" y1="459.5" x2="291.1" y2="469.3" stroke="#555" stroke-width="1.0"/>
<rect x="282.25" y="443.8" width="17.7" height="15.7" fill="#DD454B" stroke="#333" stroke-width="0.7"/>
<line x1="282.25" y1="457.5" x2="299.95" y2="457.5" stroke="#333" stroke-width="1.2"/>
<circle cx="246.1" cy="455.7" r="1.15" fill="#000"/>
<circle cx="240.6" cy="459.9" r="1.15" fill="#000"/>
<circle cx="244.6" cy="467.9" r="1.15" fill="#000"/>
<circle cx="246.5" cy="473.9" r="1.15" fill="#000"/>
<circle cx="242.2" cy="384.7" r="1.15" fill="#000"/>
<circle cx="243.5" cy="470" r="1.15" fill="#000"/>
<circle cx="266.2" cy="471.5" r="1.15" fill="#000"/>
<circle cx="268.9" cy="471.5" r="1.15" fill="#000"/>
<circle cx="269.8" cy="478.8" r="1.15" fill="#000"/>
<circle cx="265" cy="473.5" r="1.15" fill="#000"/>
<circle cx="270" cy="474" r="1.15" fill="#000"/>
<circle cx="290.8" cy="423.4" r="1.15" fill="#000"/>
<circle cx="293.5" cy="438.7" r="1.15" fill="#000"/>
<circle cx="289" cy="441.6" r="1.15" fill="#000"/>
<circle cx="291.2" cy="450.5" r="1.15" fill="#000"/>
<circle cx="291.2" cy="458" r="1.15" fill="#000"/>
<circle cx="290" cy="469.3" r="1.15" fill="#000"/>
<circle cx="293" cy="456.5" r="1.15" fill="#000"/>
<circle cx="289.5" cy="457.3" r="1.15" fill="#000"/>
<path d="M243.5 407.9V405.4H267.6V407.9" fill="none" stroke="#222" stroke-width="1.1"/>
<text x="255.55" y="402.3" font-size="7.1" text-anchor="middle" fill="#222" color="#222">p=0.03</text>
<path d="M243.5 392.8V390.3H291.3V392.8" fill="none" stroke="#222" stroke-width="1.1"/>
<text x="267.4" y="387.2" font-size="7.1" text-anchor="middle" fill="#222" color="#222">p=0.368</text>
<path d="M267.6 377.8V375.3H291.3V377.8" fill="none" stroke="#222" stroke-width="1.1"/>
<text x="279.45" y="372.2" font-size="7.1" text-anchor="middle" fill="#222" color="#222">p=0.0007</text>
<line x1="344.8" y1="399.98" x2="346.3" y2="399.98" stroke="#333" stroke-width="0.8"/>
<text x="341.3" y="403.04" font-size="8.5" text-anchor="end" fill="#4D4D4D" color="#4D4D4D">40</text>
<line x1="344.8" y1="439.64" x2="346.3" y2="439.64" stroke="#333" stroke-width="0.8"/>
<text x="341.3" y="442.7" font-size="8.5" text-anchor="end" fill="#4D4D4D" color="#4D4D4D">20</text>
<line x1="344.8" y1="479.3" x2="346.3" y2="479.3" stroke="#333" stroke-width="0.8"/>
<text x="341.3" y="482.36" font-size="8.5" text-anchor="end" fill="#4D4D4D" color="#4D4D4D">0</text>
<text x="327.4" y="424" font-size="8.6" text-anchor="middle" transform="rotate(-90 327.4 424)">OCR [pMoles/min]</text>
<line x1="362.8" y1="439.3" x2="362.8" y2="442.2" stroke="#555" stroke-width="1.0"/>
<line x1="362.8" y1="458.3" x2="362.8" y2="463.5" stroke="#555" stroke-width="1.0"/>
<rect x="353.75" y="442.2" width="18.1" height="16.1" fill="#BEBEBE" stroke="#333" stroke-width="0.7"/>
<line x1="353.75" y1="454.8" x2="371.85" y2="454.8" stroke="#333" stroke-width="1.2"/>
<line x1="387" y1="441.7" x2="387" y2="448.1" stroke="#555" stroke-width="1.0"/>
<line x1="387" y1="467" x2="387" y2="478.7" stroke="#555" stroke-width="1.0"/>
<rect x="378.25" y="448.1" width="17.5" height="18.9" fill="#3C5E8B" stroke="#333" stroke-width="0.7"/>
<line x1="378.25" y1="464.7" x2="395.75" y2="464.7" stroke="#333" stroke-width="1.2"/>
<line x1="410.8" y1="402.3" x2="410.8" y2="417.5" stroke="#555" stroke-width="1.0"/>
<line x1="410.8" y1="443.7" x2="410.8" y2="456" stroke="#555" stroke-width="1.0"/>
<rect x="401.6" y="417.5" width="18.4" height="26.2" fill="#DD454B" stroke="#333" stroke-width="0.7"/>
<line x1="401.6" y1="425.6" x2="420" y2="425.6" stroke="#333" stroke-width="1.2"/>
<circle cx="361.6" cy="439.3" r="1.15" fill="#000"/>
<circle cx="363.1" cy="455.4" r="1.15" fill="#000"/>
<circle cx="359.3" cy="464.7" r="1.15" fill="#000"/>
<circle cx="359.6" cy="397" r="1.15" fill="#000"/>
<circle cx="365" cy="453" r="1.15" fill="#000"/>
<circle cx="361" cy="455.5" r="1.15" fill="#000"/>
<circle cx="385.8" cy="441.7" r="1.15" fill="#000"/>
<circle cx="384.5" cy="448.5" r="1.15" fill="#000"/>
<circle cx="387.9" cy="478.7" r="1.15" fill="#000"/>
<circle cx="386" cy="464.5" r="1.15" fill="#000"/>
<circle cx="389" cy="465" r="1.15" fill="#000"/>
<circle cx="410.6" cy="402.3" r="1.15" fill="#000"/>
<circle cx="408.3" cy="414" r="1.15" fill="#000"/>
<circle cx="412.1" cy="417.5" r="1.15" fill="#000"/>
<circle cx="409.8" cy="430.6" r="1.15" fill="#000"/>
<circle cx="412.7" cy="440.8" r="1.15" fill="#000"/>
<circle cx="412.1" cy="456" r="1.15" fill="#000"/>
<circle cx="410" cy="425.5" r="1.15" fill="#000"/>
<circle cx="413" cy="424.8" r="1.15" fill="#000"/>
<path d="M362.5 395.2V392.7H386.4V395.2" fill="none" stroke="#222" stroke-width="1.1"/>
<text x="374.45" y="389.6" font-size="7.1" text-anchor="middle" fill="#222" color="#222">p=0.329</text>
<path d="M362.5 384.1V381.6H410.6V384.1" fill="none" stroke="#222" stroke-width="1.1"/>
<text x="386.55" y="378.5" font-size="7.1" text-anchor="middle" fill="#222" color="#222">p=0.147</text>
<path d="M386.4 371V368.5H410.6V371" fill="none" stroke="#222" stroke-width="1.1"/>
<text x="398.5" y="365.6" font-size="7.1" text-anchor="middle" fill="#222" color="#222">p=0.013</text>
<rect x="202.2" y="500.5" width="13.5" height="13.1" fill="#BEBEBE" stroke="#1a1a1a" stroke-width="1.5"/>
<rect x="297.3" y="500.5" width="13.2" height="13.1" fill="#3C5E8B" stroke="#1a1a1a" stroke-width="1.5"/>
<rect x="368.5" y="500.5" width="13.2" height="13.1" fill="#DD454B" stroke="#1a1a1a" stroke-width="1.5"/>
<text x="221.8" y="504.5" font-size="7.25" fill="#5E5E5E" color="#5E5E5E">healthy-donor</text>
<text x="221.8" y="513" font-size="7.25" fill="#5E5E5E" color="#5E5E5E">CD3+ T cells (n=6)</text>
<text x="316.6" y="504.5" font-size="7.25" fill="#5E5E5E" color="#5E5E5E">indolent T-PLL</text>
<text x="316.6" y="513" font-size="7.25" fill="#5E5E5E" color="#5E5E5E">(n=5)</text>
<text x="388.1" y="504.5" font-size="7.25" fill="#5E5E5E" color="#5E5E5E">active T-PLL</text>
<text x="388.1" y="513" font-size="7.25" fill="#5E5E5E" color="#5E5E5E">(n=10)</text>
<text x="459" y="339" font-size="18" font-weight="bold">F</text>
<text x="488.9" y="339" font-size="9.4" font-weight="bold" letter-spacing="0.38">TCR-stim. induced energy metabolism</text>
<text x="483.1" y="353.4" font-size="8.6" font-weight="bold">Δ glycolytic capacity</text>
<text x="593.6" y="353.3" font-size="8.6" font-weight="bold">Δ maximal respiration</text>
<line x1="489.9" y1="404.7" x2="491.4" y2="404.7" stroke="#333" stroke-width="0.8"/>
<text x="486.4" y="407.76" font-size="8.5" text-anchor="end" fill="#4D4D4D" color="#4D4D4D">200</text>
<line x1="489.9" y1="440.3" x2="491.4" y2="440.3" stroke="#333" stroke-width="0.8"/>
<text x="486.4" y="443.36" font-size="8.5" text-anchor="end" fill="#4D4D4D" color="#4D4D4D">100</text>
<line x1="489.9" y1="475.9" x2="491.4" y2="475.9" stroke="#333" stroke-width="0.8"/>
<text x="486.4" y="478.96" font-size="8.5" text-anchor="end" fill="#4D4D4D" color="#4D4D4D">0</text>
<text x="467.3" y="424.5" font-size="8.6" text-anchor="middle" transform="rotate(-90 467.3 424.5)">Δ ECAR [mmpH/min]</text>
<line x1="504.3" y1="430.4" x2="504.3" y2="439.3" stroke="#555" stroke-width="1.0"/>
<line x1="504.3" y1="446.7" x2="504.3" y2="455" stroke="#555" stroke-width="1.0"/>
<rect x="495.45" y="439.3" width="17.7" height="7.4" fill="#BEBEBE" stroke="#333" stroke-width="0.7"/>
<line x1="495.45" y1="443.3" x2="513.15" y2="443.3" stroke="#333" stroke-width="1.2"/>
<line x1="528.2" y1="471.5" x2="528.2" y2="471.5" stroke="#555" stroke-width="1.0"/>
<line x1="528.2" y1="477.4" x2="528.2" y2="477.4" stroke="#555" stroke-width="1.0"/>
<rect x="519.35" y="471.5" width="17.7" height="5.9" fill="#3C5E8B" stroke="#333" stroke-width="0.7"/>
<line x1="519.35" y1="476.6" x2="537.05" y2="476.6" stroke="#333" stroke-width="1.2"/>
<line x1="551.5" y1="416.1" x2="551.5" y2="433.6" stroke="#555" stroke-width="1.0"/>
<line x1="551.5" y1="468.3" x2="551.5" y2="474" stroke="#555" stroke-width="1.0"/>
<rect x="542.7" y="433.6" width="17.6" height="34.7" fill="#DD454B" stroke="#333" stroke-width="0.7"/>
<line x1="542.7" y1="457.3" x2="560.3" y2="457.3" stroke="#333" stroke-width="1.2"/>
<circle cx="505.5" cy="430.7" r="1.15" fill="#000"/>
<circle cx="504.5" cy="438.9" r="1.15" fill="#000"/>
<circle cx="501.7" cy="444.6" r="1.15" fill="#000"/>
<circle cx="504.9" cy="447.4" r="1.15" fill="#000"/>
<circle cx="501.7" cy="455" r="1.15" fill="#000"/>
<circle cx="506" cy="442" r="1.15" fill="#000"/>
<circle cx="527.3" cy="459.2" r="1.15" fill="#000"/>
<circle cx="528.2" cy="471.7" r="1.15" fill="#000"/>
<circle cx="527.7" cy="477.4" r="1.15" fill="#000"/>
<circle cx="526" cy="476.5" r="1.15" fill="#000"/>
<circle cx="529.5" cy="476.8" r="1.15" fill="#000"/>
<circle cx="553.5" cy="416.1" r="1.15" fill="#000"/>
<circle cx="550.6" cy="423.1" r="1.15" fill="#000"/>
<circle cx="549.1" cy="430.7" r="1.15" fill="#000"/>
<circle cx="553.9" cy="439.8" r="1.15" fill="#000"/>
<circle cx="551" cy="455.6" r="1.15" fill="#000"/>
<circle cx="551.5" cy="458" r="1.15" fill="#000"/>
<circle cx="552.5" cy="461.1" r="1.15" fill="#000"/>
<circle cx="550" cy="470.6" r="1.15" fill="#000"/>
<circle cx="549.5" cy="472" r="1.15" fill="#000"/>
<circle cx="549.1" cy="473.6" r="1.15" fill="#000"/>
<path d="M504.1 402.1V399.6H527.8V402.1" fill="none" stroke="#222" stroke-width="1.1"/>
<text x="515.95" y="396.7" font-size="7.1" text-anchor="middle" fill="#222" color="#222">p=0.004</text>
<path d="M504.1 390.1V387.6H552V390.1" fill="none" stroke="#222" stroke-width="1.1"/>
<text x="528.05" y="384.7" font-size="7.1" text-anchor="middle" fill="#222" color="#222">p=0.428</text>
<path d="M527.8 377.8V375.3H552V377.8" fill="none" stroke="#222" stroke-width="1.1"/>
<text x="539.9" y="372.4" font-size="7.1" text-anchor="middle" fill="#222" color="#222">p=0.028</text>
<line x1="608.2" y1="407.7" x2="609.4" y2="407.7" stroke="#333" stroke-width="0.8"/>
<text x="607" y="410.76" font-size="8.5" text-anchor="end" fill="#4D4D4D" color="#4D4D4D">400</text>
<line x1="608.2" y1="439.3" x2="609.4" y2="439.3" stroke="#333" stroke-width="0.8"/>
<text x="607" y="442.36" font-size="8.5" text-anchor="end" fill="#4D4D4D" color="#4D4D4D">200</text>
<line x1="608.2" y1="470.9" x2="609.4" y2="470.9" stroke="#333" stroke-width="0.8"/>
<text x="607" y="473.96" font-size="8.5" text-anchor="end" fill="#4D4D4D" color="#4D4D4D">0</text>
<text x="588.8" y="428.7" font-size="8.6" text-anchor="middle" transform="rotate(-90 588.8 428.7)">Δ OCR [pMoles/min]</text>
<line x1="627" y1="395.3" x2="627" y2="436.3" stroke="#555" stroke-width="1.0"/>
<line x1="627" y1="469.9" x2="627" y2="479.9" stroke="#555" stroke-width="1.0"/>
<rect x="618.45" y="436.3" width="17.1" height="33.6" fill="#BEBEBE" stroke="#333" stroke-width="0.7"/>
<line x1="618.45" y1="460" x2="635.55" y2="460" stroke="#333" stroke-width="1.2"/>
<line x1="649.9" y1="463.1" x2="649.9" y2="463.1" stroke="#555" stroke-width="1.0"/>
<line x1="649.9" y1="471.5" x2="649.9" y2="471.5" stroke="#555" stroke-width="1.0"/>
<rect x="641.5" y="463.1" width="16.8" height="8.4" fill="#3C5E8B" stroke="#333" stroke-width="0.7"/>
<line x1="641.5" y1="466.8" x2="658.3" y2="466.8" stroke="#333" stroke-width="1.2"/>
<line x1="673.9" y1="421.7" x2="673.9" y2="430.4" stroke="#555" stroke-width="1.0"/>
<line x1="673.9" y1="460" x2="673.9" y2="463" stroke="#555" stroke-width="1.0"/>
<rect x="665.05" y="430.4" width="17.7" height="29.6" fill="#DD454B" stroke="#333" stroke-width="0.7"/>
<line x1="665.05" y1="453.4" x2="682.75" y2="453.4" stroke="#333" stroke-width="1.2"/>
<circle cx="625.9" cy="395.3" r="1.15" fill="#000"/>
<circle cx="627.8" cy="428.9" r="1.15" fill="#000"/>
<circle cx="625.3" cy="457.5" r="1.15" fill="#000"/>
<circle cx="625.3" cy="463.7" r="1.15" fill="#000"/>
<circle cx="629" cy="472.4" r="1.15" fill="#000"/>
<circle cx="624.4" cy="479.9" r="1.15" fill="#000"/>
<circle cx="650.2" cy="463.1" r="1.15" fill="#000"/>
<circle cx="650.2" cy="471.5" r="1.15" fill="#000"/>
<circle cx="648" cy="466" r="1.15" fill="#000"/>
<circle cx="672" cy="421.7" r="1.15" fill="#000"/>
<circle cx="675.7" cy="423.3" r="1.15" fill="#000"/>
<circle cx="674.1" cy="441.9" r="1.15" fill="#000"/>
<circle cx="672" cy="460" r="1.15" fill="#000"/>
<circle cx="674.4" cy="463" r="1.15" fill="#000"/>
<circle cx="676" cy="454" r="1.15" fill="#000"/>
<path d="M625.9 390.6V388.1H650.2V390.6" fill="none" stroke="#222" stroke-width="1.1"/>
<text x="638.05" y="385.3" font-size="7.1" text-anchor="middle" fill="#222" color="#222">p=0.662</text>
<path d="M625.9 379.8V377.3H673.5V379.8" fill="none" stroke="#222" stroke-width="1.1"/>
<text x="649.7" y="374.5" font-size="7.1" text-anchor="middle" fill="#222" color="#222">p=0.428</text>
<path d="M650.2 368.9V366.4H673.5V368.9" fill="none" stroke="#222" stroke-width="1.1"/>
<text x="661.85" y="363.6" font-size="7.1" text-anchor="middle" fill="#222" color="#222">p=0.003</text>
<rect x="459.7" y="500.5" width="13.2" height="13.1" fill="#BEBEBE" stroke="#1a1a1a" stroke-width="1.5"/>
<rect x="554.4" y="500.5" width="13.3" height="13.1" fill="#3C5E8B" stroke="#1a1a1a" stroke-width="1.5"/>
<rect x="626" y="500.5" width="13.2" height="13.1" fill="#DD454B" stroke="#1a1a1a" stroke-width="1.5"/>
<text x="478.6" y="504.5" font-size="7.25" fill="#5E5E5E" color="#5E5E5E">healthy-donor</text>
<text x="478.6" y="513" font-size="7.25" fill="#5E5E5E" color="#5E5E5E">CD3+ T cells (n=6)</text>
<text x="574.1" y="504.5" font-size="7.25" fill="#5E5E5E" color="#5E5E5E">indolent T-PLL</text>
<text x="574.1" y="513" font-size="7.25" fill="#5E5E5E" color="#5E5E5E">(n=5)</text>
<text x="645" y="504.5" font-size="7.25" fill="#5E5E5E" color="#5E5E5E">active T-PLL</text>
<text x="645" y="513" font-size="7.25" fill="#5E5E5E" color="#5E5E5E">(n=10)</text>
</svg></body></html>
